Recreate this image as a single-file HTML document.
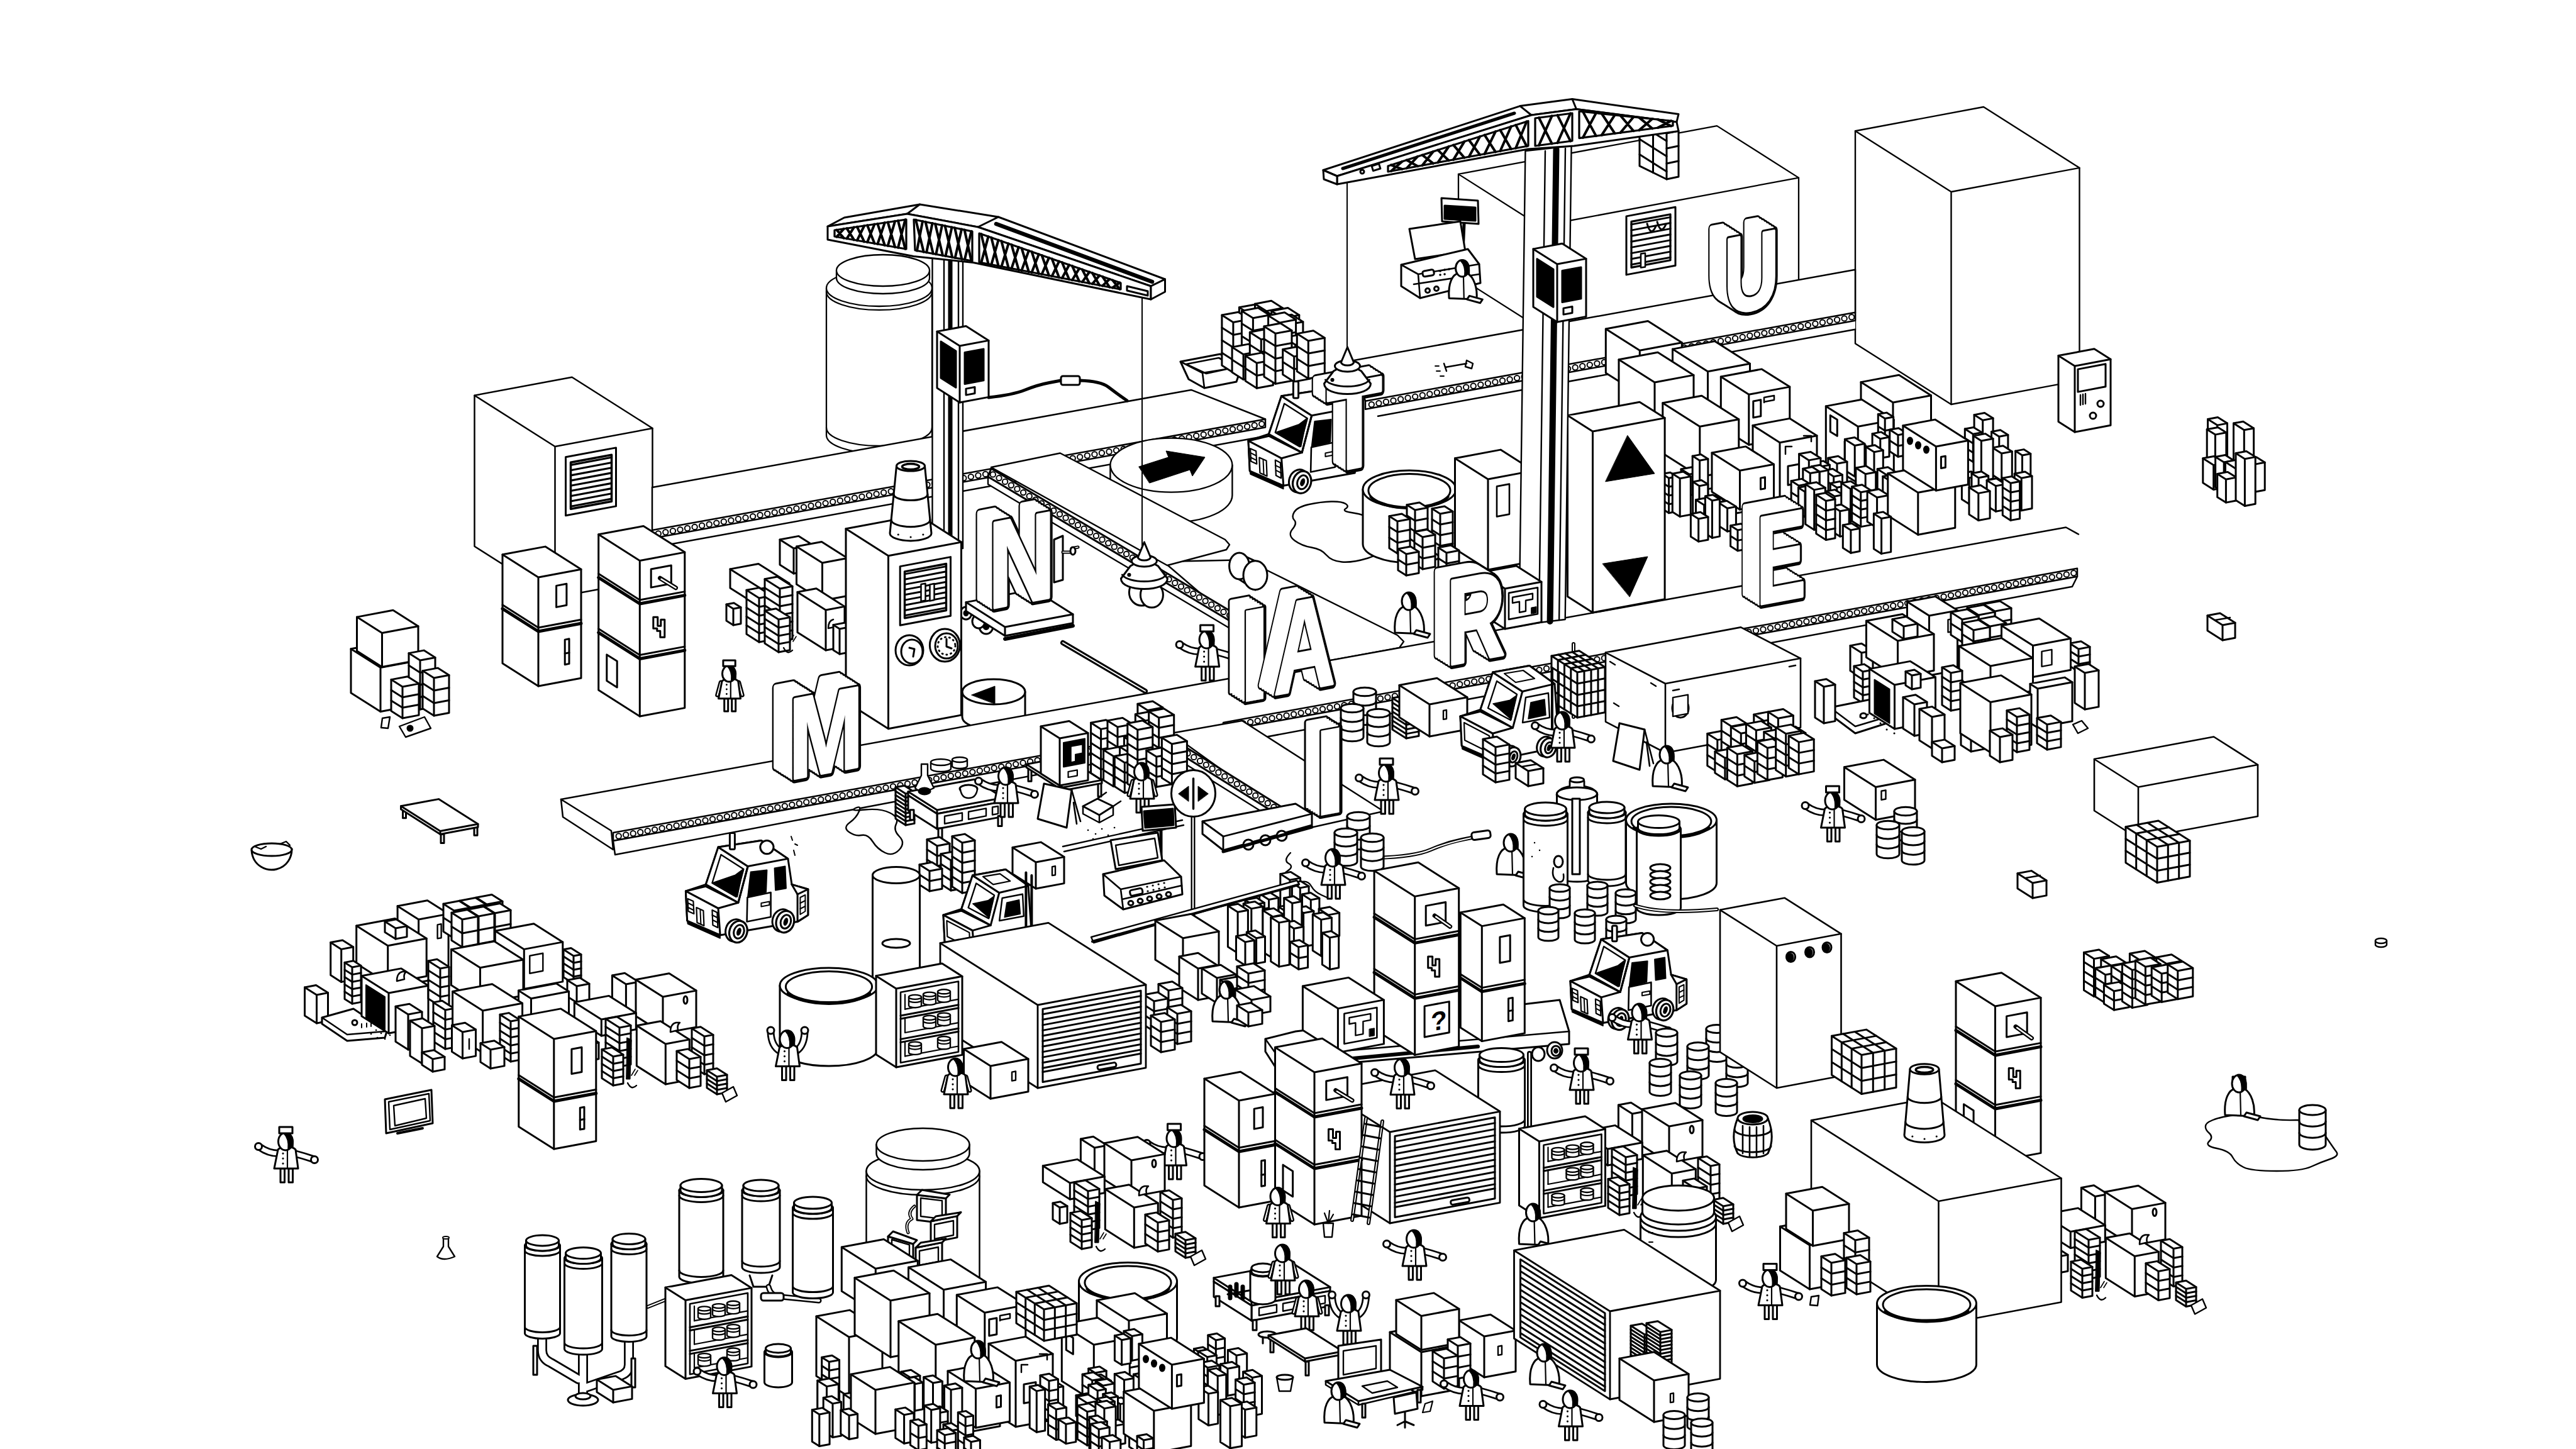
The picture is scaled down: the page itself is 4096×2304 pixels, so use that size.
<!DOCTYPE html>
<html><head><meta charset="utf-8"><title>Miniature</title>
<style>html,body{margin:0;padding:0;background:#fff;overflow:hidden}svg{display:block}text{font-family:"Liberation Sans",sans-serif}</style></head>
<body>
<svg width="4096" height="2304" viewBox="0 0 4096 2304" fill="#fff" stroke="#000" stroke-width="3" stroke-linejoin="round" stroke-linecap="round">
<rect x="-5" y="-5" width="4106" height="2314" fill="#fff" stroke="none"/>
<path d="M1314 458L1314 692A84 29 0 0 0 1482 692L1482 458Z" fill="#fff" stroke-width="2.3"/><ellipse cx="1398" cy="458" rx="84" ry="29" stroke-width="2.3"/><path d="M1314 680A84 29 0 0 0 1482 680" fill="none" stroke-width="2.3"/><path d="M1314 464A84 29 0 0 0 1482 464" fill="none" stroke-width="2.3"/><path d="M1330 430L1330 442A74 25 0 0 0 1478 442L1478 430Z" fill="#fff" stroke-width="2.3"/><ellipse cx="1404" cy="430" rx="74" ry="25" stroke-width="2.3"/>
<polygon points="754.5,628.7 909.5,599.7 1037.5,681 1037.5,921 882.5,950 754.5,868.7" stroke-width="2.5"/><path d="M754.5 628.7L882.5 710L1037.5 681M882.5 710L882.5 950" stroke-width="2.5"/><polygon points="899.5,726.8 979.5,711.9 979.5,804.9 899.5,819.8"/><polygon points="907.5,735.3 972.5,723.2 972.5,797.2 907.5,809.3" stroke-width="3.5"/><path d="M907.5 739.4L972.5 727.3M907.5 747.7L972.5 735.5M907.5 755.9L972.5 743.7M907.5 764.1L972.5 751.9M907.5 772.3L972.5 760.2M907.5 780.5L972.5 768.4M907.5 788.8L972.5 776.6M907.5 797L972.5 784.8M907.5 805.2L972.5 793.1" fill="none" stroke-width="3.2"/>
<polygon points="2950,208.2 3154,170 3306.5,266.9 3306.5,604.9 3102.5,643 2950,546.2" stroke-width="2.4"/><path d="M2950 208.2L3102.5 305L3306.5 266.9M3102.5 305L3102.5 643" stroke-width="2.4"/>
<polygon points="2319,276.9 2730,200.1 2860,282.6 2860,445.6 2449,522.5 2319,439.9" stroke-width="2.3"/><path d="M2319 276.9L2449 359.5L2860 282.6M2449 359.5L2449 522.5" stroke-width="2.3"/><polygon points="2586,343.9 2664,329.3 2664,422.3 2586,436.9"/><polygon points="2594,352.4 2656,340.8 2656,413.8 2594,425.4" stroke-width="3.2"/><path d="M2594 356.9L2656 345.4M2594 366.1L2656 354.5M2594 375.2L2656 363.6M2594 384.3L2656 372.7M2594 393.4L2656 381.9M2594 402.6L2656 391M2594 411.7L2656 400.1M2594 420.8L2656 409.2" fill="none"/><path d="M2619 355.7q6 22 14 4M2635 352.7q6 22 14 4" fill="none"/><polygon points="2609,403.6 2616,402.6 2616,424.6 2609,425.6" stroke-width="2.5"/>
<path d="M2328 356L2326 400" stroke-width="5"/><polygon points="2292,315 2350,319 2351,356 2293,352"/><polygon points="2297,327 2346,330 2346,351 2297,348" fill="#000"/><polygon points="2241,364 2322,352 2330,400 2250,412"/><polygon points="2228,421 2334,396 2352,420 2354,450 2258,474 2228,455"/><path d="M2228 421L2255 436L2352 420M2255 436L2258 474M2248 452L2352 436" fill="none" stroke-width="2.6"/><rect x="2262" y="430" width="18" height="9" rx="3" transform="rotate(-10 2270 434)"/><circle cx="2270" cy="462" r="3.5"/><circle cx="2284" cy="459" r="3.5"/><path d="M2290 431h.1M2297 429h.1M2304 428h.1M2290 437h.1M2297 436h.1" fill="none" stroke-width="3.5"/>
<path d="M2304.1 474.2C2302.2 449.5 2309.8 436.2 2319.3 434.3L2332.6 434.3C2344 440 2349.7 459 2347.8 476.1Z"/><path d="M2326.9 436.2L2327.8 474.2" stroke-width="2.2"/><ellipse cx="2325" cy="426.7" rx="10.4" ry="13.3"/><path d="M2322.2 414.4C2331.7 410.6 2337.3 418.1 2336.4 435.2L2328.8 438.1C2329.8 429.6 2327.8 420.1 2322.2 414.4Z" fill="#000" stroke-width="1.5"/><polygon points="2332.6,476.1 2353.5,481.8 2357.3,476.1 2336.4,470.4"/>
<polygon points="1037,775 1894,619.9 2012,666.5 2012,693.5 1037,870 1037,843" stroke="none"/><polyline points="1037,775 1894,619.9 2012,666.5" stroke-width="2.5"/><polyline points="1037,843 1037,775" stroke-width="2.5"/><polygon points="1037,843 2012,666.5 2012,679.5 1037,856" stroke-width="2.5"/><g stroke-width="2"><circle cx="1046.8" cy="848.4" r="4.2"/><circle cx="1058.3" cy="846.3" r="4.2"/><circle cx="1069.9" cy="844.2" r="4.2"/><circle cx="1081.5" cy="842.1" r="4.2"/><circle cx="1093" cy="840" r="4.2"/><circle cx="1104.6" cy="837.9" r="4.2"/><circle cx="1116.1" cy="835.8" r="4.2"/><circle cx="1127.7" cy="833.7" r="4.2"/><circle cx="1139.3" cy="831.6" r="4.2"/><circle cx="1150.8" cy="829.5" r="4.2"/><circle cx="1162.4" cy="827.4" r="4.2"/><circle cx="1173.9" cy="825.3" r="4.2"/><circle cx="1185.5" cy="823.2" r="4.2"/><circle cx="1197.1" cy="821.1" r="4.2"/><circle cx="1208.6" cy="819" r="4.2"/><circle cx="1220.2" cy="816.9" r="4.2"/><circle cx="1231.7" cy="814.8" r="4.2"/><circle cx="1243.3" cy="812.7" r="4.2"/><circle cx="1254.9" cy="810.6" r="4.2"/><circle cx="1266.4" cy="808.5" r="4.2"/><circle cx="1278" cy="806.4" r="4.2"/><circle cx="1289.5" cy="804.3" r="4.2"/><circle cx="1301.1" cy="802.2" r="4.2"/><circle cx="1312.6" cy="800.1" r="4.2"/><circle cx="1324.2" cy="798" r="4.2"/><circle cx="1335.8" cy="795.9" r="4.2"/><circle cx="1347.3" cy="793.8" r="4.2"/><circle cx="1358.9" cy="791.7" r="4.2"/><circle cx="1370.4" cy="789.6" r="4.2"/><circle cx="1382" cy="787.5" r="4.2"/><circle cx="1393.6" cy="785.4" r="4.2"/><circle cx="1405.1" cy="783.3" r="4.2"/><circle cx="1416.7" cy="781.2" r="4.2"/><circle cx="1428.2" cy="779.1" r="4.2"/><circle cx="1439.8" cy="777" r="4.2"/><circle cx="1451.4" cy="774.9" r="4.2"/><circle cx="1462.9" cy="772.8" r="4.2"/><circle cx="1474.5" cy="770.7" r="4.2"/><circle cx="1486" cy="768.6" r="4.2"/><circle cx="1497.6" cy="766.5" r="4.2"/><circle cx="1509.2" cy="764.4" r="4.2"/><circle cx="1520.7" cy="762.3" r="4.2"/><circle cx="1532.3" cy="760.2" r="4.2"/><circle cx="1543.8" cy="758.1" r="4.2"/><circle cx="1555.4" cy="756" r="4.2"/><circle cx="1567" cy="753.9" r="4.2"/><circle cx="1578.5" cy="751.8" r="4.2"/><circle cx="1590.1" cy="749.7" r="4.2"/><circle cx="1601.6" cy="747.6" r="4.2"/><circle cx="1613.2" cy="745.5" r="4.2"/><circle cx="1624.8" cy="743.4" r="4.2"/><circle cx="1636.3" cy="741.3" r="4.2"/><circle cx="1647.9" cy="739.2" r="4.2"/><circle cx="1659.4" cy="737.1" r="4.2"/><circle cx="1671" cy="735" r="4.2"/><circle cx="1682.6" cy="732.9" r="4.2"/><circle cx="1694.1" cy="730.8" r="4.2"/><circle cx="1705.7" cy="728.7" r="4.2"/><circle cx="1717.2" cy="726.6" r="4.2"/><circle cx="1728.8" cy="724.5" r="4.2"/><circle cx="1740.4" cy="722.4" r="4.2"/><circle cx="1751.9" cy="720.3" r="4.2"/><circle cx="1763.5" cy="718.2" r="4.2"/><circle cx="1775" cy="716.1" r="4.2"/><circle cx="1786.6" cy="714" r="4.2"/><circle cx="1798.1" cy="711.9" r="4.2"/><circle cx="1809.7" cy="709.8" r="4.2"/><circle cx="1821.3" cy="707.7" r="4.2"/><circle cx="1832.8" cy="705.6" r="4.2"/><circle cx="1844.4" cy="703.5" r="4.2"/><circle cx="1855.9" cy="701.4" r="4.2"/><circle cx="1867.5" cy="699.3" r="4.2"/><circle cx="1879.1" cy="697.2" r="4.2"/><circle cx="1890.6" cy="695.1" r="4.2"/><circle cx="1902.2" cy="693" r="4.2"/><circle cx="1913.7" cy="690.9" r="4.2"/><circle cx="1925.3" cy="688.8" r="4.2"/><circle cx="1936.9" cy="686.7" r="4.2"/><circle cx="1948.4" cy="684.6" r="4.2"/><circle cx="1960" cy="682.5" r="4.2"/><circle cx="1971.5" cy="680.4" r="4.2"/><circle cx="1983.1" cy="678.3" r="4.2"/><circle cx="1994.7" cy="676.2" r="4.2"/><circle cx="2006.2" cy="674.1" r="4.2"/></g><polyline points="1057,867 2012,693.5" stroke-width="2.5"/>
<polygon points="2150,573.5 2950,428.7 2950,496.7 2950,523.7 2171,664.7 2171,637.7" stroke="none"/><polyline points="2150,573.5 2950,428.7 2950,496.7" stroke-width="2.5"/><polyline points="2171,637.7 2150,573.5" stroke-width="2.5"/><polygon points="2171,637.7 2950,496.7 2950,509.7 2171,650.7" stroke-width="2.5"/><g stroke-width="2"><circle cx="2180.8" cy="643.2" r="4.2"/><circle cx="2192.4" cy="641.1" r="4.2"/><circle cx="2203.9" cy="639" r="4.2"/><circle cx="2215.5" cy="636.9" r="4.2"/><circle cx="2227.1" cy="634.8" r="4.2"/><circle cx="2238.6" cy="632.7" r="4.2"/><circle cx="2250.2" cy="630.6" r="4.2"/><circle cx="2261.8" cy="628.5" r="4.2"/><circle cx="2273.3" cy="626.4" r="4.2"/><circle cx="2284.9" cy="624.3" r="4.2"/><circle cx="2296.5" cy="622.1" r="4.2"/><circle cx="2308" cy="620" r="4.2"/><circle cx="2319.6" cy="617.9" r="4.2"/><circle cx="2331.2" cy="615.8" r="4.2"/><circle cx="2342.7" cy="613.7" r="4.2"/><circle cx="2354.3" cy="611.6" r="4.2"/><circle cx="2365.9" cy="609.5" r="4.2"/><circle cx="2377.4" cy="607.4" r="4.2"/><circle cx="2389" cy="605.3" r="4.2"/><circle cx="2400.6" cy="603.2" r="4.2"/><circle cx="2412.1" cy="601.1" r="4.2"/><circle cx="2423.7" cy="599" r="4.2"/><circle cx="2435.3" cy="596.9" r="4.2"/><circle cx="2446.8" cy="594.8" r="4.2"/><circle cx="2458.4" cy="592.7" r="4.2"/><circle cx="2470" cy="590.6" r="4.2"/><circle cx="2481.5" cy="588.5" r="4.2"/><circle cx="2493.1" cy="586.4" r="4.2"/><circle cx="2504.7" cy="584.3" r="4.2"/><circle cx="2516.2" cy="582.2" r="4.2"/><circle cx="2527.8" cy="580.1" r="4.2"/><circle cx="2539.4" cy="578" r="4.2"/><circle cx="2550.9" cy="575.9" r="4.2"/><circle cx="2562.5" cy="573.7" r="4.2"/><circle cx="2574.1" cy="571.6" r="4.2"/><circle cx="2585.6" cy="569.5" r="4.2"/><circle cx="2597.2" cy="567.4" r="4.2"/><circle cx="2608.8" cy="565.3" r="4.2"/><circle cx="2620.3" cy="563.2" r="4.2"/><circle cx="2631.9" cy="561.1" r="4.2"/><circle cx="2643.5" cy="559" r="4.2"/><circle cx="2655" cy="556.9" r="4.2"/><circle cx="2666.6" cy="554.8" r="4.2"/><circle cx="2678.2" cy="552.7" r="4.2"/><circle cx="2689.7" cy="550.6" r="4.2"/><circle cx="2701.3" cy="548.5" r="4.2"/><circle cx="2712.9" cy="546.4" r="4.2"/><circle cx="2724.4" cy="544.3" r="4.2"/><circle cx="2736" cy="542.2" r="4.2"/><circle cx="2747.6" cy="540.1" r="4.2"/><circle cx="2759.1" cy="538" r="4.2"/><circle cx="2770.7" cy="535.9" r="4.2"/><circle cx="2782.3" cy="533.8" r="4.2"/><circle cx="2793.8" cy="531.7" r="4.2"/><circle cx="2805.4" cy="529.6" r="4.2"/><circle cx="2817" cy="527.4" r="4.2"/><circle cx="2828.5" cy="525.3" r="4.2"/><circle cx="2840.1" cy="523.2" r="4.2"/><circle cx="2851.7" cy="521.1" r="4.2"/><circle cx="2863.2" cy="519" r="4.2"/><circle cx="2874.8" cy="516.9" r="4.2"/><circle cx="2886.4" cy="514.8" r="4.2"/><circle cx="2897.9" cy="512.7" r="4.2"/><circle cx="2909.5" cy="510.6" r="4.2"/><circle cx="2921.1" cy="508.5" r="4.2"/><circle cx="2932.6" cy="506.4" r="4.2"/><circle cx="2944.2" cy="504.3" r="4.2"/></g><polyline points="2191,661.7 2950,523.7" stroke-width="2.5"/>
<path d="M1572 632Q1610 628 1630 620Q1650 612 1668.5 608.5L1687 605" fill="none" stroke-width="5"/>
<path d="M1717 605Q1750 606 1762.5 615.5Q1775 625 1783.5 631L1792 637" fill="none" stroke-width="5"/>
<path d="M1572 632Q1610 628 1630 620Q1650 612 1668.5 608.5L1687 605" fill="none" stroke-width="1.5"/>
<rect x="1687" y="598" width="30" height="14" rx="3"/>
<polygon points="1877,575 1940,563 1974,583 1966,607 1915,617 1890,603"/><path d="M1877 575L1912 593L1974 583M1912 593L1915 617M1886 579L1938 569L1964 584L1918 594Z" fill="none" stroke-width="2.6"/>
<polygon points="1970.4,488.8 1996.4,484 2014.4,495.4 2014.4,555.4 1988.4,560.2 1970.4,548.8"/><path d="M1970.4 488.8L1988.4 500.2L2014.4 495.4M1988.4 500.2L1988.4 560.2"/><path d="M1970.4 508.8L1988.4 520.2L2014.4 515.4M1970.4 528.8L1988.4 540.2L2014.4 535.4" fill="none"/>
<polygon points="1995.5,483.2 2021.5,478.3 2039.5,489.7 2039.5,549.7 2013.5,554.6 1995.5,543.2"/><path d="M1995.5 483.2L2013.5 494.6L2039.5 489.7M2013.5 494.6L2013.5 554.6"/><path d="M1995.5 503.2L2013.5 514.6L2039.5 509.7M1995.5 523.2L2013.5 534.6L2039.5 529.7" fill="none"/>
<polygon points="1988.5,500.6 2014.5,495.7 2032.5,507.1 2032.5,567.1 2006.5,572 1988.5,560.6"/><path d="M1988.5 500.6L2006.5 512L2032.5 507.1M2006.5 512L2006.5 572"/><path d="M1988.5 520.6L2006.5 532L2032.5 527.1M1988.5 540.6L2006.5 552L2032.5 547.1" fill="none"/>
<polygon points="2021.8,494.4 2047.8,489.6 2065.8,501 2065.8,561 2039.8,565.9 2021.8,554.4"/><path d="M2021.8 494.4L2039.8 505.9L2065.8 501M2039.8 505.9L2039.8 565.9"/><path d="M2021.8 514.4L2039.8 525.9L2065.8 521M2021.8 534.4L2039.8 545.9L2065.8 541" fill="none"/>
<polygon points="1942.9,501 1968.9,496.2 1986.9,507.6 1986.9,587.6 1960.9,592.5 1942.9,581"/><path d="M1942.9 501L1960.9 512.5L1986.9 507.6M1960.9 512.5L1960.9 592.5"/><path d="M1942.9 521L1960.9 532.5L1986.9 527.6M1942.9 541L1960.9 552.5L1986.9 547.6M1942.9 561L1960.9 572.5L1986.9 567.6" fill="none"/>
<polygon points="1974.4,494.4 2000.4,489.5 2018.4,501 2018.4,581 1992.4,585.8 1974.4,574.4"/><path d="M1974.4 494.4L1992.4 505.8L2018.4 501M1992.4 505.8L1992.4 585.8"/><path d="M1974.4 514.4L1992.4 525.8L2018.4 521M1974.4 534.4L1992.4 545.8L2018.4 541M1974.4 554.4L1992.4 565.8L2018.4 561" fill="none"/>
<polygon points="1999.2,531.4 2025.2,526.6 2043.2,538 2043.2,578 2017.2,582.9 1999.2,571.4"/><path d="M1999.2 531.4L2017.2 542.9L2043.2 538M2017.2 542.9L2017.2 582.9"/><path d="M1999.2 551.4L2017.2 562.9L2043.2 558" fill="none"/>
<polygon points="2027.9,505.1 2053.9,500.3 2071.9,511.7 2071.9,571.7 2045.9,576.6 2027.9,565.1"/><path d="M2027.9 505.1L2045.9 516.6L2071.9 511.7M2045.9 516.6L2045.9 576.6"/><path d="M2027.9 525.1L2045.9 536.6L2071.9 531.7M2027.9 545.1L2045.9 556.6L2071.9 551.7" fill="none"/>
<polygon points="1959.1,552 1985.1,547.1 2003.1,558.5 2003.1,598.5 1977.1,603.4 1959.1,592"/><path d="M1959.1 552L1977.1 563.4L2003.1 558.5M1977.1 563.4L1977.1 603.4"/><path d="M1959.1 572L1977.1 583.4L2003.1 578.5" fill="none"/>
<polygon points="1987.3,528.3 2013.3,523.4 2031.3,534.9 2031.3,594.9 2005.3,599.7 1987.3,588.3"/><path d="M1987.3 528.3L2005.3 539.7L2031.3 534.9M2005.3 539.7L2005.3 599.7"/><path d="M1987.3 548.3L2005.3 559.7L2031.3 554.9M1987.3 568.3L2005.3 579.7L2031.3 574.9" fill="none"/>
<polygon points="2016.6,501.7 2042.6,496.8 2060.6,508.2 2060.6,588.2 2034.6,593.1 2016.6,581.7"/><path d="M2016.6 501.7L2034.6 513.1L2060.6 508.2M2034.6 513.1L2034.6 593.1"/><path d="M2016.6 521.7L2034.6 533.1L2060.6 528.2M2016.6 541.7L2034.6 553.1L2060.6 548.2M2016.6 561.7L2034.6 573.1L2060.6 568.2" fill="none"/>
<polygon points="2041.7,536.8 2067.7,531.9 2085.7,543.4 2085.7,583.4 2059.7,588.2 2041.7,576.8"/><path d="M2041.7 536.8L2059.7 548.2L2085.7 543.4M2059.7 548.2L2059.7 588.2"/><path d="M2041.7 556.8L2059.7 568.2L2085.7 563.4" fill="none"/>
<polygon points="1980.3,565.8 2006.3,560.9 2024.3,572.4 2024.3,612.4 1998.3,617.2 1980.3,605.8"/><path d="M1980.3 565.8L1998.3 577.2L2024.3 572.4M1998.3 577.2L1998.3 617.2"/><path d="M1980.3 585.8L1998.3 597.2L2024.3 592.4" fill="none"/>
<polygon points="2010,518.9 2036,514 2054,525.5 2054,605.5 2028,610.3 2010,598.9"/><path d="M2010 518.9L2028 530.3L2054 525.5M2028 530.3L2028 610.3"/><path d="M2010 538.9L2028 550.3L2054 545.5M2010 558.9L2028 570.3L2054 565.5M2010 578.9L2028 590.3L2054 585.5" fill="none"/>
<polygon points="2039.7,555.5 2065.7,550.7 2083.7,562.1 2083.7,602.1 2057.7,607 2039.7,595.5"/><path d="M2039.7 555.5L2057.7 567L2083.7 562.1M2057.7 567L2057.7 607"/><path d="M2039.7 575.5L2057.7 587L2083.7 582.1" fill="none"/>
<polygon points="2062.3,530.6 2088.3,525.7 2106.3,537.2 2106.3,597.2 2080.3,602 2062.3,590.6"/><path d="M2062.3 530.6L2080.3 542L2106.3 537.2M2080.3 542L2080.3 602"/><path d="M2062.3 550.6L2080.3 562L2106.3 557.2M2062.3 570.6L2080.3 582L2106.3 577.2" fill="none"/>
<path d="M1765.4 739.6L1765.4 787.6A97 43 0 0 0 1959.4 787.6L1959.4 739.6Z" fill="#fff" stroke-width="2.4"/><ellipse cx="1862.4" cy="739.6" rx="97" ry="43" stroke-width="2.4"/><polygon points="1811,742 1858,727 1854,717 1916,727 1896,757 1892,747 1828,768" fill="#000" stroke-width="1"/>
<polygon points="1850,893 1990,890 2015,907 2222,1010 2232,1020 2225,1030 1980,1075 1955,983" stroke-width="2.4"/>
<polygon points="1576,743 1685.7,720.5 1948,858 1955,866 1950,874 1856,899" stroke-width="2.4"/>
<polygon points="1571,758 1957,988 1957,1000 1571,770" stroke-width="2.4"/>
<polygon points="1576,745 1962,975 1957,988 1571,758"/><g stroke-width="2"><circle cx="1578.8" cy="754.4" r="4.2"/><circle cx="1588.5" cy="760.1" r="4.2"/><circle cx="1598.1" cy="765.9" r="4.2"/><circle cx="1607.8" cy="771.6" r="4.2"/><circle cx="1617.4" cy="777.4" r="4.2"/><circle cx="1627.1" cy="783.1" r="4.2"/><circle cx="1636.7" cy="788.9" r="4.2"/><circle cx="1646.4" cy="794.6" r="4.2"/><circle cx="1656" cy="800.4" r="4.2"/><circle cx="1665.7" cy="806.1" r="4.2"/><circle cx="1675.3" cy="811.9" r="4.2"/><circle cx="1685" cy="817.6" r="4.2"/><circle cx="1694.6" cy="823.4" r="4.2"/><circle cx="1704.3" cy="829.1" r="4.2"/><circle cx="1713.9" cy="834.9" r="4.2"/><circle cx="1723.6" cy="840.6" r="4.2"/><circle cx="1733.2" cy="846.4" r="4.2"/><circle cx="1742.9" cy="852.1" r="4.2"/><circle cx="1752.5" cy="857.9" r="4.2"/><circle cx="1762.2" cy="863.6" r="4.2"/><circle cx="1771.8" cy="869.4" r="4.2"/><circle cx="1781.5" cy="875.1" r="4.2"/><circle cx="1791.1" cy="880.9" r="4.2"/><circle cx="1800.8" cy="886.6" r="4.2"/><circle cx="1810.4" cy="892.4" r="4.2"/><circle cx="1820.1" cy="898.1" r="4.2"/><circle cx="1829.7" cy="903.9" r="4.2"/><circle cx="1839.4" cy="909.6" r="4.2"/><circle cx="1849" cy="915.4" r="4.2"/><circle cx="1858.7" cy="921.1" r="4.2"/><circle cx="1868.3" cy="926.9" r="4.2"/><circle cx="1878" cy="932.6" r="4.2"/><circle cx="1887.6" cy="938.4" r="4.2"/><circle cx="1897.3" cy="944.1" r="4.2"/><circle cx="1906.9" cy="949.9" r="4.2"/><circle cx="1916.6" cy="955.6" r="4.2"/><circle cx="1926.2" cy="961.4" r="4.2"/><circle cx="1935.9" cy="967.1" r="4.2"/><circle cx="1945.5" cy="972.9" r="4.2"/><circle cx="1955.2" cy="978.6" r="4.2"/></g>
<path d="M1690 1022L1821 1099" stroke-width="8"/><path d="M1690 1022L1821 1099" stroke="#fff" stroke-width="2"/>
<path d="M1530 1100L1530 1140A50 20 0 0 0 1630 1140L1630 1100Z" fill="#fff"/><ellipse cx="1580" cy="1100" rx="50" ry="20"/><polygon points="1545,1105 1582,1091 1582,1119" fill="#000" stroke-width="1"/>
<path d="M2296 578l4 12M2298 584l34 -6M2332 573l10 5l-2 8l-10 -3z" fill="none" stroke-width="2.4"/><path d="M2282 582h6M2284 590h6M2290 598h6" fill="none" stroke-width="1.8"/>
<polygon points="892,1271 3305,835.5 3307,849.5 3307,876.5 975,1351 895,1299" stroke="none"/><polyline points="892,1271 3285,838.5 3305,849.5" stroke-width="2.5"/><polygon points="892,1271 972,1321 975,1351 895,1299" stroke-width="2.5"/>
<polygon points="975,1324 1862,1163.9 1862,1176.9 975,1337" stroke-width="2.5"/><g stroke-width="2"><circle cx="983.7" cy="1329.5" r="4.2"/><circle cx="995.2" cy="1327.4" r="4.2"/><circle cx="1006.7" cy="1325.3" r="4.2"/><circle cx="1018.2" cy="1323.2" r="4.2"/><circle cx="1029.7" cy="1321.1" r="4.2"/><circle cx="1041.1" cy="1319.1" r="4.2"/><circle cx="1052.6" cy="1317" r="4.2"/><circle cx="1064.1" cy="1314.9" r="4.2"/><circle cx="1075.6" cy="1312.8" r="4.2"/><circle cx="1087.1" cy="1310.7" r="4.2"/><circle cx="1098.5" cy="1308.7" r="4.2"/><circle cx="1110" cy="1306.6" r="4.2"/><circle cx="1121.5" cy="1304.5" r="4.2"/><circle cx="1133" cy="1302.4" r="4.2"/><circle cx="1144.5" cy="1300.4" r="4.2"/><circle cx="1155.9" cy="1298.3" r="4.2"/><circle cx="1167.4" cy="1296.2" r="4.2"/><circle cx="1178.9" cy="1294.1" r="4.2"/><circle cx="1190.4" cy="1292" r="4.2"/><circle cx="1201.9" cy="1290" r="4.2"/><circle cx="1213.4" cy="1287.9" r="4.2"/><circle cx="1224.8" cy="1285.8" r="4.2"/><circle cx="1236.3" cy="1283.7" r="4.2"/><circle cx="1247.8" cy="1281.6" r="4.2"/><circle cx="1259.3" cy="1279.6" r="4.2"/><circle cx="1270.8" cy="1277.5" r="4.2"/><circle cx="1282.2" cy="1275.4" r="4.2"/><circle cx="1293.7" cy="1273.3" r="4.2"/><circle cx="1305.2" cy="1271.2" r="4.2"/><circle cx="1316.7" cy="1269.2" r="4.2"/><circle cx="1328.2" cy="1267.1" r="4.2"/><circle cx="1339.6" cy="1265" r="4.2"/><circle cx="1351.1" cy="1262.9" r="4.2"/><circle cx="1362.6" cy="1260.8" r="4.2"/><circle cx="1374.1" cy="1258.8" r="4.2"/><circle cx="1385.6" cy="1256.7" r="4.2"/><circle cx="1397" cy="1254.6" r="4.2"/><circle cx="1408.5" cy="1252.5" r="4.2"/><circle cx="1420" cy="1250.4" r="4.2"/><circle cx="1431.5" cy="1248.4" r="4.2"/><circle cx="1443" cy="1246.3" r="4.2"/><circle cx="1454.4" cy="1244.2" r="4.2"/><circle cx="1465.9" cy="1242.1" r="4.2"/><circle cx="1477.4" cy="1240.1" r="4.2"/><circle cx="1488.9" cy="1238" r="4.2"/><circle cx="1500.4" cy="1235.9" r="4.2"/><circle cx="1511.8" cy="1233.8" r="4.2"/><circle cx="1523.3" cy="1231.7" r="4.2"/><circle cx="1534.8" cy="1229.7" r="4.2"/><circle cx="1546.3" cy="1227.6" r="4.2"/><circle cx="1557.8" cy="1225.5" r="4.2"/><circle cx="1569.2" cy="1223.4" r="4.2"/><circle cx="1580.7" cy="1221.3" r="4.2"/><circle cx="1592.2" cy="1219.3" r="4.2"/><circle cx="1603.7" cy="1217.2" r="4.2"/><circle cx="1615.2" cy="1215.1" r="4.2"/><circle cx="1626.6" cy="1213" r="4.2"/><circle cx="1638.1" cy="1210.9" r="4.2"/><circle cx="1649.6" cy="1208.9" r="4.2"/><circle cx="1661.1" cy="1206.8" r="4.2"/><circle cx="1672.6" cy="1204.7" r="4.2"/><circle cx="1684.1" cy="1202.6" r="4.2"/><circle cx="1695.5" cy="1200.5" r="4.2"/><circle cx="1707" cy="1198.5" r="4.2"/><circle cx="1718.5" cy="1196.4" r="4.2"/><circle cx="1730" cy="1194.3" r="4.2"/><circle cx="1741.5" cy="1192.2" r="4.2"/><circle cx="1752.9" cy="1190.1" r="4.2"/><circle cx="1764.4" cy="1188.1" r="4.2"/><circle cx="1775.9" cy="1186" r="4.2"/><circle cx="1787.4" cy="1183.9" r="4.2"/><circle cx="1798.9" cy="1181.8" r="4.2"/><circle cx="1810.3" cy="1179.8" r="4.2"/><circle cx="1821.8" cy="1177.7" r="4.2"/><circle cx="1833.3" cy="1175.6" r="4.2"/><circle cx="1844.8" cy="1173.5" r="4.2"/><circle cx="1856.3" cy="1171.4" r="4.2"/></g><polygon points="975,1337 978,1359 1854,1192.9 1862,1176.9" stroke-width="2.5"/>
<polygon points="1945,1148.9 3303,903.8 3303,916.8 1945,1161.9" stroke-width="2.5"/><g stroke-width="2"><circle cx="1953.7" cy="1154.4" r="4.2"/><circle cx="1965.2" cy="1152.3" r="4.2"/><circle cx="1976.7" cy="1150.2" r="4.2"/><circle cx="1988.2" cy="1148.1" r="4.2"/><circle cx="1999.7" cy="1146.1" r="4.2"/><circle cx="2011.2" cy="1144" r="4.2"/><circle cx="2022.6" cy="1141.9" r="4.2"/><circle cx="2034.1" cy="1139.8" r="4.2"/><circle cx="2045.6" cy="1137.8" r="4.2"/><circle cx="2057.1" cy="1135.7" r="4.2"/><circle cx="2068.6" cy="1133.6" r="4.2"/><circle cx="2080.1" cy="1131.5" r="4.2"/><circle cx="2091.5" cy="1129.4" r="4.2"/><circle cx="2103" cy="1127.4" r="4.2"/><circle cx="2114.5" cy="1125.3" r="4.2"/><circle cx="2126" cy="1123.2" r="4.2"/><circle cx="2137.5" cy="1121.1" r="4.2"/><circle cx="2149" cy="1119.1" r="4.2"/><circle cx="2160.4" cy="1117" r="4.2"/><circle cx="2171.9" cy="1114.9" r="4.2"/><circle cx="2183.4" cy="1112.8" r="4.2"/><circle cx="2194.9" cy="1110.8" r="4.2"/><circle cx="2206.4" cy="1108.7" r="4.2"/><circle cx="2217.9" cy="1106.6" r="4.2"/><circle cx="2229.3" cy="1104.5" r="4.2"/><circle cx="2240.8" cy="1102.4" r="4.2"/><circle cx="2252.3" cy="1100.4" r="4.2"/><circle cx="2263.8" cy="1098.3" r="4.2"/><circle cx="2275.3" cy="1096.2" r="4.2"/><circle cx="2286.8" cy="1094.1" r="4.2"/><circle cx="2298.2" cy="1092.1" r="4.2"/><circle cx="2309.7" cy="1090" r="4.2"/><circle cx="2321.2" cy="1087.9" r="4.2"/><circle cx="2332.7" cy="1085.8" r="4.2"/><circle cx="2344.2" cy="1083.7" r="4.2"/><circle cx="2355.6" cy="1081.7" r="4.2"/><circle cx="2367.1" cy="1079.6" r="4.2"/><circle cx="2378.6" cy="1077.5" r="4.2"/><circle cx="2390.1" cy="1075.4" r="4.2"/><circle cx="2401.6" cy="1073.4" r="4.2"/><circle cx="2413.1" cy="1071.3" r="4.2"/><circle cx="2424.5" cy="1069.2" r="4.2"/><circle cx="2436" cy="1067.1" r="4.2"/><circle cx="2447.5" cy="1065.1" r="4.2"/><circle cx="2459" cy="1063" r="4.2"/><circle cx="2470.5" cy="1060.9" r="4.2"/><circle cx="2482" cy="1058.8" r="4.2"/><circle cx="2493.4" cy="1056.7" r="4.2"/><circle cx="2504.9" cy="1054.7" r="4.2"/><circle cx="2516.4" cy="1052.6" r="4.2"/><circle cx="2527.9" cy="1050.5" r="4.2"/><circle cx="2539.4" cy="1048.4" r="4.2"/><circle cx="2550.9" cy="1046.4" r="4.2"/><circle cx="2562.3" cy="1044.3" r="4.2"/><circle cx="2573.8" cy="1042.2" r="4.2"/><circle cx="2585.3" cy="1040.1" r="4.2"/><circle cx="2596.8" cy="1038" r="4.2"/><circle cx="2608.3" cy="1036" r="4.2"/><circle cx="2619.8" cy="1033.9" r="4.2"/><circle cx="2631.2" cy="1031.8" r="4.2"/><circle cx="2642.7" cy="1029.7" r="4.2"/><circle cx="2654.2" cy="1027.7" r="4.2"/><circle cx="2665.7" cy="1025.6" r="4.2"/><circle cx="2677.2" cy="1023.5" r="4.2"/><circle cx="2688.7" cy="1021.4" r="4.2"/><circle cx="2700.1" cy="1019.4" r="4.2"/><circle cx="2711.6" cy="1017.3" r="4.2"/><circle cx="2723.1" cy="1015.2" r="4.2"/><circle cx="2734.6" cy="1013.1" r="4.2"/><circle cx="2746.1" cy="1011" r="4.2"/><circle cx="2757.6" cy="1009" r="4.2"/><circle cx="2769" cy="1006.9" r="4.2"/><circle cx="2780.5" cy="1004.8" r="4.2"/><circle cx="2792" cy="1002.7" r="4.2"/><circle cx="2803.5" cy="1000.7" r="4.2"/><circle cx="2815" cy="998.6" r="4.2"/><circle cx="2826.5" cy="996.5" r="4.2"/><circle cx="2837.9" cy="994.4" r="4.2"/><circle cx="2849.4" cy="992.3" r="4.2"/><circle cx="2860.9" cy="990.3" r="4.2"/><circle cx="2872.4" cy="988.2" r="4.2"/><circle cx="2883.9" cy="986.1" r="4.2"/><circle cx="2895.4" cy="984" r="4.2"/><circle cx="2906.8" cy="982" r="4.2"/><circle cx="2918.3" cy="979.9" r="4.2"/><circle cx="2929.8" cy="977.8" r="4.2"/><circle cx="2941.3" cy="975.7" r="4.2"/><circle cx="2952.8" cy="973.7" r="4.2"/><circle cx="2964.2" cy="971.6" r="4.2"/><circle cx="2975.7" cy="969.5" r="4.2"/><circle cx="2987.2" cy="967.4" r="4.2"/><circle cx="2998.7" cy="965.3" r="4.2"/><circle cx="3010.2" cy="963.3" r="4.2"/><circle cx="3021.7" cy="961.2" r="4.2"/><circle cx="3033.1" cy="959.1" r="4.2"/><circle cx="3044.6" cy="957" r="4.2"/><circle cx="3056.1" cy="955" r="4.2"/><circle cx="3067.6" cy="952.9" r="4.2"/><circle cx="3079.1" cy="950.8" r="4.2"/><circle cx="3090.6" cy="948.7" r="4.2"/><circle cx="3102" cy="946.6" r="4.2"/><circle cx="3113.5" cy="944.6" r="4.2"/><circle cx="3125" cy="942.5" r="4.2"/><circle cx="3136.5" cy="940.4" r="4.2"/><circle cx="3148" cy="938.3" r="4.2"/><circle cx="3159.5" cy="936.3" r="4.2"/><circle cx="3170.9" cy="934.2" r="4.2"/><circle cx="3182.4" cy="932.1" r="4.2"/><circle cx="3193.9" cy="930" r="4.2"/><circle cx="3205.4" cy="928" r="4.2"/><circle cx="3216.9" cy="925.9" r="4.2"/><circle cx="3228.4" cy="923.8" r="4.2"/><circle cx="3239.8" cy="921.7" r="4.2"/><circle cx="3251.3" cy="919.6" r="4.2"/><circle cx="3262.8" cy="917.6" r="4.2"/><circle cx="3274.3" cy="915.5" r="4.2"/><circle cx="3285.8" cy="913.4" r="4.2"/><circle cx="3297.3" cy="911.3" r="4.2"/></g><polygon points="1945,1161.9 1948,1183.9 3295,932.8 3303,916.8" stroke-width="2.5"/>
<polygon points="1862,1166 1975,1146 2200,1290 2075,1318 2050,1301" stroke-width="2.4"/>
<polygon points="1861,1189 2047,1305 2047,1316 1861,1200" stroke-width="2.4"/>
<polygon points="1866,1176 2052,1292 2047,1305 1861,1189"/><g stroke-width="2"><circle cx="1868.9" cy="1185.6" r="4.2"/><circle cx="1878.7" cy="1191.7" r="4.2"/><circle cx="1888.5" cy="1197.8" r="4.2"/><circle cx="1898.3" cy="1203.9" r="4.2"/><circle cx="1908.1" cy="1210" r="4.2"/><circle cx="1917.8" cy="1216.1" r="4.2"/><circle cx="1927.6" cy="1222.2" r="4.2"/><circle cx="1937.4" cy="1228.3" r="4.2"/><circle cx="1947.2" cy="1234.4" r="4.2"/><circle cx="1957" cy="1240.5" r="4.2"/><circle cx="1966.8" cy="1246.6" r="4.2"/><circle cx="1976.6" cy="1252.7" r="4.2"/><circle cx="1986.4" cy="1258.8" r="4.2"/><circle cx="1996.2" cy="1264.9" r="4.2"/><circle cx="2005.9" cy="1271" r="4.2"/><circle cx="2015.7" cy="1277.1" r="4.2"/><circle cx="2025.5" cy="1283.2" r="4.2"/><circle cx="2035.3" cy="1289.3" r="4.2"/><circle cx="2045.1" cy="1295.4" r="4.2"/></g>
<path d="M1690 1346L1880 1304M1692 1354L1882 1312" fill="none" stroke-width="2.4"/>
<g font-family="'Liberation Sans',sans-serif" font-weight="bold" font-size="171.5" stroke-linejoin="round"><g fill="#000" stroke="#000" stroke-width="15"><text transform="matrix(0.707 -0.1322 0 1 2741.2 499.9)">U</text><text transform="matrix(0.707 -0.1322 0 1 2737.4 497.4)">U</text><text transform="matrix(0.707 -0.1322 0 1 2733.5 495)">U</text><text transform="matrix(0.707 -0.1322 0 1 2729.7 492.5)">U</text><text transform="matrix(0.707 -0.1322 0 1 2725.8 490.1)">U</text><text transform="matrix(0.707 -0.1322 0 1 2721.9 487.6)">U</text><text transform="matrix(0.707 -0.1322 0 1 2718.1 485.2)">U</text><text transform="matrix(0.707 -0.1322 0 1 2714.2 482.7)">U</text></g><g fill="#fff" stroke="#fff" stroke-width="9"><text transform="matrix(0.707 -0.1322 0 1 2741.2 499.9)">U</text><text transform="matrix(0.707 -0.1322 0 1 2737.4 497.4)">U</text><text transform="matrix(0.707 -0.1322 0 1 2733.5 495)">U</text><text transform="matrix(0.707 -0.1322 0 1 2729.7 492.5)">U</text><text transform="matrix(0.707 -0.1322 0 1 2725.8 490.1)">U</text><text transform="matrix(0.707 -0.1322 0 1 2721.9 487.6)">U</text><text transform="matrix(0.707 -0.1322 0 1 2718.1 485.2)">U</text><text transform="matrix(0.707 -0.1322 0 1 2714.2 482.7)">U</text></g><g fill="#000" stroke="#000" stroke-width="10"><text transform="matrix(0.707 -0.1322 0 1 2741.2 499.9)">U</text></g><g fill="#fff" stroke="#fff" stroke-width="4"><text transform="matrix(0.707 -0.1322 0 1 2741.2 499.9)">U</text></g></g>
<polygon points="3273,565.5 3330,554.8 3356,571.3 3356,676.3 3299,687 3273,670.5"/><path d="M3273 565.5L3299 582L3356 571.3M3299 582L3299 687"/><polygon points="3304,587.1 3348,578.8 3348,614.8 3304,623.1"/><path d="M3308 628v16M3312 627v16M3316 626v16" fill="none" stroke-width="2.4"/><ellipse cx="3340" cy="642" rx="5" ry="5"/><ellipse cx="3328" cy="661" rx="5" ry="5"/>
<path d="M2058 814Q2063 806 2081.5 802Q2100 798 2116.5 797.5Q2133 797 2139.5 801Q2146 805 2139.5 809Q2133 813 2151.5 815.5Q2170 818 2190 829Q2210 840 2205 860Q2200 880 2175 887.5Q2150 895 2133.5 893.5Q2117 892 2109 882.5Q2101 873 2085.5 870.5Q2070 868 2058.5 859.5Q2047 851 2055 841.5Q2063 832 2058 827Q2053 822 2058 814Z" stroke-width="2.4"/>
<polygon points="2553.3,523 2620.3,510.5 2674.3,544.8 2674.3,614.8 2607.3,627.3 2553.3,593"/><path d="M2553.3 523L2607.3 557.3L2674.3 544.8M2607.3 557.3L2607.3 627.3"/>
<polygon points="2659.5,555.1 2726.5,542.6 2782.5,578.2 2782.5,638.2 2715.5,650.7 2659.5,615.1"/><path d="M2659.5 555.1L2715.5 590.7L2782.5 578.2M2715.5 590.7L2715.5 650.7"/>
<polygon points="2959,607.6 3019.5,596.3 3070.5,628.7 3070.5,703.7 3010,715 2959,682.6"/><path d="M2959 607.6L3010 640L3070.5 628.7M3010 640L3010 715"/>
<polygon points="2574,571.8 2636,560.2 2693,596.4 2693,686.4 2631,698 2574,661.8"/><path d="M2574 571.8L2631 608L2693 596.4M2631 608L2631 698"/>
<polygon points="2903.3,645.9 2960.3,635.3 3011.3,667.6 3011.3,757.6 2954.3,768.3 2903.3,735.9"/><path d="M2903.3 645.9L2954.3 678.3L3011.3 667.6M2954.3 678.3L2954.3 768.3"/><polygon points="2921.3,667.3 2910.3,660.4 2910.3,686.4 2921.3,693.3"/>
<polygon points="2736.3,599 2801.3,586.9 2845.8,615.1 2845.8,695.1 2780.8,707.3 2736.3,679"/><path d="M2736.3 599L2780.8 627.3L2845.8 615.1M2780.8 627.3L2780.8 707.3"/><polygon points="2787.8,638 2799.8,635.7 2799.8,661.7 2787.8,664"/><path d="M2805 640v-8l16 -3v7l-16 3" fill="none" stroke-width="2.5"/>
<polygon points="2986.3,658.6 2999.8,656.1 3010.7,663 3010.7,701.5 2997.2,704.1 2986.3,697.2"/><path d="M2986.3 658.6L2997.2 665.5L3010.7 663M2997.2 665.5L2997.2 704.1"/><path d="M2986.3 677.9L2997.2 684.8L3010.7 682.3" fill="none"/>
<polygon points="2643.8,640.8 2705.8,629.2 2764.8,666.7 2764.8,746.7 2702.8,758.3 2643.8,720.8"/><path d="M2643.8 640.8L2702.8 678.3L2764.8 666.7M2702.8 678.3L2702.8 758.3"/>
<polygon points="2787,676.4 2846,665.4 2889,692.7 2889,797.7 2830,808.7 2787,781.4"/><path d="M2787 676.4L2830 703.7L2889 692.7M2830 703.7L2830 808.7"/><polygon points="2843,741.3 2862,737.7 2862,767.7 2843,771.3"/><path d="M2839 722v-12h10M2880 702v-9h-12" fill="none" stroke-width="2.5"/>
<polygon points="2705,779.6 2765,768.4 2805,793.8 2805,807.8 2745,819 2705,793.6"/><path d="M2705 779.6L2745 805L2805 793.8M2745 805L2745 819"/>
<polygon points="2722,720 2776,709.9 2820.5,738.2 2820.5,800.2 2766.5,810.3 2722,782"/><path d="M2722 720L2766.5 748.3L2820.5 738.2M2766.5 748.3L2766.5 810.3"/><polygon points="2799.5,760.1 2806.5,758.8 2806.5,776.8 2799.5,778.1"/>
<polygon points="3139.1,659.6 3155.6,656.5 3169.1,665.1 3169.1,714.5 3152.7,717.6 3139.1,709"/><path d="M3139.1 659.6L3152.7 668.2L3169.1 665.1M3152.7 668.2L3152.7 717.6"/>
<polygon points="3004.8,683.3 3018.9,680.7 3032.1,689.1 3032.1,723.6 3018,726.2 3004.8,717.8"/><path d="M3004.8 683.3L3018 691.7L3032.1 689.1M3018 691.7L3018 726.2"/><path d="M3004.8 700.6L3018 709L3032.1 706.4" fill="none"/>
<polygon points="2977.1,689.6 2991.3,686.9 3004,695 3004,726 2989.8,728.6 2977.1,720.6"/><path d="M2977.1 689.6L2989.8 697.7L3004 695M2989.8 697.7L2989.8 728.6"/>
<polygon points="3166.6,686.4 3180.7,683.8 3192.9,691.5 3192.9,729.4 3178.8,732.1 3166.6,724.3"/><path d="M3166.6 686.4L3178.8 694.2L3192.9 691.5M3178.8 694.2L3178.8 732.1"/>
<polygon points="3124.3,681.9 3138.1,679.4 3151.1,687.6 3151.1,732 3137.3,734.6 3124.3,726.4"/><path d="M3124.3 681.9L3137.3 690.2L3151.1 687.6M3137.3 690.2L3137.3 734.6"/><path d="M3124.3 696.8L3137.3 705L3151.1 702.4M3124.3 711.6L3137.3 719.8L3151.1 717.2" fill="none"/>
<polygon points="3510.5,666.5 3526.4,663.6 3541.5,673.1 3541.5,737.1 3525.6,740.1 3510.5,730.5"/><path d="M3510.5 666.5L3525.6 676.1L3541.5 673.1M3525.6 676.1L3525.6 740.1"/>
<polygon points="2933.2,702.2 2951.3,698.8 2966.3,708.3 2966.3,745 2948.2,748.3 2933.2,738.8"/><path d="M2933.2 702.2L2948.2 711.7L2966.3 708.3M2948.2 711.7L2948.2 748.3"/>
<polygon points="3509.2,682.7 3526.7,679.5 3539.9,687.8 3539.9,750.5 3522.4,753.7 3509.2,745.4"/><path d="M3509.2 682.7L3522.4 691.1L3539.9 687.8M3522.4 691.1L3522.4 753.7"/>
<polygon points="2933.4,698.4 2949,695.5 2964.9,705.5 2964.9,754.8 2949.2,757.7 2933.4,747.7"/><path d="M2933.4 698.4L2949.2 708.5L2964.9 705.5M2949.2 708.5L2949.2 757.7"/>
<polygon points="3551.5,673 3566.8,670.2 3583.6,680.9 3583.6,756.2 3568.3,759.1 3551.5,748.4"/><path d="M3551.5 673L3568.3 683.7L3583.6 680.9M3568.3 683.7L3568.3 759.1"/>
<polygon points="3168.4,711.9 3185,708.8 3199.3,717.9 3199.3,761.3 3182.7,764.4 3168.4,755.3"/><path d="M3168.4 711.9L3182.7 721L3199.3 717.9M3182.7 721L3182.7 764.4"/>
<polygon points="3138,693.1 3156.7,689.6 3169.1,697.5 3169.1,761.2 3150.4,764.7 3138,756.9"/><path d="M3138 693.1L3150.4 701L3169.1 697.5M3150.4 701L3150.4 764.7"/>
<polygon points="2966.8,710.5 2981.2,707.8 2994.3,716.1 2994.3,762.3 2980,765 2966.8,756.6"/><path d="M2966.8 710.5L2980 718.8L2994.3 716.1M2980 718.8L2980 765"/>
<polygon points="2906.8,728.3 2922.8,725.3 2937,734.3 2937,768.5 2921,771.5 2906.8,762.5"/><path d="M2906.8 728.3L2921 737.3L2937 734.3M2921 737.3L2921 771.5"/>
<polygon points="1985,701 2017.5,690.2 2037.6,629.7 2107.4,618.9 2150.8,648.4 2154.3,721.4 2154.3,752 2040.8,772.3 1987.3,748.9"/><polygon points="1985,701 2017.5,693.2 2070.2,719.6 2037.6,728.8"/><polygon points="1985,701 2037.6,728.8 2040.8,772.3 1987.3,748.9"/><polygon points="1988.1,713.2 1997.2,717.3 1998.3,737.7 1989.1,733.6" stroke-width="2.2"/><path d="M1989.1 720.4L1997.2 724.5M1989.1 727.5L1997.2 731.6" fill="none" stroke-width="2"/><polygon points="2027.8,731.6 2036,735.7 2037,760.2 2028.9,756.1" stroke-width="2.2"/><path d="M2027.8 739.8L2036 743.8M2028.9 747.9L2037 752" fill="none" stroke-width="2"/><polygon points="2002.3,727.5 2013.6,732.6 2014.6,757.1 2003.4,752" stroke-width="2.2"/><path d="M2008.5 731.6L2009.5 754" stroke-width="2"/><polygon points="1987.3,748.9 2040.8,772.3 2040.8,777.5 1988.1,754" fill="#000" stroke-width="1.5"/><polygon points="2037.6,629.7 2085.7,660.7 2070.2,719.6 2017.5,690.2"/><polygon points="2042.1,641.8 2078.8,665.3 2066.6,710.2 2027.8,687.7" stroke-width="2.4"/><polygon points="2029.9,687 2065.6,674.7 2077.9,665.3 2068.6,710.3" fill="#000" stroke-width="1.5"/><polygon points="2037.6,629.7 2107.4,618.9 2150.8,648.4 2085.7,660.7"/><path d="M2085.7 660.7L2070.2 719.6"/><polygon points="2090.4,670 2116.6,666.9 2115.2,702.5 2085.7,710.3" fill="#000" stroke-width="2"/><polygon points="2129,663.9 2146.2,660.7 2147.7,696.3 2130.6,699.5" fill="#000" stroke-width="2"/><polygon points="2085,711.2 2122.9,703 2122.9,742.8 2084.1,750.6" stroke-width="2.6"/><polygon points="2107.4,720.4 2120.7,717.8 2120.7,723.4 2107.4,726" stroke-width="2"/><ellipse cx="2065.1" cy="764.8" rx="15.3" ry="18.4" transform="rotate(18 2065.1 764.8)"/><ellipse cx="2070.2" cy="766.8" rx="14.3" ry="17.9" stroke-width="3.2" transform="rotate(18 2070.2 766.8)"/><ellipse cx="2071.2" cy="766.8" rx="8.2" ry="11.2" transform="rotate(18 2071.2 766.8)"/><ellipse cx="2071.2" cy="766.8" rx="3.1" ry="6.1" fill="#000" stroke-width="1" transform="rotate(18 2071.2 766.8)"/><rect x="2056.4" y="606.5" width="8.2" height="26.5" rx="2"/>
<g font-family="'Liberation Sans',sans-serif" font-weight="bold" font-size="197.7" stroke-linejoin="round"><g fill="#000" stroke="#000" stroke-width="15"><text transform="matrix(0.729 -0.1363 0 1 2109.4 751.8)">T</text><text transform="matrix(0.729 -0.1363 0 1 2105.4 749.3)">T</text><text transform="matrix(0.729 -0.1363 0 1 2101.4 746.7)">T</text><text transform="matrix(0.729 -0.1363 0 1 2097.4 744.2)">T</text><text transform="matrix(0.729 -0.1363 0 1 2093.4 741.6)">T</text><text transform="matrix(0.729 -0.1363 0 1 2089.4 739.1)">T</text></g><g fill="#fff" stroke="#fff" stroke-width="9"><text transform="matrix(0.729 -0.1363 0 1 2109.4 751.8)">T</text><text transform="matrix(0.729 -0.1363 0 1 2105.4 749.3)">T</text><text transform="matrix(0.729 -0.1363 0 1 2101.4 746.7)">T</text><text transform="matrix(0.729 -0.1363 0 1 2097.4 744.2)">T</text><text transform="matrix(0.729 -0.1363 0 1 2093.4 741.6)">T</text><text transform="matrix(0.729 -0.1363 0 1 2089.4 739.1)">T</text></g><g fill="#000" stroke="#000" stroke-width="10"><text transform="matrix(0.729 -0.1363 0 1 2109.4 751.8)">T</text></g><g fill="#fff" stroke="#fff" stroke-width="4"><text transform="matrix(0.729 -0.1363 0 1 2109.4 751.8)">T</text></g></g>
<path d="M2105.5 610C2105.5 632 2179.5 632 2179.5 610L2164.5 590C2152.5 582 2132.5 582 2120.5 590Z"/><path d="M2107.5 604C2117.5 618 2167.5 618 2177.5 604" fill="none"/><ellipse cx="2142.5" cy="582" rx="20" ry="9"/><path d="M2132.5 576L2142.5 552L2152.5 576A10 5 0 0 1 2132.5 576Z"/><circle cx="2118.5" cy="604" r="1.6" fill="#000"/>
<polygon points="3502.8,728.8 3520.2,725.5 3537.2,736.3 3537.2,775.3 3519.7,778.5 3502.8,767.8"/><path d="M3502.8 728.8L3519.7 739.6L3537.2 736.3M3519.7 739.6L3519.7 778.5"/>
<polygon points="3571.7,730.1 3588.1,727 3601.2,735.3 3601.2,779.2 3584.8,782.3 3571.7,774"/><path d="M3571.7 730.1L3584.8 738.4L3601.2 735.3M3584.8 738.4L3584.8 782.3"/>
<polygon points="3522.6,726.5 3538.3,723.5 3551.9,732.2 3551.9,780.4 3536.2,783.3 3522.6,774.7"/><path d="M3522.6 726.5L3536.2 735.1L3551.9 732.2M3536.2 735.1L3536.2 783.3"/>
<polygon points="2880.7,736.4 2899.3,732.9 2909.4,739.3 2909.4,781 2890.7,784.5 2880.7,778.1"/><path d="M2880.7 736.4L2890.7 742.8L2909.4 739.3M2890.7 742.8L2890.7 784.5"/><path d="M2880.7 750.3L2890.7 756.7L2909.4 753.2M2880.7 764.2L2890.7 770.6L2909.4 767.1" fill="none"/>
<polygon points="2673,746 2690.2,742.8 2703.4,751.1 2703.4,784.4 2686.3,787.6 2673,779.2"/><path d="M2673 746L2686.3 754.3L2703.4 751.1M2686.3 754.3L2686.3 787.6"/>
<polygon points="2860.6,721.8 2879.1,718.4 2894.9,728.4 2894.9,785.3 2876.3,788.8 2860.6,778.7"/><path d="M2860.6 721.8L2876.3 731.9L2894.9 728.4M2876.3 731.9L2876.3 788.8"/>
<polygon points="3204.7,717.1 3217.9,714.6 3228.8,721.5 3228.8,788.8 3215.5,791.3 3204.7,784.4"/><path d="M3204.7 717.1L3215.5 724L3228.8 721.5M3215.5 724L3215.5 791.3"/>
<polygon points="2985.2,745.8 3001.9,742.7 3016.9,752.2 3016.9,789.7 3000.3,792.9 2985.2,783.3"/><path d="M2985.2 745.8L3000.3 755.4L3016.9 752.2M3000.3 755.4L3000.3 792.9"/>
<polygon points="2691.2,725.1 2704.5,722.6 2715.9,729.8 2715.9,790.9 2702.6,793.4 2691.2,786.2"/><path d="M2691.2 725.1L2702.6 732.3L2715.9 729.8M2702.6 732.3L2702.6 793.4"/>
<polygon points="3538.4,734.6 3554.4,731.6 3571.4,742.4 3571.4,791.3 3555.4,794.3 3538.4,783.5"/><path d="M3538.4 734.6L3555.4 745.4L3571.4 742.4M3555.4 745.4L3555.4 794.3"/>
<polygon points="2648.8,756.5 2666.7,753.1 2678.7,760.7 2678.7,793.1 2660.8,796.4 2648.8,788.8"/><path d="M2648.8 756.5L2660.8 764.1L2678.7 760.7M2660.8 764.1L2660.8 796.4"/>
<polygon points="3525.7,753.5 3542.2,750.4 3555.8,759.1 3555.8,796 3539.4,799.1 3525.7,790.4"/><path d="M3525.7 753.5L3539.4 762.2L3555.8 759.1M3539.4 762.2L3539.4 799.1"/>
<polygon points="3119.4,752.5 3134.5,749.7 3146.2,757.1 3146.2,798.7 3131.2,801.5 3119.4,794"/><path d="M3119.4 752.5L3131.2 759.9L3146.2 757.1M3131.2 759.9L3131.2 801.5"/>
<polygon points="2900.4,747.9 2914.2,745.4 2929.5,755.1 2929.5,799.1 2915.7,801.6 2900.4,791.9"/><path d="M2900.4 747.9L2915.7 757.7L2929.5 755.1M2915.7 757.7L2915.7 801.6"/><path d="M2900.4 762.6L2915.7 772.3L2929.5 769.8M2900.4 777.3L2915.7 787L2929.5 784.4" fill="none"/>
<polygon points="3135,752.7 3150.7,749.7 3161.7,756.8 3161.7,799.9 3146.1,802.8 3135,795.8"/><path d="M3135 752.7L3146.1 759.7L3161.7 756.8M3146.1 759.7L3146.1 802.8"/>
<polygon points="3555,720.7 3571.9,717.6 3586.2,726.6 3586.2,801.3 3569.4,804.4 3555,795.3"/><path d="M3555 720.7L3569.4 729.8L3586.2 726.6M3569.4 729.8L3569.4 804.4"/>
<polygon points="2880.1,741.8 2893.9,739.2 2907.1,747.6 2907.1,802.2 2893.3,804.8 2880.1,796.4"/><path d="M2880.1 741.8L2893.3 750.2L2907.1 747.6M2893.3 750.2L2893.3 804.8"/>
<polygon points="2866.8,745.3 2881.5,742.6 2893,749.9 2893,803.9 2878.3,806.6 2866.8,799.3"/><path d="M2866.8 745.3L2878.3 752.6L2893 749.9M2878.3 752.6L2878.3 806.6"/>
<polygon points="2848.1,764.6 2865.1,761.4 2877.2,769.1 2877.2,806.1 2860.2,809.3 2848.1,801.6"/><path d="M2848.1 764.6L2860.2 772.2L2877.2 769.1M2860.2 772.2L2860.2 809.3"/><path d="M2848.1 783.1L2860.2 790.8L2877.2 787.6" fill="none"/>
<polygon points="3203.2,753.2 3220,750.1 3231,757 3231,808.6 3214.2,811.7 3203.2,804.8"/><path d="M3203.2 753.2L3214.2 760.2L3231 757M3214.2 760.2L3214.2 811.7"/>
<polygon points="2950.8,744 2967.3,740.9 2982.7,750.7 2982.7,808.7 2966.2,811.7 2950.8,802"/><path d="M2950.8 744L2966.2 753.8L2982.7 750.7M2966.2 753.8L2966.2 811.7"/>
<polygon points="3159.1,763.7 3174.4,760.8 3188.7,769.9 3188.7,810.4 3173.4,813.3 3159.1,804.2"/><path d="M3159.1 763.7L3173.4 772.8L3188.7 769.9M3173.4 772.8L3173.4 813.3"/>
<polygon points="2993.8,757.4 3012.4,754 3026.6,762.9 3026.6,811.5 3008,815 2993.8,806"/><path d="M2993.8 757.4L3008 766.4L3026.6 762.9M3008 766.4L3008 815"/>
<polygon points="2643.2,753.6 2655.8,751.3 2666.1,757.8 2666.1,813.3 2653.5,815.7 2643.2,809.1"/><path d="M2643.2 753.6L2653.5 760.2L2666.1 757.8M2653.5 760.2L2653.5 815.7"/><path d="M2643.2 767.5L2653.5 774L2666.1 771.7M2643.2 781.4L2653.5 787.9L2666.1 785.6M2643.2 795.3L2653.5 801.8L2666.1 799.4" fill="none"/>
<polygon points="2910.3,768.4 2925.5,765.6 2936.1,772.3 2936.1,813.7 2920.8,816.6 2910.3,809.9"/><path d="M2910.3 768.4L2920.8 775.2L2936.1 772.3M2920.8 775.2L2920.8 816.6"/><path d="M2910.3 782.3L2920.8 789L2936.1 786.1M2910.3 796.1L2920.8 802.8L2936.1 799.9" fill="none"/>
<polygon points="2659.3,753.2 2676.4,750 2688.3,757.6 2688.3,818.2 2671.2,821.4 2659.3,813.9"/><path d="M2659.3 753.2L2671.2 760.8L2688.3 757.6M2671.2 760.8L2671.2 821.4"/>
<polygon points="2859.5,775.4 2873.3,772.8 2883.9,779.5 2883.9,819.4 2870,822 2859.5,815.3"/><path d="M2859.5 775.4L2870 782.1L2883.9 779.5M2870 782.1L2870 822"/>
<polygon points="2691.7,766.1 2705.4,763.5 2715.8,770.1 2715.8,824.6 2702,827.2 2691.7,820.6"/><path d="M2691.7 766.1L2702 772.7L2715.8 770.1M2702 772.7L2702 827.2"/>
<polygon points="3184.3,760.1 3198.9,757.4 3211.6,765.5 3211.6,824.7 3197.1,827.4 3184.3,819.3"/><path d="M3184.3 760.1L3197.1 768.2L3211.6 765.5M3197.1 768.2L3197.1 827.4"/><path d="M3184.3 774.9L3197.1 783L3211.6 780.3M3184.3 789.7L3197.1 797.8L3211.6 795.1M3184.3 804.5L3197.1 812.6L3211.6 809.9" fill="none"/>
<polygon points="3131,775 3149.3,771.5 3164.1,780.9 3164.1,824.1 3145.8,827.5 3131,818.1"/><path d="M3131 775L3145.8 784.4L3164.1 780.9M3145.8 784.4L3145.8 827.5"/>
<polygon points="2969.4,781 2984.2,778.2 2999.4,787.9 2999.4,826.4 2984.7,829.2 2969.4,819.5"/><path d="M2969.4 781L2984.7 790.6L2999.4 787.9M2984.7 790.6L2984.7 829.2"/>
<polygon points="2711.4,791.3 2729.2,788 2743,796.8 2743,830.5 2725.2,833.9 2711.4,825.1"/><path d="M2711.4 791.3L2725.2 800.1L2743 796.8M2725.2 800.1L2725.2 833.9"/><path d="M2711.4 808.2L2725.2 817L2743 813.7" fill="none"/>
<polygon points="2904.2,781.1 2917.4,778.6 2930.3,786.8 2930.3,831.7 2917.1,834.2 2904.2,826"/><path d="M2904.2 781.1L2917.1 789.3L2930.3 786.8M2917.1 789.3L2917.1 834.2"/><path d="M2904.2 796.1L2917.1 804.3L2930.3 801.8M2904.2 811L2917.1 819.2L2930.3 816.8" fill="none"/>
<polygon points="2696.5,794.7 2709.3,792.3 2722.5,800.7 2722.5,834.4 2709.7,836.8 2696.5,828.4"/><path d="M2696.5 794.7L2709.7 803.1L2722.5 800.7M2709.7 803.1L2709.7 836.8"/>
<polygon points="2927.8,768.1 2942.8,765.3 2957.5,774.6 2957.5,834.3 2942.5,837 2927.8,827.7"/><path d="M2927.8 768.1L2942.5 777.4L2957.5 774.6M2942.5 777.4L2942.5 837"/>
<polygon points="2944.7,773.8 2960.8,770.8 2974.9,779.8 2974.9,834.6 2958.8,837.6 2944.7,828.6"/><path d="M2944.7 773.8L2958.8 782.8L2974.9 779.8M2958.8 782.8L2958.8 837.6"/><path d="M2944.7 787.5L2958.8 796.5L2974.9 793.5M2944.7 801.2L2958.8 810.2L2974.9 807.2M2944.7 814.9L2958.8 823.9L2974.9 820.9" fill="none"/>
<polygon points="3026.1,766.5 3039.2,764.1 3053.5,773.1 3053.5,835.5 3040.4,837.9 3026.1,828.8"/><path d="M3026.1 766.5L3040.4 775.6L3053.5 773.1M3040.4 775.6L3040.4 837.9"/>
<polygon points="2969.1,781.2 2987.5,777.7 3003,787.6 3003,835.9 2984.6,839.3 2969.1,829.5"/><path d="M2969.1 781.2L2984.6 791L3003 787.6M2984.6 791L2984.6 839.3"/>
<polygon points="2870.8,770 2888.3,766.8 2902.3,775.6 2902.3,839.1 2884.7,842.4 2870.8,833.6"/><path d="M2870.8 770L2884.7 778.9L2902.3 775.6M2884.7 778.9L2884.7 842.4"/>
<polygon points="2732.2,799 2746,796.4 2760.4,805.6 2760.4,842.4 2746.6,844.9 2732.2,835.8"/><path d="M2732.2 799L2746.6 808.2L2760.4 805.6M2746.6 808.2L2746.6 844.9"/>
<polygon points="3001.8,752.8 3060.8,741.8 3108.8,772.3 3108.8,839.3 3049.8,850.3 3001.8,819.8"/><path d="M3001.8 752.8L3049.8 783.3L3108.8 772.3M3049.8 783.3L3049.8 850.3"/>
<polygon points="3025.9,676.7 3076.9,667.1 3129.4,700.5 3129.4,770.5 3078.4,780 3025.9,746.7"/><path d="M3025.9 676.7L3078.4 710L3129.4 700.5M3078.4 710L3078.4 780"/><ellipse cx="3037" cy="701" rx="3.5" ry="5" fill="#000"/><ellipse cx="3050" cy="708" rx="3.5" ry="5" fill="#000"/><ellipse cx="3063" cy="715" rx="3.5" ry="5" fill="#000"/><polygon points="3086.4,726.5 3093.4,725.2 3093.4,743.2 3086.4,744.5"/>
<polygon points="2913.3,804.9 2927.7,802.2 2940.2,810.1 2940.2,850.4 2925.7,853.1 2913.3,845.2"/><path d="M2913.3 804.9L2925.7 812.8L2940.2 810.1M2925.7 812.8L2925.7 853.1"/>
<polygon points="2711.4,789 2723.4,786.8 2734.4,793.8 2734.4,852.9 2722.4,855.2 2711.4,848.1"/><path d="M2711.4 789L2722.4 796L2734.4 793.8M2722.4 796L2722.4 855.2"/>
<polygon points="2887.8,786.5 2902.3,783.8 2918,793.7 2918,855.7 2903.4,858.4 2887.8,848.5"/><path d="M2887.8 786.5L2903.4 796.5L2918 793.7M2903.4 796.5L2903.4 858.4"/><path d="M2887.8 802L2903.4 812L2918 809.2M2887.8 817.5L2903.4 827.5L2918 824.7M2887.8 833L2903.4 843L2918 840.2" fill="none"/>
<polygon points="1482.5,400 1531,410 1531,872 1482.5,860" stroke-width="2.4"/><path d="M1501 410L1501 866" stroke-width="2.4"/><path d="M1524 412L1524 870" stroke-width="2.4"/><path d="M1511 412L1511 868" stroke-width="7"/><polygon points="1316,360 1342.5,346 1462.5,325 1587.5,345 1852.5,444 1830,455 1555,361 1442.5,340"/><path d="M1442.5 340L1462.5 325"/><path d="M1555 361L1587.5 345"/><path d="M1584 356L1832 448" stroke-width="6.5"/><polygon points="1316,360 1442.5,340 1555,361 1830,455 1830,476 1547.5,417.5 1452.5,407.5 1316,381"/><polygon points="1830,455 1852.5,444 1852.5,464 1830,476"/><polygon points="1327,366 1441,349 1441,396 1327,376" stroke-width="3.2"/><path d="M1341.7 363.8L1330.3 376.6M1330.3 365.5L1341.7 378.6M1357.9 361.4L1346.5 379.4M1346.5 363.1L1357.9 381.4M1374.2 359L1362.8 382.3M1362.8 360.7L1374.2 384.3M1390.5 356.5L1379.1 385.1M1379.1 358.2L1390.5 387.1M1406.8 354.1L1395.4 388M1395.4 355.8L1406.8 390M1423.1 351.7L1411.7 390.9M1411.7 353.4L1423.1 392.9M1439.4 349.2L1428 393.7M1428 350.9L1439.4 395.7" fill="none" stroke-width="4"/><polygon points="1453,349 1546,368 1546,415 1455,398" stroke-width="3.2"/><path d="M1467 351.9L1458 398.6M1456.1 349.6L1468.7 400.6M1482.5 355L1473.2 401.4M1471.6 352.8L1483.8 403.4M1498 358.2L1488.4 404.2M1487.1 356L1499 406.2M1513.5 361.4L1503.5 407.1M1502.6 359.1L1514.2 409.1M1529 364.5L1518.7 409.9M1518.1 362.3L1529.3 411.9M1544.5 367.7L1533.9 412.7M1533.6 365.5L1544.5 414.7" fill="none" stroke-width="4"/><polygon points="1557,371 1782,450 1782,460 1557,417" stroke-width="3.2"/><path d="M1571.5 376.1L1560.2 417.6M1560.2 372.1L1571.5 419.8M1587.5 381.7L1576.3 420.7M1576.3 377.8L1587.5 422.8M1603.6 387.4L1592.4 423.8M1592.4 383.4L1603.6 425.9M1619.7 393L1608.4 426.8M1608.4 389.1L1619.7 429M1635.8 398.6L1624.5 429.9M1624.5 394.7L1635.8 432.1M1651.8 404.3L1640.6 433M1640.6 400.3L1651.8 435.1M1667.9 409.9L1656.6 436M1656.6 406L1667.9 438.2M1684 415.6L1672.7 439.1M1672.7 411.6L1684 441.3M1700 421.2L1688.8 442.2M1688.8 417.3L1700 444.3M1716.1 426.9L1704.9 445.3M1704.9 422.9L1716.1 447.4M1732.2 432.5L1720.9 448.3M1720.9 428.6L1732.2 450.5M1748.2 438.1L1737 451.4M1737 434.2L1748.2 453.6M1764.3 443.8L1753.1 454.5M1753.1 439.8L1764.3 456.6M1780.4 449.4L1769.1 457.5M1769.1 445.5L1780.4 459.7" fill="none" stroke-width="4"/><polygon points="1792,455 1825,463 1825,470 1792,462"/>
<path d="M1816 474L1816 870" stroke-width="2"/>
<polygon points="2688.4,817.2 2703.8,814.3 2716,822.1 2716,858.2 2700.7,861.1 2688.4,853.3"/><path d="M2688.4 817.2L2700.7 825L2716 822.1M2700.7 825L2700.7 861.1"/>
<polygon points="1490,527.1 1536,518.5 1572,541.4 1572,631.4 1526,640 1490,617.1"/><path d="M1490 527.1L1526 550L1572 541.4M1526 550L1526 640"/><polygon points="1520,558.2 1496,543 1496,601 1520,616.2" fill="#000"/><polygon points="1534,560.5 1564,554.9 1564,604.9 1534,610.5" fill="#000"/><polygon points="1536,618.1 1550,615.5 1550,625.5 1536,628.1"/>
<polygon points="2262,803.7 2282,800 2295,808.3 2295,842.3 2275,846 2262,837.7"/><path d="M2262 803.7L2275 812L2295 808.3M2275 812L2275 846"/><path d="M2262 820.7L2275 829L2295 825.3" fill="none"/>
<polygon points="2751.6,835.8 2768.3,832.7 2779.6,839.9 2779.6,872.7 2763,875.8 2751.6,868.6"/><path d="M2751.6 835.8L2763 843L2779.6 839.9M2763 843L2763 875.8"/><path d="M2751.6 852.2L2763 859.4L2779.6 856.3" fill="none"/>
<polygon points="2930.3,834.9 2944.5,832.2 2957.1,840.2 2957.1,876.6 2942.9,879.2 2930.3,871.2"/><path d="M2930.3 834.9L2942.9 842.9L2957.1 840.2M2942.9 842.9L2942.9 879.2"/>
<path d="M2167 778L2167 865A74 30 0 0 0 2315 865L2315 778Z" fill="#fff"/><ellipse cx="2241" cy="778" rx="74" ry="30"/><ellipse cx="2241" cy="780" rx="65.1" ry="26.4"/><path d="M2178.9 790A65.1 26.4 0 0 0 2303.1 790" fill="none"/>
<polygon points="2979.4,816.7 2994.5,813.9 3006.7,821.7 3006.7,877.6 2991.6,880.4 2979.4,872.7"/><path d="M2979.4 816.7L2991.6 824.5L3006.7 821.7M2991.6 824.5L2991.6 880.4"/>
<polygon points="2237,802.7 2257,799 2270,807.3 2270,858.3 2250,862 2237,853.7"/><path d="M2237 802.7L2250 811L2270 807.3M2250 811L2250 862"/><path d="M2237 819.7L2250 828L2270 824.3M2237 836.7L2250 845L2270 841.3" fill="none"/>
<path d="M1970 880L1996 892L1996 938L1970 921Z"/><ellipse cx="1970.6" cy="900" rx="16" ry="21"/><ellipse cx="1996" cy="914.7" rx="19" ry="23"/>
<polygon points="2209,820.7 2229,817 2242,825.3 2242,876.3 2222,880 2209,871.7"/><path d="M2209 820.7L2222 829L2242 825.3M2222 829L2222 880"/><path d="M2209 837.7L2222 846L2242 842.3M2209 854.7L2222 863L2242 859.3" fill="none"/>
<polygon points="2277,808.7 2297,805 2310,813.3 2310,881.3 2290,885 2277,876.7"/><path d="M2277 808.7L2290 817L2310 813.3M2290 817L2290 885"/><path d="M2277 825.7L2290 834L2310 830.3M2277 842.7L2290 851L2310 847.3M2277 859.7L2290 868L2310 864.3" fill="none"/>
<polygon points="2313.5,728.7 2386,715.1 2438.5,748.4 2438.5,892.4 2366,906 2313.5,872.7"/><path d="M2313.5 728.7L2366 762L2438.5 748.4M2366 762L2366 906"/>
<polygon points="2380,773.4 2400,769.6 2400,817.6 2380,821.4" stroke-width="2.6"/>
<polygon points="2249,845.7 2269,842 2282,850.3 2282,901.3 2262,905 2249,896.7"/><path d="M2249 845.7L2262 854L2282 850.3M2262 854L2262 905"/><path d="M2249 862.7L2262 871L2282 867.3M2249 879.7L2262 888L2282 884.3" fill="none"/>
<polygon points="2223,872.7 2243,869 2256,877.3 2256,911.3 2236,915 2223,906.7"/><path d="M2223 872.7L2236 881L2256 877.3M2236 881L2236 915"/><path d="M2223 889.7L2236 898L2256 894.3" fill="none"/>
<polygon points="2287,870.7 2307,867 2320,875.3 2320,926.3 2300,930 2287,921.7"/><path d="M2287 870.7L2300 879L2320 875.3M2300 879L2300 930"/><path d="M2287 887.7L2300 896L2320 892.3M2287 904.7L2300 913L2320 909.3" fill="none"/>
<polygon points="1240,858 1270,852.4 1292,866.4 1292,906.4 1262,912 1240,898"/><path d="M1240 858L1262 872L1292 866.4M1262 872L1262 912"/>
<polygon points="1266.5,869 1306.5,861.5 1347.5,887.5 1347.5,947.5 1307.5,955 1266.5,929"/><path d="M1266.5 869L1307.5 895L1347.5 887.5M1307.5 895L1307.5 955"/>
<polygon points="1161,904.9 1206,896.5 1255,927.6 1255,957.6 1210,966 1161,934.9"/><path d="M1161 904.9L1210 936L1255 927.6M1210 936L1210 966"/>
<ellipse cx="1536" cy="975" rx="9" ry="10"/><ellipse cx="1536" cy="975" rx="3" ry="3.5" fill="#000"/><ellipse cx="1568" cy="996" rx="11" ry="12"/><ellipse cx="1568" cy="996" rx="4" ry="4.5" fill="#000"/><ellipse cx="1556" cy="988" rx="10" ry="11"/>
<polygon points="1536,957.6 1644,937.4 1706,976.8 1706,990.8 1598,1011 1536,971.6"/><path d="M1536 957.6L1598 997L1706 976.8M1598 997L1598 1011"/>
<path d="M1598 1016L1706 995" stroke-width="6"/>
<polygon points="1676,858 1690,852 1690,922 1676,926"/><path d="M1690 878h14v-6l10 -2" fill="none" stroke-width="5"/><path d="M1690 878h14v-6l10 -2" stroke="#fff" stroke-width="1.5" fill="none"/><ellipse cx="1706" cy="876" rx="4" ry="6"/>
<g font-family="'Liberation Sans',sans-serif" font-weight="bold" font-size="196.2" stroke-linejoin="round"><g fill="#000" stroke="#000" stroke-width="15"><text transform="matrix(0.753 -0.1408 0 1 1571.2 968.3)">N</text><text transform="matrix(0.753 -0.1408 0 1 1567.2 965.8)">N</text><text transform="matrix(0.753 -0.1408 0 1 1563.2 963.2)">N</text><text transform="matrix(0.753 -0.1408 0 1 1559.2 960.7)">N</text><text transform="matrix(0.753 -0.1408 0 1 1555.2 958.2)">N</text><text transform="matrix(0.753 -0.1408 0 1 1551.2 955.6)">N</text><text transform="matrix(0.753 -0.1408 0 1 1547.2 953.1)">N</text></g><g fill="#fff" stroke="#fff" stroke-width="9"><text transform="matrix(0.753 -0.1408 0 1 1571.2 968.3)">N</text><text transform="matrix(0.753 -0.1408 0 1 1567.2 965.8)">N</text><text transform="matrix(0.753 -0.1408 0 1 1563.2 963.2)">N</text><text transform="matrix(0.753 -0.1408 0 1 1559.2 960.7)">N</text><text transform="matrix(0.753 -0.1408 0 1 1555.2 958.2)">N</text><text transform="matrix(0.753 -0.1408 0 1 1551.2 955.6)">N</text><text transform="matrix(0.753 -0.1408 0 1 1547.2 953.1)">N</text></g><g fill="#000" stroke="#000" stroke-width="10"><text transform="matrix(0.753 -0.1408 0 1 1571.2 968.3)">N</text></g><g fill="#fff" stroke="#fff" stroke-width="4"><text transform="matrix(0.753 -0.1408 0 1 1571.2 968.3)">N</text></g></g>
<polygon points="2492.5,660.6 2607.1,639.2 2647.1,664.6 2647.1,952.6 2532.5,974 2492.5,948.6"/><path d="M2492.5 660.6L2532.5 686L2647.1 664.6M2532.5 686L2532.5 974"/><polygon points="2588,692.6 2631,753 2553,765.8" fill="#000" stroke-width="1"/><polygon points="2548.4,896.3 2620,885 2591.4,948.8" fill="#000" stroke-width="1"/>
<g font-family="'Liberation Sans',sans-serif" font-weight="bold" font-size="199.1" stroke-linejoin="round"><g fill="#000" stroke="#000" stroke-width="15"><text transform="matrix(0.590 -0.1103 0 1 2792.7 961.9)">E</text><text transform="matrix(0.590 -0.1103 0 1 2788.9 959.5)">E</text><text transform="matrix(0.590 -0.1103 0 1 2785 957.1)">E</text><text transform="matrix(0.590 -0.1103 0 1 2781.2 954.6)">E</text><text transform="matrix(0.590 -0.1103 0 1 2777.3 952.2)">E</text><text transform="matrix(0.590 -0.1103 0 1 2773.5 949.7)">E</text><text transform="matrix(0.590 -0.1103 0 1 2769.6 947.3)">E</text><text transform="matrix(0.590 -0.1103 0 1 2765.7 944.8)">E</text></g><g fill="#fff" stroke="#fff" stroke-width="9"><text transform="matrix(0.590 -0.1103 0 1 2792.7 961.9)">E</text><text transform="matrix(0.590 -0.1103 0 1 2788.9 959.5)">E</text><text transform="matrix(0.590 -0.1103 0 1 2785 957.1)">E</text><text transform="matrix(0.590 -0.1103 0 1 2781.2 954.6)">E</text><text transform="matrix(0.590 -0.1103 0 1 2777.3 952.2)">E</text><text transform="matrix(0.590 -0.1103 0 1 2773.5 949.7)">E</text><text transform="matrix(0.590 -0.1103 0 1 2769.6 947.3)">E</text><text transform="matrix(0.590 -0.1103 0 1 2765.7 944.8)">E</text></g><g fill="#000" stroke="#000" stroke-width="10"><text transform="matrix(0.590 -0.1103 0 1 2792.7 961.9)">E</text></g><g fill="#fff" stroke="#fff" stroke-width="4"><text transform="matrix(0.590 -0.1103 0 1 2792.7 961.9)">E</text></g></g>
<polygon points="2607,190.9 2650,212 2669,208 2669,281 2650,285 2607,263.9"/><path d="M2650 212L2650 285"/><path d="M2650 236L2669 232"/><path d="M2650 260L2669 256"/><path d="M2650 224.2L2607 196.9M2650 248.5L2607 221.2M2650 272.8L2607 245.5" fill="none"/><path d="M2628.5 201.5L2628.5 274.5"/>
<polygon points="2425.4,240 2498.6,232 2488.7,985 2447,990 2415.7,972" stroke-width="2.4"/><path d="M2457 240L2447 990" stroke-width="2.4"/><path d="M2489 236L2479.1 986" stroke-width="2.4"/><path d="M2474.5 238L2464.6 988" stroke-width="10"/><polygon points="2104,270.5 2417,168.6 2500,157.5 2669,181.4 2666,194 2506.5,173.5 2435,183 2126,280"/><path d="M2417 168.6L2435 183"/><path d="M2500 157.5L2506.5 173.5"/><path d="M2135 268L2408 180" stroke-width="5"/><polygon points="2126,280 2435,183 2506.5,173.5 2666,194 2669,208.5 2503,232 2430,237 2126,293"/><polygon points="2104,270.5 2126,280 2126,293 2105,285"/><polygon points="2207,264 2430,192.5 2430,232 2207,273" stroke-width="3.2"/><path d="M2229.3 256.9L2212 272.1M2212 262.4L2229.3 268.9M2254.1 248.9L2236.7 267.5M2236.7 254.5L2254.1 264.3M2278.9 241L2261.5 263M2261.5 246.5L2278.9 259.8M2303.6 233L2286.3 258.4M2286.3 238.6L2303.6 255.2M2328.4 225.1L2311.1 253.9M2311.1 230.6L2328.4 250.7M2353.2 217.1L2335.8 249.3M2335.8 222.7L2353.2 246.1M2378 209.2L2360.6 244.8M2360.6 214.7L2378 241.6M2402.7 201.2L2385.4 240.2M2385.4 206.8L2402.7 237M2427.5 193.3L2410.2 235.6M2410.2 198.9L2427.5 232.5" fill="none" stroke-width="4"/><polygon points="2441,188 2500,180 2500,224 2441,232" stroke-width="3.2"/><path d="M2467.6 184.4L2446.9 231.2M2446.9 187.2L2467.6 228.4M2497.1 180.4L2476.4 227.2M2476.4 183.2L2497.1 224.4" fill="none" stroke-width="4"/><polygon points="2511,177 2660,192.5 2660,200 2511,219.6" stroke-width="3.2"/><path d="M2537.8 179.8L2517 218.8M2517 177.6L2537.8 216.1M2567.6 182.9L2546.8 214.9M2546.8 180.7L2567.6 212.2M2597.4 186L2576.6 211M2576.6 183.8L2597.4 208.2M2627.2 189.1L2606.4 207.1M2606.4 186.9L2627.2 204.3M2657 192.2L2636.2 203.1M2636.2 190L2657 200.4" fill="none" stroke-width="4"/><rect x="2182" y="262" width="12" height="8" transform="rotate(-17 2188 266)"/><circle cx="2166" cy="273" r="3"/>
<path d="M2142 290L2142 552" stroke-width="2"/>
<polygon points="2438,395.9 2484,387.3 2522,411.4 2522,503.4 2476,512 2438,487.9"/><path d="M2438 395.9L2476 420L2522 411.4M2476 420L2476 512"/><polygon points="2470,428.2 2444,411.7 2444,471.7 2470,488.2" fill="#000"/><polygon points="2484,430.5 2514,424.9 2514,474.9 2484,480.5" fill="#000"/><polygon points="2486,490.1 2500,487.5 2500,497.5 2486,500.1"/>
<polygon points="1155,961 1167,958.8 1178,965.8 1178,991.8 1166,994 1155,987"/><path d="M1155 961L1166 968L1178 965.8M1166 968L1166 994"/>
<polygon points="2353,910.6 2411,899.8 2451,925.2 2451,989.2 2393,1000 2353,974.6"/><path d="M2353 910.6L2393 936L2451 925.2M2393 936L2393 1000"/><polygon points="2399,942.9 2445,934.3 2445,976.3 2399,984.9" stroke-width="2.6"/><polygon points="2405,949.8 2437,943.8 2437,952.8 2426,954.8 2426,971.8 2416,973.7 2416,956.7 2405,958.8" stroke-width="2.4"/><polygon points="2435,966.1 2443,964.6 2443,974.6 2435,976.1" fill="#000" stroke-width="1"/>
<path d="M2218 1006C2216 980 2224 966 2234 964L2248 964C2260 970 2266 990 2264 1008Z"/><path d="M2242 966L2243 1006" stroke-width="2.2"/><ellipse cx="2240" cy="956" rx="11" ry="14"/><path d="M2237 943C2247 939 2253 947 2252 965L2244 968C2245 959 2243 949 2237 943Z" fill="#000" stroke-width="1.5"/><polygon points="2248,1008 2270,1014 2274,1008 2252,1002"/>
<polygon points="3510,978.8 3530,975 3554,990.3 3554,1014.3 3534,1018 3510,1002.8"/><path d="M3510 978.8L3534 994L3554 990.3M3534 994L3534 1018"/><path d="M3522 986L3546 982" stroke-width="2.4"/>
<polygon points="1187,938.3 1207,934.6 1227,947.3 1227,1017.3 1207,1021 1187,1008.3"/><path d="M1187 938.3L1207 951L1227 947.3M1207 951L1207 1021"/><path d="M1187 952.3L1207 965L1227 961.3M1187 966.3L1207 979L1227 975.3M1187 980.3L1207 993L1227 989.3M1187 994.3L1207 1007L1227 1003.3" fill="none"/>
<polygon points="1216,920.8 1236,917 1260,932.3 1260,1016.3 1240,1020 1216,1004.8"/><path d="M1216 920.8L1240 936L1260 932.3M1240 936L1240 1020"/><path d="M1216 934.8L1240 950L1260 946.3M1216 948.8L1240 964L1260 960.3M1216 962.8L1240 978L1260 974.3M1216 976.8L1240 992L1260 988.3M1216 990.8L1240 1006L1260 1002.3" fill="none"/>
<polygon points="1268,941.4 1298,935.8 1343,964.4 1343,1028.4 1313,1034 1268,1005.4"/><path d="M1268 941.4L1313 970L1343 964.4M1313 970L1313 1034"/><path d="M1325 985q-8 2 -8 14l10 -2" fill="none" stroke-width="2.5"/>
<polygon points="1216,971 1234,967.7 1256,981.6 1256,1033.6 1238,1037 1216,1023"/><path d="M1216 971L1238 985L1256 981.6M1238 985L1238 1037"/><path d="M1216 984L1238 998L1256 994.6M1216 997L1238 1011L1256 1007.6M1216 1010L1238 1024L1256 1020.6" fill="none"/>
<path d="M1246 1030q6 12 14 4" fill="none" stroke-width="2.4"/><path d="M1262 1010l-6 10m10 -8l-5 8" fill="none" stroke-width="1.6"/>
<polygon points="1325,993.6 1347,989.5 1357,995.9 1357,1035.9 1335,1040 1325,1033.7"/><path d="M1325 993.6L1335 1000L1357 995.9M1335 1000L1335 1040"/>
<g font-family="'Liberation Sans',sans-serif" font-weight="bold" font-size="193.3" stroke-linejoin="round"><g fill="#000" stroke="#000" stroke-width="15"><text transform="matrix(0.667 -0.1247 0 1 2300 1058.1)">R</text><text transform="matrix(0.667 -0.1247 0 1 2296 1055.6)">R</text><text transform="matrix(0.667 -0.1247 0 1 2292 1053)">R</text><text transform="matrix(0.667 -0.1247 0 1 2288 1050.5)">R</text><text transform="matrix(0.667 -0.1247 0 1 2284 1047.9)">R</text><text transform="matrix(0.667 -0.1247 0 1 2280 1045.4)">R</text><text transform="matrix(0.667 -0.1247 0 1 2276 1042.9)">R</text></g><g fill="#fff" stroke="#fff" stroke-width="9"><text transform="matrix(0.667 -0.1247 0 1 2300 1058.1)">R</text><text transform="matrix(0.667 -0.1247 0 1 2296 1055.6)">R</text><text transform="matrix(0.667 -0.1247 0 1 2292 1053)">R</text><text transform="matrix(0.667 -0.1247 0 1 2288 1050.5)">R</text><text transform="matrix(0.667 -0.1247 0 1 2284 1047.9)">R</text><text transform="matrix(0.667 -0.1247 0 1 2280 1045.4)">R</text><text transform="matrix(0.667 -0.1247 0 1 2276 1042.9)">R</text></g><g fill="#000" stroke="#000" stroke-width="10"><text transform="matrix(0.667 -0.1247 0 1 2300 1058.1)">R</text></g><g fill="#fff" stroke="#fff" stroke-width="4"><text transform="matrix(0.667 -0.1247 0 1 2300 1058.1)">R</text></g></g>
<polygon points="3032.5,956.8 3077.5,948.4 3112.5,970.6 3112.5,1065.6 3067.5,1074 3032.5,1051.8"/><path d="M3032.5 956.8L3067.5 979L3112.5 970.6M3067.5 979L3067.5 1074"/><polygon points="3097.5,985.4 3102.5,984.5 3102.5,1004.5 3097.5,1005.4" stroke-width="2.4"/>
<polygon points="3291,1023.1 3309,1019.7 3323,1028.6 3323,1064.6 3305,1068 3291,1059.1"/><path d="M3291 1023.1L3305 1032L3323 1028.6M3305 1032L3305 1068"/><path d="M3291 1035.1L3305 1044L3323 1040.6M3291 1047.1L3305 1056L3323 1052.6" fill="none"/>
<polygon points="3154,960.6 3180,955.7 3198,967.1 3198,1003.1 3172,1008 3154,996.6"/><path d="M3154 960.6L3172 972L3198 967.1M3172 972L3172 1008"/><path d="M3154 978.6L3172 990L3198 985.1" fill="none"/>
<polygon points="3128,966.6 3154,961.7 3172,973.1 3172,1009.1 3146,1014 3128,1002.6"/><path d="M3128 966.6L3146 978L3172 973.1M3146 978L3146 1014"/><path d="M3128 984.6L3146 996L3172 991.1" fill="none"/>
<polygon points="3102,973.6 3128,968.7 3146,980.1 3146,1016.1 3120,1021 3102,1009.6"/><path d="M3102 973.6L3120 985L3146 980.1M3120 985L3120 1021"/><path d="M3102 991.6L3120 1003L3146 998.1" fill="none"/>
<polygon points="3146,984.6 3172,979.7 3190,991.1 3190,1027.1 3164,1032 3146,1020.6"/><path d="M3146 984.6L3164 996L3190 991.1M3164 996L3164 1032"/><path d="M3146 1002.6L3164 1014L3190 1009.1" fill="none"/>
<polygon points="3120,990.6 3146,985.7 3164,997.1 3164,1033.1 3138,1038 3120,1026.6"/><path d="M3120 990.6L3138 1002L3164 997.1M3138 1002L3138 1038"/><path d="M3120 1008.6L3138 1020L3164 1015.1" fill="none"/>
<polygon points="2942,1026.6 2960,1023.2 2978,1034.6 2978,1074.6 2960,1078 2942,1066.6"/><path d="M2942 1026.6L2960 1038L2978 1034.6M2960 1038L2960 1078"/>
<polygon points="2967.5,987.2 3025,976.5 3075,1008.2 3075,1066.2 3017.5,1077 2967.5,1045.2"/><path d="M2967.5 987.2L3017.5 1019L3075 1008.2M3017.5 1019L3017.5 1077"/>
<polygon points="3009,984.6 3031,980.5 3049,991.9 3049,1011.9 3027,1016 3009,1004.6"/><path d="M3009 984.6L3027 996L3049 991.9M3027 996L3027 1016"/>
<polygon points="3182.5,994.8 3242.5,983.5 3292.5,1015.3 3292.5,1065.3 3232.5,1076.5 3182.5,1044.8"/><path d="M3182.5 994.8L3232.5 1026.5L3292.5 1015.3M3232.5 1026.5L3232.5 1076.5"/><polygon points="3246.5,1035.9 3262.5,1032.9 3262.5,1056.9 3246.5,1059.9" stroke-width="2.4"/>
<rect x="1910.6" y="1060" width="6.5" height="22"/><rect x="1923.6" y="1060" width="6.5" height="22"/><path d="M1907.6 1036Q1891.6 1036 1877.6 1026M1932.6 1036Q1947.6 1040 1962.6 1045" fill="none" stroke-width="12"/><path d="M1907.6 1036Q1891.6 1036 1877.6 1026M1932.6 1036Q1947.6 1040 1962.6 1045" fill="none" stroke="#fff" stroke-width="6.5"/><ellipse cx="1875.6" cy="1025" rx="5.5" ry="5.5"/><ellipse cx="1964.6" cy="1046" rx="5.5" ry="5.5"/><path d="M1906.6 1030L1900.6 1060L1938.6 1060L1934.6 1030C1929.6 1024 1911.6 1024 1906.6 1030Z"/><path d="M1921.6 1028L1921.6 1060" stroke-width="2.2"/><path d="M1914.6 1036v.1M1914.6 1044v.1M1914.6 1052v.1" stroke-width="3.2" stroke-linecap="round"/><ellipse cx="1918.6" cy="1017" rx="11.5" ry="14"/><path d="M1915.6 1004C1925.6 1000 1931.6 1008 1930.6 1026L1922.6 1029C1923.6 1020 1921.6 1010 1915.6 1004Z" fill="#000" stroke-width="1.5"/><rect x="1908.6" y="994" width="21" height="10"/>
<polygon points="799,881.8 867,869.1 924,905.3 924,1078.3 856,1091 799,1054.8"/><path d="M799 881.8L856 918L924 905.3M856 918L856 1091"/><polygon points="884.6,931.4 900.9,928.3 900.9,962.3 884.6,965.4"/><path d="M799 961.8L856 998L924 985.3" fill="none"/><path d="M799 967.8L856 1004L924 991.3" fill="none" stroke-width="5"/><polygon points="898.2,1017.1 905,1015.8 905,1055.4 898.2,1056.7"/><path d="M898.2 1039.1L905 1037.8"/>
<ellipse cx="1815.4" cy="942" rx="20" ry="21"/><ellipse cx="1831.4" cy="946" rx="18" ry="20"/><path d="M1782.4 920C1782.4 942 1856.4 942 1856.4 920L1841.4 900C1829.4 892 1809.4 892 1797.4 900Z"/><path d="M1784.4 914C1794.4 928 1844.4 928 1854.4 914" fill="none"/><ellipse cx="1819.4" cy="892" rx="20" ry="9"/><path d="M1809.4 886L1819.4 862L1829.4 886A10 5 0 0 1 1809.4 886Z"/><circle cx="1795.4" cy="914" r="1.6" fill="#000"/>
<path d="M1375 1287.5Q1350 1290 1360 1285Q1370 1280 1366 1290Q1362 1300 1351 1308Q1340 1316 1350 1323Q1360 1330 1370 1328Q1380 1326 1387.5 1338Q1395 1350 1407.5 1356Q1420 1362 1430 1351Q1440 1340 1430 1330Q1420 1320 1425 1310Q1430 1300 1415 1292.5Q1400 1285 1375 1287.5Z" stroke-width="2.4"/>
<polygon points="3115,1027.2 3182.5,1014.6 3232.5,1046.4 3232.5,1098.4 3165,1111 3115,1079.2"/><path d="M3115 1027.2L3165 1059L3232.5 1046.4M3165 1059L3165 1111"/>
<g font-family="'Liberation Sans',sans-serif" font-weight="bold" font-size="210.8" stroke-linejoin="round"><g fill="#000" stroke="#000" stroke-width="10"><text transform="matrix(0.916 -0.1713 0 1 1968.3 1118.4)">I</text><text transform="matrix(0.916 -0.1713 0 1 1964.3 1115.8)">I</text><text transform="matrix(0.916 -0.1713 0 1 1960.3 1113.3)">I</text><text transform="matrix(0.916 -0.1713 0 1 1956.3 1110.8)">I</text><text transform="matrix(0.916 -0.1713 0 1 1952.3 1108.2)">I</text><text transform="matrix(0.916 -0.1713 0 1 1948.3 1105.7)">I</text><text transform="matrix(0.916 -0.1713 0 1 1944.3 1103.1)">I</text></g><g fill="#fff" stroke="#fff" stroke-width="4"><text transform="matrix(0.916 -0.1713 0 1 1968.3 1118.4)">I</text><text transform="matrix(0.916 -0.1713 0 1 1964.3 1115.8)">I</text><text transform="matrix(0.916 -0.1713 0 1 1960.3 1113.3)">I</text><text transform="matrix(0.916 -0.1713 0 1 1956.3 1110.8)">I</text><text transform="matrix(0.916 -0.1713 0 1 1952.3 1108.2)">I</text><text transform="matrix(0.916 -0.1713 0 1 1948.3 1105.7)">I</text><text transform="matrix(0.916 -0.1713 0 1 1944.3 1103.1)">I</text></g><g fill="#000" stroke="#000" stroke-width="5"><text transform="matrix(0.916 -0.1713 0 1 1968.3 1118.4)">I</text></g><g fill="#fff" stroke="#fff" stroke-width="0.1"><text transform="matrix(0.916 -0.1713 0 1 1968.3 1118.4)">I</text></g></g>
<g font-family="'Liberation Sans',sans-serif" font-weight="bold" font-size="204.9" stroke-linejoin="round"><g fill="#000" stroke="#000" stroke-width="15"><text transform="matrix(0.661 -0.1236 0 1 2025.2 1105.1)">A</text><text transform="matrix(0.661 -0.1236 0 1 2021.2 1102.6)">A</text><text transform="matrix(0.661 -0.1236 0 1 2017.2 1100)">A</text><text transform="matrix(0.661 -0.1236 0 1 2013.2 1097.5)">A</text><text transform="matrix(0.661 -0.1236 0 1 2009.2 1094.9)">A</text><text transform="matrix(0.661 -0.1236 0 1 2005.2 1092.4)">A</text><text transform="matrix(0.661 -0.1236 0 1 2001.2 1089.9)">A</text></g><g fill="#fff" stroke="#fff" stroke-width="9"><text transform="matrix(0.661 -0.1236 0 1 2025.2 1105.1)">A</text><text transform="matrix(0.661 -0.1236 0 1 2021.2 1102.6)">A</text><text transform="matrix(0.661 -0.1236 0 1 2017.2 1100)">A</text><text transform="matrix(0.661 -0.1236 0 1 2013.2 1097.5)">A</text><text transform="matrix(0.661 -0.1236 0 1 2009.2 1094.9)">A</text><text transform="matrix(0.661 -0.1236 0 1 2005.2 1092.4)">A</text><text transform="matrix(0.661 -0.1236 0 1 2001.2 1089.9)">A</text></g><g fill="#000" stroke="#000" stroke-width="10"><text transform="matrix(0.661 -0.1236 0 1 2025.2 1105.1)">A</text></g><g fill="#fff" stroke="#fff" stroke-width="4"><text transform="matrix(0.661 -0.1236 0 1 2025.2 1105.1)">A</text></g></g>
<polygon points="2948,1059.1 2964,1056.1 2978,1065 2978,1115 2962,1118 2948,1109.1"/><path d="M2948 1059.1L2962 1068L2978 1065M2962 1068L2962 1118"/><path d="M2948 1071.6L2962 1080.5L2978 1077.5M2948 1084.1L2962 1093L2978 1090M2948 1096.6L2962 1105.5L2978 1102.5" fill="none"/>
<polygon points="3299,1059.8 3321,1055.7 3337,1065.9 3337,1123.9 3315,1128 3299,1117.8"/><path d="M3299 1059.8L3315 1070L3337 1065.9M3315 1070L3315 1128"/>
<rect x="1151.7" y="1110.8" width="6" height="20.2"/><rect x="1163.7" y="1110.8" width="6" height="20.2"/><path d="M1146.2 1085L1140.7 1105.2M1174.7 1085L1180.2 1105.2" fill="none" stroke-width="7"/><path d="M1146.2 1085L1140.7 1105.2M1174.7 1085L1180.2 1105.2" stroke="#fff" stroke-width="2.2"/><path d="M1148 1083.2L1142.5 1110.8L1177.5 1110.8L1173.8 1083.2C1169.2 1077.6 1152.6 1077.6 1148 1083.2Z"/><path d="M1161.8 1081.3L1161.8 1110.8" stroke-width="2.2"/><path d="M1155.4 1088.7v.1M1155.4 1096v.1M1155.4 1103.4v.1" stroke-width="2.9" stroke-linecap="round"/><ellipse cx="1159.1" cy="1071.2" rx="10.6" ry="12.9"/><path d="M1156.3 1059.2C1165.5 1055.6 1171 1062.9 1170.1 1079.5L1162.8 1082.2C1163.7 1074 1161.8 1064.8 1156.3 1059.2Z" fill="#000" stroke-width="1.5"/><rect x="1149.9" y="1050" width="19.3" height="9.2"/>
<polygon points="3088,1061.1 3106,1057.7 3120,1066.6 3120,1126.6 3102,1130 3088,1121.1"/><path d="M3088 1061.1L3102 1070L3120 1066.6M3102 1070L3102 1130"/><path d="M3088 1076.1L3102 1085L3120 1081.6M3088 1091.1L3102 1100L3120 1096.6M3088 1106.1L3102 1115L3120 1111.6" fill="none"/>
<polygon points="558,1031.7 618,1020.4 665,1050.3 665,1120.3 605,1131.5 558,1101.7"/><path d="M558 1031.7L605 1061.5L665 1050.3M605 1061.5L605 1131.5"/>
<polygon points="567.5,981.1 625,970.3 665,995.7 665,1049.7 607.5,1060.5 567.5,1035.1"/><path d="M567.5 981.1L607.5 1006.5L665 995.7M607.5 1006.5L607.5 1060.5"/>
<polygon points="650,1038.6 674,1034.1 692,1045.5 692,1123.5 668,1128 650,1116.6"/><path d="M650 1038.6L668 1050L692 1045.5M668 1050L668 1128"/><path d="M650 1058.1L668 1069.5L692 1065M650 1077.6L668 1089L692 1084.5M650 1097.1L668 1108.5L692 1104" fill="none"/>
<polygon points="672,1066.6 696,1062.1 714,1073.5 714,1133.5 690,1138 672,1126.6"/><path d="M672 1066.6L690 1078L714 1073.5M690 1078L690 1138"/><path d="M672 1086.6L690 1098L714 1093.5M672 1106.6L690 1118L714 1113.5" fill="none"/>
<polygon points="951.7,849.8 1023.2,836.5 1088.8,878.1 1088.8,1125.6 1017.3,1139 951.7,1097.3"/><path d="M951.7 849.8L1017.3 891.5L1088.8 878.1M1017.3 891.5L1017.3 1139"/><polygon points="1035.2,905 1067.3,899 1067.3,928 1035.2,934.1"/><path d="M1049.5 919.2L1074.5 934.8" stroke-width="7"/><path d="M1051.5 920.8L1074.5 934.8" stroke="#fff" stroke-width="2.5"/><path d="M951.7 912.3L1017.3 954L1088.8 940.6" fill="none"/><path d="M951.7 918.3L1017.3 960L1088.8 946.6" fill="none" stroke-width="5"/><path d="M1038.8 981.2h7v14h5v-10h6v28h-7v-10h-5v-4h-6z"/><path d="M951.7 999.8L1017.3 1041.5L1088.8 1028.1" fill="none"/><path d="M951.7 1005.8L1017.3 1047.5L1088.8 1034.1" fill="none" stroke-width="5"/><polygon points="981.2,1051.3 964.8,1040.9 964.8,1082.6 981.2,1093"/>
<path d="M2502 1024L2502 1140" stroke-width="6"/><path d="M2502 1024V1140" stroke="#fff" stroke-width="2"/>
<polygon points="2467,1043 2511,1034.7 2552,1060.8 2552,1132.8 2508,1141 2467,1115"/><path d="M2467 1043L2508 1069L2552 1060.8M2508 1069L2508 1141"/><path d="M2467 1061L2508 1087L2552 1078.8M2519 1138.9L2519 1066.9L2478 1040.9M2497.8 1134.5L2497.8 1062.5L2541.8 1054.3M2467 1079L2508 1105L2552 1096.8M2530 1136.9L2530 1064.9L2489 1038.9M2487.5 1128L2487.5 1056L2531.5 1047.8M2467 1097L2508 1123L2552 1114.8M2541 1134.8L2541 1062.8L2500 1036.8M2477.2 1121.5L2477.2 1049.5L2521.2 1041.2" fill="none"/>
<polygon points="622,1080.6 648,1075.7 666,1087.1 666,1137.1 640,1142 622,1130.6"/><path d="M622 1080.6L640 1092L666 1087.1M640 1092L640 1142"/><path d="M622 1097.2L640 1108.7L666 1103.8M622 1113.9L640 1125.3L666 1120.5" fill="none"/>
<polygon points="2910,1125 2975,1112 3000,1130 3000,1150 2950,1166 2910,1136"/><path d="M2910 1125L2950 1155L3000 1140" fill="none" stroke-width="2.6"/><path d="M2958 1140h.1M2970 1136h.1M2980 1142h.1M2990 1150h.1M3000 1160h.1M3012 1166h.1M3005 1154h.1" fill="none"/><ellipse cx="2963" cy="1138" rx="5" ry="4"/>
<polygon points="2886,1083.1 2904,1079.7 2918,1088.6 2918,1146.6 2900,1150 2886,1141.1"/><path d="M2886 1083.1L2900 1092L2918 1088.6M2900 1092L2900 1150"/>
<polygon points="3228,1087.4 3283,1077.1 3295,1084.7 3295,1146.7 3240,1157 3228,1149.4"/><path d="M3228 1087.4L3240 1095L3295 1084.7M3240 1095L3240 1157"/>
<polygon points="608,1142 620,1140 617,1158 606,1157" stroke-width="2.4"/><polygon points="635,1155 675,1140 685,1158 645,1172" stroke-width="2.4"/><ellipse cx="652" cy="1158" rx="4" ry="4" fill="#000"/>
<polygon points="1345,840.8 1461,819.1 1528.5,862 1528.5,1137 1412.5,1158.7 1345,1115.8"/><path d="M1345 840.8L1412.5 883.7L1528.5 862M1412.5 883.7L1412.5 1158.7"/><polygon points="1431.2,900.6 1511.5,885.6 1511.5,979.2 1431.2,994.2"/><polygon points="1438.5,908.8 1504.5,896.5 1504.5,970.5 1438.5,982.8" stroke-width="3.4"/><path d="M1438.5 912.9L1504.5 900.6M1438.5 921.2L1504.5 908.8M1438.5 929.4L1504.5 917.1M1438.5 937.6L1504.5 925.3M1438.5 945.8L1504.5 933.5M1438.5 954.1L1504.5 941.7M1438.5 962.3L1504.5 949.9M1438.5 970.5L1504.5 958.2M1438.5 978.7L1504.5 966.4" fill="none"/><polygon points="1464.5,929 1471.5,927.7 1471.5,954.7 1464.5,956" stroke-width="2.5"/><polygon points="1478.5,929.4 1485.5,928 1485.5,954 1478.5,955.4" stroke-width="2.5"/><ellipse cx="1446" cy="1034" rx="22" ry="24"/><ellipse cx="1450" cy="1036" rx="17" ry="19"/><path d="M1446 1030l8 2l-2 12" fill="none"/><ellipse cx="1502.4" cy="1026" rx="24" ry="26"/><ellipse cx="1505" cy="1027" rx="18" ry="20"/><path d="M1505 1016v12l8 3" fill="none"/><circle cx="1505" cy="1027" r="14" fill="none" stroke-dasharray="1 6" stroke-width="3"/>
<polygon points="2972.5,1063.6 3037.5,1051.4 3077.5,1076.8 3077.5,1146.8 3012.5,1159 2972.5,1133.6"/><path d="M2972.5 1063.6L3012.5 1089L3077.5 1076.8M3012.5 1089L3012.5 1159"/><polygon points="3004.5,1095.9 2980.5,1080.7 2980.5,1134.7 3004.5,1149.9" fill="#000" stroke-width="2"/>
<path d="M1425.5 741L1415 848A33 11.9 0 0 0 1481 848L1470.5 741Z"/><ellipse cx="1448" cy="741" rx="22.5" ry="8.1"/><ellipse cx="1448" cy="742" rx="13.5" ry="4.5" stroke-width="3.5"/><path d="M1421.1 785.9A26.9 9.7 0 0 0 1474.9 785.9" fill="none"/><path d="M1417.1 826.6A30.9 11.1 0 0 0 1478.9 826.6" fill="none"/><path d="M1428.2 850h.1M1448 854h.1M1467.8 850h.1" fill="none"/>
<polygon points="3030,1067.7 3044,1065 3054,1071.4 3054,1093.4 3040,1096 3030,1089.7"/><path d="M3030 1067.7L3040 1074L3054 1071.4M3040 1074L3040 1096"/>
<polygon points="2214,1110 2234,1106.3 2256,1120.3 2256,1170.3 2236,1174 2214,1160"/><path d="M2214 1110L2236 1124L2256 1120.3M2236 1124L2236 1174"/><path d="M2214 1117.2L2236 1131.1L2256 1127.4M2214 1124.3L2236 1138.3L2256 1134.5M2214 1131.5L2236 1145.4L2256 1141.7M2214 1138.6L2236 1152.6L2256 1148.8M2214 1145.7L2236 1159.7L2256 1156M2214 1152.9L2236 1166.9L2256 1163.1" fill="none"/>
<polygon points="2225,1089.5 2285,1078.3 2333,1108.8 2333,1159.8 2273,1171 2225,1140.5"/><path d="M2225 1089.5L2273 1120L2333 1108.8M2273 1120L2273 1171"/><polygon points="2295,1129.9 2300,1129 2300,1143 2295,1143.9" stroke-width="2.4"/>
<polygon points="3026,1108.6 3046,1104.8 3064,1116.3 3064,1166.3 3044,1170 3026,1158.6"/><path d="M3026 1108.6L3044 1120L3064 1116.3M3044 1120L3044 1170"/>
<path d="M2152 1100L2152 1146A18 6.8 0 0 0 2188 1146L2188 1100Z" fill="#fff"/><ellipse cx="2170" cy="1100" rx="18" ry="6.8"/><path d="M2152 1115.2A18 6.8 0 0 0 2188 1115.2" fill="none"/><path d="M2152 1130.4A18 6.8 0 0 0 2188 1130.4" fill="none"/>
<path d="M2132 1126L2132 1172A18 6.8 0 0 0 2168 1172L2168 1126Z" fill="#fff"/><ellipse cx="2150" cy="1126" rx="18" ry="6.8"/><path d="M2132 1141.2A18 6.8 0 0 0 2168 1141.2" fill="none"/><path d="M2132 1156.4A18 6.8 0 0 0 2168 1156.4" fill="none"/>
<path d="M2174 1134L2174 1180A18 6.8 0 0 0 2210 1180L2210 1134Z" fill="#fff"/><ellipse cx="2192" cy="1134" rx="18" ry="6.8"/><path d="M2174 1149.2A18 6.8 0 0 0 2210 1149.2" fill="none"/><path d="M2174 1164.4A18 6.8 0 0 0 2210 1164.4" fill="none"/>
<polygon points="3239,1141.8 3261,1137.7 3277,1147.9 3277,1187.9 3255,1192 3239,1181.8"/><path d="M3239 1141.8L3255 1152L3277 1147.9M3255 1152L3255 1192"/><path d="M3239 1155.2L3255 1165.3L3277 1161.2M3239 1168.5L3255 1178.7L3277 1174.6" fill="none"/>
<polygon points="3052,1127.3 3072,1123.6 3092,1136.3 3092,1186.3 3072,1190 3052,1177.3"/><path d="M3052 1127.3L3072 1140L3092 1136.3M3072 1140L3072 1190"/>
<polygon points="3118,1134.8 3140,1130.7 3156,1140.9 3156,1190.9 3134,1195 3118,1184.8"/><path d="M3118 1134.8L3134 1145L3156 1140.9M3134 1145L3134 1195"/><polygon points="3142,1153.5 3145,1152.9 3145,1166.9 3142,1167.5" stroke-width="2.2"/>
<polygon points="3117,1086 3182,1073.9 3230,1104.3 3230,1184.3 3165,1196.5 3117,1166"/><path d="M3117 1086L3165 1116.5L3230 1104.3M3165 1116.5L3165 1196.5"/>
<polygon points="3191,1129.8 3211,1126.1 3227,1136.3 3227,1192.3 3207,1196 3191,1185.8"/><path d="M3191 1129.8L3207 1140L3227 1136.3M3207 1140L3207 1196"/><path d="M3191 1143.8L3207 1154L3227 1150.3M3191 1157.8L3207 1168L3227 1164.3M3191 1171.8L3207 1182L3227 1178.3" fill="none"/>
<path d="M2052 1356Q2040 1368 2049 1373Q2058 1378 2047 1385Q2036 1392 2048 1398Q2060 1404 2070 1402Q2080 1400 2085 1409Q2090 1418 2101 1423L2112 1428" fill="none" stroke-width="2.4"/>
<polygon points="2553,1037.6 2768,997.4 2863,1046.8 2863,1156.8 2648,1197 2553,1147.6" stroke-width="2.6"/><path d="M2553 1037.6L2648 1087L2863 1046.8M2648 1087L2648 1197" stroke-width="2.6"/><ellipse cx="2672" cy="1126" rx="8" ry="10" fill="#000"/><ellipse cx="2672" cy="1126" rx="13" ry="15" fill="none"/><polygon points="2660,1109.1 2684,1104.6 2684,1134.6 2660,1139.1" stroke-width="2.4"/><path d="M2560 1052l8 5M2566 1118l8 5M2625 1086l8 5M2660 1098l10 -2M2845 1060l10 -2" fill="none" stroke-width="2.4"/>
<polygon points="3296,1152 3310,1146 3320,1158 3304,1166" stroke-width="2.4"/>
<polygon points="2322,1139 2353.9,1128.4 2373.6,1069.1 2432,1058.5 2472,1087.4 2477,1159 2472,1189 2376.7,1208.9 2324.3,1186"/><polygon points="2322,1139 2353.9,1131.4 2405.5,1157.2 2373.6,1166.3"/><polygon points="2322,1139 2373.6,1166.3 2376.7,1208.9 2324.3,1186"/><polygon points="2328,1149 2368,1170 2369,1197 2329,1177" stroke-width="2.2"/><polygon points="2373.6,1069.1 2420.7,1099.5 2405.5,1157.2 2353.9,1128.4"/><polygon points="2380,1083 2412,1104 2402,1145 2366,1126" stroke-width="2.4"/><polygon points="2374,1119 2401,1113.2 2411,1106 2403,1144" fill="#000" stroke-width="1.5"/><polygon points="2373.6,1069.1 2432,1058.5 2472,1087.4 2420.7,1099.5"/><polygon points="2392,1071 2422,1066 2440,1079 2410,1085" stroke-width="2.2"/><polygon points="2426,1109 2462,1102 2464,1141 2421,1149" stroke-width="2.4"/><polygon points="2434,1117 2456,1112 2458,1137 2430,1143" fill="#000" stroke-width="1.5"/><path d="M2468 1064L2468 1169" stroke-width="4"/><path d="M2478 1069L2478 1173" stroke-width="4"/><ellipse cx="2400.5" cy="1201.5" rx="13" ry="16" transform="rotate(18 2400.5 1201.5)"/><ellipse cx="2405.5" cy="1203.5" rx="12" ry="15.5" stroke-width="3.2" transform="rotate(18 2405.5 1203.5)"/><ellipse cx="2406.5" cy="1203.5" rx="6" ry="9" transform="rotate(18 2406.5 1203.5)"/><ellipse cx="2406.5" cy="1203.5" rx="2.5" ry="5" fill="#000" stroke-width="1" transform="rotate(18 2406.5 1203.5)"/><ellipse cx="2457" cy="1187" rx="13" ry="16" transform="rotate(18 2457 1187)"/><ellipse cx="2462" cy="1189" rx="12" ry="15.5" stroke-width="3.2" transform="rotate(18 2462 1189)"/><ellipse cx="2463" cy="1189" rx="6" ry="9" transform="rotate(18 2463 1189)"/><ellipse cx="2463" cy="1189" rx="2.5" ry="5" fill="#000" stroke-width="1" transform="rotate(18 2463 1189)"/><polygon points="2324.3,1186 2376.7,1208.9 2376.7,1214 2325,1191" fill="#000" stroke-width="1.5"/>
<rect x="2476" y="1189" width="6.5" height="22"/><rect x="2489" y="1189" width="6.5" height="22"/><path d="M2473 1165Q2457 1165 2443 1155M2498 1165Q2513 1169 2528 1174" fill="none" stroke-width="12"/><path d="M2473 1165Q2457 1165 2443 1155M2498 1165Q2513 1169 2528 1174" fill="none" stroke="#fff" stroke-width="6.5"/><ellipse cx="2441" cy="1154" rx="5.5" ry="5.5"/><ellipse cx="2530" cy="1175" rx="5.5" ry="5.5"/><path d="M2472 1159L2466 1189L2504 1189L2500 1159C2495 1153 2477 1153 2472 1159Z"/><path d="M2487 1157L2487 1189" stroke-width="2.2"/><path d="M2480 1165v.1M2480 1173v.1M2480 1181v.1" stroke-width="3.2" stroke-linecap="round"/><ellipse cx="2484" cy="1146" rx="11.5" ry="14"/><path d="M2481 1133C2491 1129 2497 1137 2496 1155L2488 1158C2489 1149 2487 1139 2481 1133Z" fill="#000" stroke-width="1.5"/>
<polygon points="3164,1161.8 3184,1158.1 3200,1168.3 3200,1208.3 3180,1212 3164,1201.8"/><path d="M3164 1161.8L3180 1172L3200 1168.3M3180 1172L3180 1212"/>
<polygon points="3072,1179.8 3092,1176.1 3108,1186.3 3108,1208.3 3088,1212 3072,1201.8"/><path d="M3072 1179.8L3088 1190L3108 1186.3M3088 1190L3088 1212"/>
<polygon points="2575,1150 2615,1160 2607,1224 2565,1210"/><path d="M2615 1160L2629 1214M2618 1180L2623 1218" fill="none" stroke-width="2.6"/>
<g font-family="'Liberation Sans',sans-serif" font-weight="bold" font-size="183.1" stroke-linejoin="round"><g fill="#000" stroke="#000" stroke-width="15"><text transform="matrix(0.779 -0.1457 0 1 1254.1 1239.8)">M</text><text transform="matrix(0.779 -0.1457 0 1 1250.3 1237.4)">M</text><text transform="matrix(0.779 -0.1457 0 1 1246.6 1235)">M</text><text transform="matrix(0.779 -0.1457 0 1 1242.8 1232.6)">M</text><text transform="matrix(0.779 -0.1457 0 1 1239.1 1230.2)">M</text><text transform="matrix(0.779 -0.1457 0 1 1235.3 1227.9)">M</text><text transform="matrix(0.779 -0.1457 0 1 1231.6 1225.5)">M</text><text transform="matrix(0.779 -0.1457 0 1 1227.8 1223.1)">M</text><text transform="matrix(0.779 -0.1457 0 1 1224.1 1220.7)">M</text></g><g fill="#fff" stroke="#fff" stroke-width="9"><text transform="matrix(0.779 -0.1457 0 1 1254.1 1239.8)">M</text><text transform="matrix(0.779 -0.1457 0 1 1250.3 1237.4)">M</text><text transform="matrix(0.779 -0.1457 0 1 1246.6 1235)">M</text><text transform="matrix(0.779 -0.1457 0 1 1242.8 1232.6)">M</text><text transform="matrix(0.779 -0.1457 0 1 1239.1 1230.2)">M</text><text transform="matrix(0.779 -0.1457 0 1 1235.3 1227.9)">M</text><text transform="matrix(0.779 -0.1457 0 1 1231.6 1225.5)">M</text><text transform="matrix(0.779 -0.1457 0 1 1227.8 1223.1)">M</text><text transform="matrix(0.779 -0.1457 0 1 1224.1 1220.7)">M</text></g><g fill="#000" stroke="#000" stroke-width="10"><text transform="matrix(0.779 -0.1457 0 1 1254.1 1239.8)">M</text></g><g fill="#fff" stroke="#fff" stroke-width="4"><text transform="matrix(0.779 -0.1457 0 1 1254.1 1239.8)">M</text></g></g>
<polygon points="2358,1175.3 2380,1171.2 2400,1183.9 2400,1239.9 2378,1244 2358,1231.3"/><path d="M2358 1175.3L2378 1188L2400 1183.9M2378 1188L2378 1244"/><path d="M2358 1189.3L2378 1202L2400 1197.9M2358 1203.3L2378 1216L2400 1211.9M2358 1217.3L2378 1230L2400 1225.9" fill="none"/>
<polygon points="2410,1213.3 2434,1208.8 2454,1221.5 2454,1245.5 2430,1250 2410,1237.3"/><path d="M2410 1213.3L2430 1226L2454 1221.5M2430 1226L2430 1250"/><path d="M2420 1219L2444 1215" stroke-width="2.4"/>
<path d="M2628 1250C2626 1224 2634 1210 2644 1208L2658 1208C2670 1214 2676 1234 2674 1252Z"/><path d="M2652 1210L2653 1250" stroke-width="2.2"/><ellipse cx="2650" cy="1200" rx="11" ry="14"/><path d="M2647 1187C2657 1183 2663 1191 2662 1209L2654 1212C2655 1203 2653 1193 2647 1187Z" fill="#000" stroke-width="1.5"/><polygon points="2658,1252 2680,1258 2684,1252 2662,1246"/>
<polygon points="2714.8,1166.5 2738.8,1162 2754.8,1172.1 2754.8,1223.1 2730.8,1227.6 2714.8,1217.5"/><path d="M2714.8 1166.5L2730.8 1176.6L2754.8 1172.1M2730.8 1176.6L2730.8 1227.6"/><path d="M2714.8 1183.5L2730.8 1193.6L2754.8 1189.1M2714.8 1200.5L2730.8 1210.6L2754.8 1206.1" fill="none"/>
<polygon points="2737.2,1144.8 2761.2,1140.3 2777.2,1150.4 2777.2,1218.4 2753.2,1222.9 2737.2,1212.8"/><path d="M2737.2 1144.8L2753.2 1154.9L2777.2 1150.4M2753.2 1154.9L2753.2 1222.9"/><path d="M2737.2 1161.8L2753.2 1171.9L2777.2 1167.4M2737.2 1178.8L2753.2 1188.9L2777.2 1184.4M2737.2 1195.8L2753.2 1205.9L2777.2 1201.4" fill="none"/>
<polygon points="2761.3,1174.9 2785.3,1170.4 2801.3,1180.6 2801.3,1214.6 2777.3,1219.1 2761.3,1208.9"/><path d="M2761.3 1174.9L2777.3 1185.1L2801.3 1180.6M2777.3 1185.1L2777.3 1219.1"/><path d="M2761.3 1191.9L2777.3 1202.1L2801.3 1197.6" fill="none"/>
<polygon points="2788.8,1136.1 2812.8,1131.6 2828.8,1141.7 2828.8,1209.7 2804.8,1214.2 2788.8,1204.1"/><path d="M2788.8 1136.1L2804.8 1146.2L2828.8 1141.7M2804.8 1146.2L2804.8 1214.2"/><path d="M2788.8 1153.1L2804.8 1163.2L2828.8 1158.7M2788.8 1170.1L2804.8 1180.2L2828.8 1175.7M2788.8 1187.1L2804.8 1197.2L2828.8 1192.7" fill="none"/>
<polygon points="2811.4,1132 2835.4,1127.5 2851.4,1137.7 2851.4,1205.7 2827.4,1210.2 2811.4,1200"/><path d="M2811.4 1132L2827.4 1142.2L2851.4 1137.7M2827.4 1142.2L2827.4 1210.2"/><path d="M2811.4 1149L2827.4 1159.2L2851.4 1154.7M2811.4 1166L2827.4 1176.2L2851.4 1171.7M2811.4 1183L2827.4 1193.2L2851.4 1188.7" fill="none"/>
<polygon points="2726.9,1195 2750.9,1190.5 2766.9,1200.7 2766.9,1234.7 2742.9,1239.2 2726.9,1229"/><path d="M2726.9 1195L2742.9 1205.2L2766.9 1200.7M2742.9 1205.2L2742.9 1239.2"/><path d="M2726.9 1212L2742.9 1222.2L2766.9 1217.7" fill="none"/>
<polygon points="2752.3,1156 2776.3,1151.5 2792.3,1161.7 2792.3,1229.7 2768.3,1234.2 2752.3,1224"/><path d="M2752.3 1156L2768.3 1166.2L2792.3 1161.7M2768.3 1166.2L2768.3 1234.2"/><path d="M2752.3 1173L2768.3 1183.2L2792.3 1178.7M2752.3 1190L2768.3 1200.2L2792.3 1195.7M2752.3 1207L2768.3 1217.2L2792.3 1212.7" fill="none"/>
<polygon points="2776.4,1151.1 2800.4,1146.6 2816.4,1156.8 2816.4,1224.8 2792.4,1229.3 2776.4,1219.1"/><path d="M2776.4 1151.1L2792.4 1161.3L2816.4 1156.8M2792.4 1161.3L2792.4 1229.3"/><path d="M2776.4 1168.1L2792.4 1178.3L2816.4 1173.8M2776.4 1185.1L2792.4 1195.3L2816.4 1190.8M2776.4 1202.1L2792.4 1212.3L2816.4 1207.8" fill="none"/>
<polygon points="2804.8,1163.8 2828.8,1159.3 2844.8,1169.5 2844.8,1220.5 2820.8,1224.9 2804.8,1214.8"/><path d="M2804.8 1163.8L2820.8 1173.9L2844.8 1169.5M2820.8 1173.9L2820.8 1224.9"/><path d="M2804.8 1180.8L2820.8 1190.9L2844.8 1186.5M2804.8 1197.8L2820.8 1207.9L2844.8 1203.5" fill="none"/>
<polygon points="2830.9,1159.7 2854.9,1155.2 2870.9,1165.4 2870.9,1216.4 2846.9,1220.9 2830.9,1210.7"/><path d="M2830.9 1159.7L2846.9 1169.9L2870.9 1165.4M2846.9 1169.9L2846.9 1220.9"/><path d="M2830.9 1176.7L2846.9 1186.9L2870.9 1182.4M2830.9 1193.7L2846.9 1203.9L2870.9 1199.4" fill="none"/>
<polygon points="2746.4,1189.1 2770.4,1184.7 2786.4,1194.8 2786.4,1245.8 2762.4,1250.3 2746.4,1240.1"/><path d="M2746.4 1189.1L2762.4 1199.3L2786.4 1194.8M2762.4 1199.3L2762.4 1250.3"/><path d="M2746.4 1206.1L2762.4 1216.3L2786.4 1211.8M2746.4 1223.1L2762.4 1233.3L2786.4 1228.8" fill="none"/>
<polygon points="2773.8,1200.5 2797.8,1196 2813.8,1206.2 2813.8,1240.2 2789.8,1244.7 2773.8,1234.5"/><path d="M2773.8 1200.5L2789.8 1210.7L2813.8 1206.2M2789.8 1210.7L2789.8 1244.7"/><path d="M2773.8 1217.5L2789.8 1227.7L2813.8 1223.2" fill="none"/>
<polygon points="2794.4,1179.2 2818.4,1174.7 2834.4,1184.9 2834.4,1235.9 2810.4,1240.3 2794.4,1230.2"/><path d="M2794.4 1179.2L2810.4 1189.3L2834.4 1184.9M2810.4 1189.3L2810.4 1240.3"/><path d="M2794.4 1196.2L2810.4 1206.3L2834.4 1201.9M2794.4 1213.2L2810.4 1223.3L2834.4 1218.9" fill="none"/>
<polygon points="2823.7,1156.6 2847.7,1152.1 2863.7,1162.3 2863.7,1230.3 2839.7,1234.8 2823.7,1224.6"/><path d="M2823.7 1156.6L2839.7 1166.8L2863.7 1162.3M2839.7 1166.8L2839.7 1234.8"/><path d="M2823.7 1173.6L2839.7 1183.8L2863.7 1179.3M2823.7 1190.6L2839.7 1200.8L2863.7 1196.3M2823.7 1207.6L2839.7 1217.8L2863.7 1213.3" fill="none"/>
<polygon points="2844.2,1169.9 2868.2,1165.4 2884.2,1175.6 2884.2,1226.6 2860.2,1231.1 2844.2,1220.9"/><path d="M2844.2 1169.9L2860.2 1180.1L2884.2 1175.6M2860.2 1180.1L2860.2 1231.1"/><path d="M2844.2 1186.9L2860.2 1197.1L2884.2 1192.6M2844.2 1203.9L2860.2 1214.1L2884.2 1209.6" fill="none"/>
<rect x="1635" y="1220.2" width="5" height="22"/><rect x="1746" y="1244.4" width="5" height="22"/><rect x="1691" y="1257" width="5" height="22"/><polygon points="1632,1215.2 1694,1203.6 1752,1240.4 1752,1245.4 1690,1257 1632,1220.2"/><path d="M1632 1215.2L1690 1252L1752 1240.4M1690 1252L1690 1257"/>
<polygon points="1655,1155 1700,1146.5 1730,1165.6 1730,1240.6 1685,1249 1655,1230"/><path d="M1655 1155L1685 1174L1730 1165.6M1685 1174L1685 1249"/><polygon points="1691,1180.9 1725,1174.5 1725,1213 1691,1219.4" fill="#000" stroke-width="2"/><rect x="0" y="0" width="0" height="0" fill="#fff" stroke="none" transform="skewY(-10)"/><polygon points="1703,1187.1 1721,1183.8 1721,1197.3 1709.8,1199.4 1709.8,1210.6 1703,1211.9" stroke-width="1.5"/><polygon points="1698.5,1227 1712.9,1224.3 1712.9,1233.3 1698.5,1236" stroke-width="2.2"/>
<polygon points="1734.6,1149.3 1758.6,1144.8 1774.6,1154.9 1774.6,1234.9 1750.6,1239.4 1734.6,1229.3"/><path d="M1734.6 1149.3L1750.6 1159.4L1774.6 1154.9M1750.6 1159.4L1750.6 1239.4"/><path d="M1734.6 1165.3L1750.6 1175.4L1774.6 1170.9M1734.6 1181.3L1750.6 1191.4L1774.6 1186.9M1734.6 1197.3L1750.6 1207.4L1774.6 1202.9M1734.6 1213.3L1750.6 1223.4L1774.6 1218.9" fill="none"/>
<polygon points="1761,1145.9 1785,1141.4 1801,1151.6 1801,1231.6 1777,1236 1761,1225.9"/><path d="M1761 1145.9L1777 1156L1801 1151.6M1777 1156L1777 1236"/><path d="M1761 1161.9L1777 1172L1801 1167.6M1761 1177.9L1777 1188L1801 1183.6M1761 1193.9L1777 1204L1801 1199.6M1761 1209.9L1777 1220L1801 1215.6" fill="none"/>
<polygon points="1787.4,1171.9 1811.4,1167.4 1827.4,1177.6 1827.4,1225.6 1803.4,1230.1 1787.4,1219.9"/><path d="M1787.4 1171.9L1803.4 1182.1L1827.4 1177.6M1803.4 1182.1L1803.4 1230.1"/><path d="M1787.4 1187.9L1803.4 1198.1L1827.4 1193.6M1787.4 1203.9L1803.4 1214.1L1827.4 1209.6" fill="none"/>
<polygon points="1808.9,1119.3 1832.9,1114.9 1848.9,1125 1848.9,1221 1824.9,1225.5 1808.9,1215.3"/><path d="M1808.9 1119.3L1824.9 1129.5L1848.9 1125M1824.9 1129.5L1824.9 1225.5"/><path d="M1808.9 1135.3L1824.9 1145.5L1848.9 1141M1808.9 1151.3L1824.9 1161.5L1848.9 1157M1808.9 1167.3L1824.9 1177.5L1848.9 1173M1808.9 1183.3L1824.9 1193.5L1848.9 1189M1808.9 1199.3L1824.9 1209.5L1848.9 1205" fill="none"/>
<polygon points="1754.6,1192.4 1778.6,1187.9 1794.6,1198.1 1794.6,1246.1 1770.6,1250.6 1754.6,1240.4"/><path d="M1754.6 1192.4L1770.6 1202.6L1794.6 1198.1M1770.6 1202.6L1770.6 1250.6"/><path d="M1754.6 1208.4L1770.6 1218.6L1794.6 1214.1M1754.6 1224.4L1770.6 1234.6L1794.6 1230.1" fill="none"/>
<polygon points="1780.5,1187.4 1804.5,1182.9 1820.5,1193.1 1820.5,1241.1 1796.5,1245.6 1780.5,1235.4"/><path d="M1780.5 1187.4L1796.5 1197.6L1820.5 1193.1M1796.5 1197.6L1796.5 1245.6"/><path d="M1780.5 1203.4L1796.5 1213.6L1820.5 1209.1M1780.5 1219.4L1796.5 1229.6L1820.5 1225.1" fill="none"/>
<polygon points="1805.3,1135.8 1829.3,1131.3 1845.3,1141.4 1845.3,1237.4 1821.3,1241.9 1805.3,1231.8"/><path d="M1805.3 1135.8L1821.3 1145.9L1845.3 1141.4M1821.3 1145.9L1821.3 1241.9"/><path d="M1805.3 1151.8L1821.3 1161.9L1845.3 1157.4M1805.3 1167.8L1821.3 1177.9L1845.3 1173.4M1805.3 1183.8L1821.3 1193.9L1845.3 1189.4M1805.3 1199.8L1821.3 1209.9L1845.3 1205.4M1805.3 1215.8L1821.3 1225.9L1845.3 1221.4" fill="none"/>
<polygon points="1826.7,1131.2 1850.7,1126.7 1866.7,1136.8 1866.7,1232.8 1842.7,1237.3 1826.7,1227.2"/><path d="M1826.7 1131.2L1842.7 1141.3L1866.7 1136.8M1842.7 1141.3L1842.7 1237.3"/><path d="M1826.7 1147.2L1842.7 1157.3L1866.7 1152.8M1826.7 1163.2L1842.7 1173.3L1866.7 1168.8M1826.7 1179.2L1842.7 1189.3L1866.7 1184.8M1826.7 1195.2L1842.7 1205.3L1866.7 1200.8M1826.7 1211.2L1842.7 1221.3L1866.7 1216.8" fill="none"/>
<polygon points="1772.3,1202.6 1796.3,1198.1 1812.3,1208.3 1812.3,1256.3 1788.3,1260.8 1772.3,1250.6"/><path d="M1772.3 1202.6L1788.3 1212.8L1812.3 1208.3M1788.3 1212.8L1788.3 1260.8"/><path d="M1772.3 1218.6L1788.3 1228.8L1812.3 1224.3M1772.3 1234.6L1788.3 1244.8L1812.3 1240.3" fill="none"/>
<polygon points="1792.8,1150.3 1816.8,1145.8 1832.8,1156 1832.8,1252 1808.8,1256.4 1792.8,1246.3"/><path d="M1792.8 1150.3L1808.8 1160.4L1832.8 1156M1808.8 1160.4L1808.8 1256.4"/><path d="M1792.8 1166.3L1808.8 1176.4L1832.8 1172M1792.8 1182.3L1808.8 1192.4L1832.8 1188M1792.8 1198.3L1808.8 1208.4L1832.8 1204M1792.8 1214.3L1808.8 1224.4L1832.8 1220M1792.8 1230.3L1808.8 1240.4L1832.8 1236" fill="none"/>
<polygon points="1822.8,1193.2 1846.8,1188.7 1862.8,1198.9 1862.8,1246.9 1838.8,1251.3 1822.8,1241.2"/><path d="M1822.8 1193.2L1838.8 1203.3L1862.8 1198.9M1838.8 1203.3L1838.8 1251.3"/><path d="M1822.8 1209.2L1838.8 1219.3L1862.8 1214.9M1822.8 1225.2L1838.8 1235.3L1862.8 1230.9" fill="none"/>
<polygon points="1847.4,1172.9 1871.4,1168.4 1887.4,1178.5 1887.4,1242.5 1863.4,1247 1847.4,1236.9"/><path d="M1847.4 1172.9L1863.4 1183L1887.4 1178.5M1863.4 1183L1863.4 1247"/><path d="M1847.4 1188.9L1863.4 1199L1887.4 1194.5M1847.4 1204.9L1863.4 1215L1887.4 1210.5M1847.4 1220.9L1863.4 1231L1887.4 1226.5" fill="none"/>
<rect x="1807" y="1270" width="6.5" height="22"/><rect x="1820" y="1270" width="6.5" height="22"/><path d="M1801 1242L1795 1264M1832 1242L1838 1264" fill="none" stroke-width="7"/><path d="M1801 1242L1795 1264M1832 1242L1838 1264" stroke="#fff" stroke-width="2.2"/><path d="M1803 1240L1797 1270L1835 1270L1831 1240C1826 1234 1808 1234 1803 1240Z"/><path d="M1818 1238L1818 1270" stroke-width="2.2"/><path d="M1811 1246v.1M1811 1254v.1M1811 1262v.1" stroke-width="3.2" stroke-linecap="round"/><ellipse cx="1815" cy="1227" rx="11.5" ry="14"/><path d="M1812 1214C1822 1210 1828 1218 1827 1236L1819 1239C1820 1230 1818 1220 1812 1214Z" fill="#000" stroke-width="1.5"/>
<rect x="2196" y="1272" width="6.5" height="22"/><rect x="2209" y="1272" width="6.5" height="22"/><path d="M2193 1248Q2177 1248 2163 1238M2218 1248Q2233 1252 2248 1257" fill="none" stroke-width="12"/><path d="M2193 1248Q2177 1248 2163 1238M2218 1248Q2233 1252 2248 1257" fill="none" stroke="#fff" stroke-width="6.5"/><ellipse cx="2161" cy="1237" rx="5.5" ry="5.5"/><ellipse cx="2250" cy="1258" rx="5.5" ry="5.5"/><path d="M2192 1242L2186 1272L2224 1272L2220 1242C2215 1236 2197 1236 2192 1242Z"/><path d="M2207 1240L2207 1272" stroke-width="2.2"/><path d="M2200 1248v.1M2200 1256v.1M2200 1264v.1" stroke-width="3.2" stroke-linecap="round"/><ellipse cx="2204" cy="1229" rx="11.5" ry="14"/><path d="M2201 1216C2211 1212 2217 1220 2216 1238L2208 1241C2209 1232 2207 1222 2201 1216Z" fill="#000" stroke-width="1.5"/><rect x="2194" y="1206" width="21" height="10"/>
<g font-family="'Liberation Sans',sans-serif" font-weight="bold" font-size="196.2" stroke-linejoin="round"><g fill="#000" stroke="#000" stroke-width="10"><text transform="matrix(1.019 -0.1906 0 1 2087.3 1299.5)">I</text><text transform="matrix(1.019 -0.1906 0 1 2083.6 1297.1)">I</text><text transform="matrix(1.019 -0.1906 0 1 2080 1294.8)">I</text><text transform="matrix(1.019 -0.1906 0 1 2076.3 1292.5)">I</text><text transform="matrix(1.019 -0.1906 0 1 2072.6 1290.2)">I</text><text transform="matrix(1.019 -0.1906 0 1 2069 1287.8)">I</text><text transform="matrix(1.019 -0.1906 0 1 2065.3 1285.5)">I</text></g><g fill="#fff" stroke="#fff" stroke-width="4"><text transform="matrix(1.019 -0.1906 0 1 2087.3 1299.5)">I</text><text transform="matrix(1.019 -0.1906 0 1 2083.6 1297.1)">I</text><text transform="matrix(1.019 -0.1906 0 1 2080 1294.8)">I</text><text transform="matrix(1.019 -0.1906 0 1 2076.3 1292.5)">I</text><text transform="matrix(1.019 -0.1906 0 1 2072.6 1290.2)">I</text><text transform="matrix(1.019 -0.1906 0 1 2069 1287.8)">I</text><text transform="matrix(1.019 -0.1906 0 1 2065.3 1285.5)">I</text></g><g fill="#000" stroke="#000" stroke-width="5"><text transform="matrix(1.019 -0.1906 0 1 2087.3 1299.5)">I</text></g><g fill="#fff" stroke="#fff" stroke-width="0.1"><text transform="matrix(1.019 -0.1906 0 1 2087.3 1299.5)">I</text></g></g>
<polygon points="1722,1282 1745,1270 1770,1282 1748,1296"/><path d="M1722 1282v12l26 14v-12M1748 1308l22 -12v-14M1745 1270l14 -10M1770 1282l12 -8" fill="none" stroke-width="2.5"/><path d="M1730 1320h.1M1742 1326h.1M1752 1318h.1M1762 1328h.1M1738 1334h.1M1772 1316h.1" fill="none" stroke-width="2.6"/>
<polygon points="2932.5,1219.8 2995,1208.1 3045,1239.8 3045,1291.8 2982.5,1303.5 2932.5,1271.8"/><path d="M2932.5 1219.8L2982.5 1251.5L3045 1239.8M2982.5 1251.5L2982.5 1303.5"/><polygon points="2991.5,1257.8 2998.5,1256.5 2998.5,1270.5 2991.5,1271.8" stroke-width="2.4"/>
<polygon points="1660,1246 1704,1256 1696,1316 1650,1302"/><path d="M1704 1256L1718 1306M1707 1276L1712 1310" fill="none" stroke-width="2.6"/>
<path d="M1846 1318L1846 1362" stroke-width="5"/><polygon points="1815,1283 1868,1279 1870,1316 1817,1321"/><polygon points="1819,1290 1865,1286 1866,1312 1821,1316" fill="#000"/>
<path d="M3012 1290L3012 1330A18 6.8 0 0 0 3048 1330L3048 1290Z" fill="#fff"/><ellipse cx="3030" cy="1290" rx="18" ry="6.8"/><path d="M3012 1303.2A18 6.8 0 0 0 3048 1303.2" fill="none"/><path d="M3012 1316.4A18 6.8 0 0 0 3048 1316.4" fill="none"/>
<polygon points="3330,1207 3520,1171.5 3590,1216 3590,1298 3400,1333.5 3330,1289" stroke-width="2.6"/><path d="M3330 1207L3400 1251.5L3590 1216M3400 1251.5L3400 1333.5" stroke-width="2.6"/>
<rect x="2905.5" y="1316" width="6.5" height="22"/><rect x="2918.5" y="1316" width="6.5" height="22"/><path d="M2902.5 1292Q2886.5 1292 2872.5 1282M2927.5 1292Q2942.5 1296 2957.5 1301" fill="none" stroke-width="12"/><path d="M2902.5 1292Q2886.5 1292 2872.5 1282M2927.5 1292Q2942.5 1296 2957.5 1301" fill="none" stroke="#fff" stroke-width="6.5"/><ellipse cx="2870.5" cy="1281" rx="5.5" ry="5.5"/><ellipse cx="2959.5" cy="1302" rx="5.5" ry="5.5"/><path d="M2901.5 1286L2895.5 1316L2933.5 1316L2929.5 1286C2924.5 1280 2906.5 1280 2901.5 1286Z"/><path d="M2916.5 1284L2916.5 1316" stroke-width="2.2"/><path d="M2909.5 1292v.1M2909.5 1300v.1M2909.5 1308v.1" stroke-width="3.2" stroke-linecap="round"/><ellipse cx="2913.5" cy="1273" rx="11.5" ry="14"/><path d="M2910.5 1260C2920.5 1256 2926.5 1264 2925.5 1282L2917.5 1285C2918.5 1276 2916.5 1266 2910.5 1260Z" fill="#000" stroke-width="1.5"/><rect x="2903.5" y="1250" width="21" height="10"/>
<polygon points="1424,1251.8 1438,1249.2 1454,1259.4 1454,1309.4 1440,1312 1424,1301.8"/><path d="M1424 1251.8L1440 1262L1454 1259.4M1440 1262L1440 1312"/><path d="M1424 1258.1L1440 1268.2L1454 1265.6M1424 1264.3L1440 1274.5L1454 1271.9M1424 1270.6L1440 1280.8L1454 1278.1M1424 1276.8L1440 1287L1454 1284.4M1424 1283.1L1440 1293.2L1454 1290.6M1424 1289.3L1440 1299.5L1454 1296.9M1424 1295.6L1440 1305.8L1454 1303.1" fill="none"/>
<rect x="640.5" y="1286.8" width="5" height="14"/><rect x="754" y="1314.3" width="5" height="14"/><rect x="701" y="1326.5" width="5" height="14"/><polygon points="637.5,1281.8 697.5,1270.6 760,1310.3 760,1315.3 700,1326.5 637.5,1286.8"/><path d="M637.5 1281.8L700 1321.5L760 1310.3M700 1321.5L700 1326.5"/>
<polygon points="1444,1258.8 1549,1239.2 1595,1268.4 1595,1274.4 1490,1294 1444,1264.8"/><path d="M1444 1258.8L1490 1288L1595 1268.4M1490 1288L1490 1294"/><polygon points="1490,1294 1595,1274.4 1595,1298.4 1490,1318"/><polygon points="1490,1294 1444,1264.8 1444,1288.8 1490,1318"/><polygon points="1502,1297.8 1530,1292.5 1530,1304.5 1502,1309.8" stroke-width="2.4"/><polygon points="1540,1290.7 1568,1285.4 1568,1297.4 1540,1302.7" stroke-width="2.4"/><polygon points="1578,1283.5 1587,1281.9 1587,1293.9 1578,1295.5" stroke-width="2.4"/><rect x="1447" y="1287.8" width="6" height="16"/><rect x="1492" y="1317" width="6" height="16"/><rect x="1587" y="1297.4" width="6" height="16"/>
<path d="M1465 1215v18l-10 20q10 10 30 0l-10 -20v-18z" stroke-width="2.4"/><ellipse cx="1470" cy="1258" rx="9" ry="5" fill="#000"/><path d="M1480 1212L1480 1222A16 5 0 0 0 1512 1222L1512 1212Z" fill="#fff" stroke-width="2.4"/><ellipse cx="1496" cy="1212" rx="16" ry="5" stroke-width="2.4"/><path d="M1514 1208L1514 1218A12 4 0 0 0 1538 1218L1538 1208Z" fill="#fff" stroke-width="2.4"/><ellipse cx="1526" cy="1208" rx="12" ry="4" stroke-width="2.4"/><ellipse cx="1540" cy="1254" rx="14" ry="6"/><path d="M1527 1255q2 14 13 14q12 0 14 -14" stroke-width="2.4"/>
<rect x="1591" y="1277" width="6.5" height="22"/><rect x="1604" y="1277" width="6.5" height="22"/><path d="M1588 1253Q1572 1253 1558 1243M1613 1253Q1628 1257 1643 1262" fill="none" stroke-width="12"/><path d="M1588 1253Q1572 1253 1558 1243M1613 1253Q1628 1257 1643 1262" fill="none" stroke="#fff" stroke-width="6.5"/><ellipse cx="1556" cy="1242" rx="5.5" ry="5.5"/><ellipse cx="1645" cy="1263" rx="5.5" ry="5.5"/><path d="M1587 1247L1581 1277L1619 1277L1615 1247C1610 1241 1592 1241 1587 1247Z"/><path d="M1602 1245L1602 1277" stroke-width="2.2"/><path d="M1595 1253v.1M1595 1261v.1M1595 1269v.1" stroke-width="3.2" stroke-linecap="round"/><ellipse cx="1599" cy="1234" rx="11.5" ry="14"/><path d="M1596 1221C1606 1217 1612 1225 1611 1243L1603 1246C1604 1237 1602 1227 1596 1221Z" fill="#000" stroke-width="1.5"/>
<polygon points="1912,1306 2060,1278 2086,1294 2086,1312 1945,1352 1912,1326"/><path d="M1912 1306L1945 1330L2086 1294M1945 1330V1352" fill="none" stroke-width="2.8"/><ellipse cx="1985" cy="1343" rx="8" ry="8"/><ellipse cx="2012" cy="1336" rx="8" ry="8"/><ellipse cx="2038" cy="1329" rx="8" ry="8"/><path d="M1945 1354L2086 1315" stroke-width="5"/>
<path d="M2984 1312L2984 1358A18 6.8 0 0 0 3020 1358L3020 1312Z" fill="#fff"/><ellipse cx="3002" cy="1312" rx="18" ry="6.8"/><path d="M2984 1327.2A18 6.8 0 0 0 3020 1327.2" fill="none"/><path d="M2984 1342.4A18 6.8 0 0 0 3020 1342.4" fill="none"/>
<path d="M3024 1322L3024 1368A18 6.8 0 0 0 3060 1368L3060 1322Z" fill="#fff"/><ellipse cx="3042" cy="1322" rx="18" ry="6.8"/><path d="M3024 1337.2A18 6.8 0 0 0 3060 1337.2" fill="none"/><path d="M3024 1352.4A18 6.8 0 0 0 3060 1352.4" fill="none"/>
<path d="M2142 1298L2142 1344A18 6.8 0 0 0 2178 1344L2178 1298Z" fill="#fff"/><ellipse cx="2160" cy="1298" rx="18" ry="6.8"/><path d="M2142 1313.2A18 6.8 0 0 0 2178 1313.2" fill="none"/><path d="M2142 1328.4A18 6.8 0 0 0 2178 1328.4" fill="none"/>
<path d="M2122 1324L2122 1370A18 6.8 0 0 0 2158 1370L2158 1324Z" fill="#fff"/><ellipse cx="2140" cy="1324" rx="18" ry="6.8"/><path d="M2122 1339.2A18 6.8 0 0 0 2158 1339.2" fill="none"/><path d="M2122 1354.4A18 6.8 0 0 0 2158 1354.4" fill="none"/>
<path d="M2190 1364Q2250 1362 2275 1351Q2300 1340 2325 1335L2350 1330" fill="none" stroke-width="6"/>
<path d="M2190 1364Q2250 1362 2275 1351T2350 1330" stroke="#fff" stroke-width="2" fill="none"/><rect x="2340" y="1322" width="30" height="12" rx="4" transform="rotate(-8 2355 1328)"/>
<path d="M2164 1332L2164 1378A18 6.8 0 0 0 2200 1378L2200 1332Z" fill="#fff"/><ellipse cx="2182" cy="1332" rx="18" ry="6.8"/><path d="M2164 1347.2A18 6.8 0 0 0 2200 1347.2" fill="none"/><path d="M2164 1362.4A18 6.8 0 0 0 2200 1362.4" fill="none"/>
<path d="M400 1352C402 1378 425 1386 440 1382C456 1378 464 1364 464 1350Z"/><ellipse cx="432" cy="1351" rx="32" ry="10"/><path d="M405 1346l10 4l8 -4M445 1342l10 -4l6 6" fill="none" stroke-width="2.4"/>
<path d="M2380 1390C2378 1364 2386 1350 2396 1348L2410 1348C2422 1354 2428 1374 2426 1392Z"/><path d="M2404 1350L2405 1390" stroke-width="2.2"/><ellipse cx="2402" cy="1340" rx="11" ry="14"/><path d="M2399 1327C2409 1323 2415 1331 2414 1349L2406 1352C2407 1343 2405 1333 2399 1327Z" fill="#000" stroke-width="1.5"/><polygon points="2410,1392 2432,1398 2436,1392 2414,1386"/>
<path d="M2475.5 1262L2475.5 1392A32 10 0 0 0 2539.5 1392L2539.5 1262Z" fill="#fff"/><ellipse cx="2507.5" cy="1262" rx="32" ry="10"/><ellipse cx="2507.5" cy="1240" rx="11" ry="4"/><path d="M2496 1242v8q-20 4 -21 14M2519 1242v8q20 4 21 14" fill="none" stroke-width="2.8"/><rect x="2500" y="1270" width="12" height="120"/>
<polygon points="3380,1314.8 3432,1305 3482,1336.8 3482,1393.8 3430,1403.5 3380,1371.8"/><path d="M3380 1314.8L3430 1346.5L3482 1336.8M3430 1346.5L3430 1403.5"/><path d="M3380 1333.8L3430 1365.5L3482 1355.8M3447.3 1400.3L3447.3 1343.3L3397.3 1311.5M3413.3 1392.9L3413.3 1335.9L3465.3 1326.2M3380 1352.8L3430 1384.5L3482 1374.8M3464.7 1397L3464.7 1340L3414.7 1308.3M3396.7 1382.3L3396.7 1325.3L3448.7 1315.6" fill="none"/>
<polygon points="1474,1334.8 1494,1331.1 1510,1341.3 1510,1405.3 1490,1409 1474,1398.8"/><path d="M1474 1334.8L1490 1345L1510 1341.3M1490 1345L1490 1409"/><path d="M1474 1350.8L1490 1361L1510 1357.3M1474 1366.8L1490 1377L1510 1373.3M1474 1382.8L1490 1393L1510 1389.3" fill="none"/>
<polygon points="1610,1347.5 1655,1339.1 1692,1362.6 1692,1404.6 1647,1413 1610,1389.5"/><path d="M1610 1347.5L1647 1371L1692 1362.6M1647 1371L1647 1413"/><polygon points="1673,1378.1 1678,1377.2 1678,1391.2 1673,1392.1" stroke-width="2.4"/>
<polygon points="1496,1357.8 1516,1354.1 1532,1364.3 1532,1412.3 1512,1416 1496,1405.8"/><path d="M1496 1357.8L1512 1368L1532 1364.3M1512 1368L1512 1416"/><path d="M1496 1373.8L1512 1384L1532 1380.3M1496 1389.8L1512 1400L1532 1396.3" fill="none"/>
<polygon points="1462,1374.8 1482,1371.1 1498,1381.3 1498,1413.3 1478,1417 1462,1406.8"/><path d="M1462 1374.8L1478 1385L1498 1381.3M1478 1385L1478 1417"/><path d="M1462 1390.8L1478 1401L1498 1397.3" fill="none"/>
<polygon points="1514,1329.8 1534,1326.1 1550,1336.3 1550,1416.3 1530,1420 1514,1409.8"/><path d="M1514 1329.8L1530 1340L1550 1336.3M1530 1340L1530 1420"/><path d="M1514 1345.8L1530 1356L1550 1352.3M1514 1361.8L1530 1372L1550 1368.3M1514 1377.8L1530 1388L1550 1384.3M1514 1393.8L1530 1404L1550 1400.3" fill="none"/>
<path d="M2585.5 1304L2585.5 1404A72 26 0 0 0 2729.5 1404L2729.5 1304Z" fill="#fff"/><ellipse cx="2657.5" cy="1304" rx="72" ry="26"/><ellipse cx="2657.5" cy="1306" rx="63.4" ry="22.9"/><path d="M2597.1 1316A63.4 22.9 0 0 0 2717.9 1316" fill="none"/>
<rect x="2111" y="1407" width="6.5" height="22"/><rect x="2124" y="1407" width="6.5" height="22"/><path d="M2108 1383Q2092 1383 2078 1373M2133 1383Q2148 1387 2163 1392" fill="none" stroke-width="12"/><path d="M2108 1383Q2092 1383 2078 1373M2133 1383Q2148 1387 2163 1392" fill="none" stroke="#fff" stroke-width="6.5"/><ellipse cx="2076" cy="1372" rx="5.5" ry="5.5"/><ellipse cx="2165" cy="1393" rx="5.5" ry="5.5"/><path d="M2107 1377L2101 1407L2139 1407L2135 1377C2130 1371 2112 1371 2107 1377Z"/><path d="M2122 1375L2122 1407" stroke-width="2.2"/><path d="M2115 1383v.1M2115 1391v.1M2115 1399v.1" stroke-width="3.2" stroke-linecap="round"/><ellipse cx="2119" cy="1364" rx="11.5" ry="14"/><path d="M2116 1351C2126 1347 2132 1355 2131 1373L2123 1376C2124 1367 2122 1357 2116 1351Z" fill="#000" stroke-width="1.5"/>
<polygon points="3208,1388.8 3230,1384.6 3254,1399.9 3254,1423.9 3232,1428 3208,1412.8"/><path d="M3208 1388.8L3232 1404L3254 1399.9M3232 1404L3232 1428"/><path d="M3221 1396L3244 1392" stroke-width="2.4"/>
<polygon points="1766,1336 1841,1324 1848,1368 1774,1382"/><polygon points="1774,1344 1836,1333 1841,1364 1779,1376" stroke-width="2.4"/><polygon points="1754,1390 1851,1368 1878,1394 1880,1422 1786,1446 1756,1424"/><path d="M1754 1390L1782 1414L1878 1394M1782 1414L1786 1446M1784 1430L1879 1408" fill="none" stroke-width="2.6"/><rect x="1796" y="1416" width="20" height="9" rx="3" transform="rotate(-12 1796 1416)"/><path d="M1824 1410h.1M1825 1417h.1M1833 1408h.1M1834 1415h.1M1842 1406h.1M1843 1413h.1M1851 1404h.1M1852 1411h.1" fill="none" stroke-width="3.2"/><ellipse cx="1798" cy="1436" rx="4" ry="3.5"/><ellipse cx="1813" cy="1432.5" rx="4" ry="3.5"/><ellipse cx="1828" cy="1429" rx="4" ry="3.5"/><ellipse cx="1843" cy="1425.5" rx="4" ry="3.5"/><ellipse cx="1858" cy="1422" rx="4" ry="3.5"/>
<path d="M2422.5 1294.5L2422.5 1440A35 10.5 0 0 0 2492.5 1440L2492.5 1294.5Z" fill="#fff"/><ellipse cx="2457.5" cy="1294.5" rx="35" ry="10.5"/><path d="M2424.5 1286.5L2424.5 1294.5A33 10.5 0 0 0 2490.5 1294.5L2490.5 1286.5Z" fill="#fff"/><ellipse cx="2457.5" cy="1286.5" rx="33" ry="10.5"/><path d="M2422.5 1302.5A35 10.5 0 0 0 2492.5 1302.5" fill="none"/><path d="M2422.5 1430A35 10.5 0 0 0 2492.5 1430" fill="none"/>
<path d="M2525 1292L2525 1400A30 9 0 0 0 2585 1400L2585 1292Z" fill="#fff"/><ellipse cx="2555" cy="1292" rx="30" ry="9"/><path d="M2527 1284L2527 1292A28 9 0 0 0 2583 1292L2583 1284Z" fill="#fff"/><ellipse cx="2555" cy="1284" rx="28" ry="9"/><path d="M2525 1300A30 9 0 0 0 2585 1300" fill="none"/><path d="M2525 1390A30 9 0 0 0 2585 1390" fill="none"/>
<path d="M2440 1340h.1M2448 1352h.1M2436 1362h.1" fill="none" stroke-width="2.4"/><ellipse cx="2478" cy="1370" rx="7" ry="9"/><path d="M2470 1380q-4 16 8 22q10 2 8 -12" fill="none" stroke-width="2.6"/>
<path d="M2602.5 1318L2602.5 1444A35 11 0 0 0 2672.5 1444L2672.5 1318Z" fill="#fff"/><ellipse cx="2637.5" cy="1318" rx="35" ry="11"/><path d="M2604.5 1306.5L2604.5 1316.5A33 10 0 0 0 2670.5 1316.5L2670.5 1306.5Z" fill="#fff"/><ellipse cx="2637.5" cy="1306.5" rx="33" ry="10"/><ellipse cx="2640" cy="1380" rx="16" ry="6"/><ellipse cx="2640" cy="1391" rx="16" ry="6"/><ellipse cx="2640" cy="1402" rx="16" ry="6"/><ellipse cx="2640" cy="1413" rx="16" ry="6"/><ellipse cx="2640" cy="1424" rx="16" ry="6"/>
<path d="M2524 1408L2524 1450A16 6.1 0 0 0 2556 1450L2556 1408Z" fill="#fff"/><ellipse cx="2540" cy="1408" rx="16" ry="6.1"/><path d="M2524 1421.9A16 6.1 0 0 0 2556 1421.9" fill="none"/><path d="M2524 1435.7A16 6.1 0 0 0 2556 1435.7" fill="none"/>
<polygon points="2035.8,1389.6 2052.4,1386.4 2067.6,1396.1 2067.6,1455.5 2051,1458.6 2035.8,1448.9"/><path d="M2035.8 1389.6L2051 1399.2L2067.6 1396.1M2051 1399.2L2051 1458.6"/>
<polygon points="2054.4,1403.7 2068.2,1401.1 2081.1,1409.3 2081.1,1458.1 2067.3,1460.7 2054.4,1452.5"/><path d="M2054.4 1403.7L2067.3 1411.9L2081.1 1409.3M2067.3 1411.9L2067.3 1460.7"/>
<path d="M2464 1412L2464 1454A16 6.1 0 0 0 2496 1454L2496 1412Z" fill="#fff"/><ellipse cx="2480" cy="1412" rx="16" ry="6.1"/><path d="M2464 1425.9A16 6.1 0 0 0 2496 1425.9" fill="none"/><path d="M2464 1439.7A16 6.1 0 0 0 2496 1439.7" fill="none"/>
<polygon points="2002.7,1421 2017.9,1418.2 2032.8,1427.6 2032.8,1465.6 2017.6,1468.4 2002.7,1459"/><path d="M2002.7 1421L2017.6 1430.5L2032.8 1427.6M2017.6 1430.5L2017.6 1468.4"/>
<path d="M1897 1296L1897 1470" stroke-width="7"/><path d="M1897 1296V1470" stroke="#fff" stroke-width="2.2"/><ellipse cx="1897.5" cy="1261.5" rx="35" ry="37"/><path d="M1897.5 1238L1897.5 1286" stroke-width="3.5"/><polygon points="1874,1262 1890,1250 1890,1274" fill="#000" stroke-width="1"/><polygon points="1921,1262 1905,1250 1905,1274" fill="#000" stroke-width="1"/>
<path d="M2569 1420L2569 1462A16 6.1 0 0 0 2601 1462L2601 1420Z" fill="#fff"/><ellipse cx="2585" cy="1420" rx="16" ry="6.1"/><path d="M2569 1433.9A16 6.1 0 0 0 2601 1433.9" fill="none"/><path d="M2569 1447.7A16 6.1 0 0 0 2601 1447.7" fill="none"/>
<path d="M2600 1440q40 14 130 6" fill="none" stroke-width="6"/><path d="M2600 1440q40 14 130 6" stroke="#fff" stroke-width="2" fill="none"/>
<polygon points="2070.5,1422 2084,1419.5 2097.9,1428.3 2097.9,1471.8 2084.3,1474.3 2070.5,1465.5"/><path d="M2070.5 1422L2084.3 1430.9L2097.9 1428.3M2084.3 1430.9L2084.3 1474.3"/>
<polygon points="1979.9,1431.1 1998.2,1427.6 2010.5,1435.5 2010.5,1479.5 1992.2,1483 1979.9,1475.2"/><path d="M1979.9 1431.1L1992.2 1438.9L2010.5 1435.5M1992.2 1438.9L1992.2 1483"/>
<polygon points="2002.3,1446.5 2016.9,1443.7 2028.8,1451.3 2028.8,1487.8 2014.2,1490.6 2002.3,1483"/><path d="M2002.3 1446.5L2014.2 1454L2028.8 1451.3M2014.2 1454L2014.2 1490.6"/>
<polygon points="2097.1,1445.2 2114.5,1442 2129.7,1451.6 2129.7,1488.1 2112.2,1491.3 2097.1,1481.7"/><path d="M2097.1 1445.2L2112.2 1454.9L2129.7 1451.6M2112.2 1454.9L2112.2 1491.3"/>
<polygon points="1735,1490 2062,1400 2066,1406 1739,1499" stroke-width="2.4"/><path d="M1737 1497L2064 1407" stroke-width="4"/>
<polygon points="1090.4,1417 1122.3,1406.4 1142,1347.1 1210.4,1336.5 1252.9,1365.4 1259,1406.4 1284.8,1414 1284.8,1455 1268.1,1465.6 1145.1,1486.9 1092.7,1464"/><polygon points="1090.4,1417 1122.3,1409.4 1173.9,1435.2 1142,1444.3"/><polygon points="1090.4,1417 1142,1444.3 1145.1,1486.9 1092.7,1464"/><polygon points="1093.4,1429 1102.4,1433 1103.4,1453 1094.4,1449" stroke-width="2.2"/><path d="M1094.4 1436L1102.4 1440M1094.4 1443L1102.4 1447" fill="none" stroke-width="2"/><polygon points="1132.4,1447 1140.4,1451 1141.4,1475 1133.4,1471" stroke-width="2.2"/><path d="M1132.4 1455L1140.4 1459M1133.4 1463L1141.4 1467" fill="none" stroke-width="2"/><polygon points="1107.4,1443 1118.4,1448 1119.4,1472 1108.4,1467" stroke-width="2.2"/><path d="M1113.4 1447L1114.4 1469" stroke-width="2"/><polygon points="1092.7,1464 1145.1,1486.9 1145.1,1492 1093.4,1469" fill="#000" stroke-width="1.5"/><polygon points="1142,1347.1 1189.1,1377.5 1173.9,1435.2 1122.3,1406.4"/><polygon points="1146.4,1359 1182.4,1382 1170.4,1426 1132.4,1404" stroke-width="2.4"/><polygon points="1134.4,1403.3 1169.4,1391.2 1181.5,1382 1172.4,1426.1" fill="#000" stroke-width="1.5"/><polygon points="1142,1347.1 1210.4,1336.5 1252.9,1365.4 1189.1,1377.5"/><path d="M1189.1 1377.5L1173.9 1435.2"/><polygon points="1193.7,1386.6 1219.4,1383.6 1218,1418.5 1189.1,1426.1" fill="#000" stroke-width="2"/><polygon points="1231.6,1380.6 1248.4,1377.5 1249.9,1412.4 1233.1,1415.5" fill="#000" stroke-width="2"/><polygon points="1188.4,1427 1225.6,1419 1225.6,1458 1187.6,1465.6" stroke-width="2.6"/><polygon points="1210.4,1436 1223.4,1433.5 1223.4,1439 1210.4,1441.5" stroke-width="2"/><polyline points="1259,1406.4 1284.8,1414 1284.8,1455 1268.1,1465.6"/><path d="M1268.1 1422L1268.1 1465.6"/><path d="M1259 1406.4L1268.1 1422"/><path d="M1268.1 1422L1284.8 1414"/><polygon points="1272.4,1427 1280.4,1423 1280.4,1449 1272.4,1454" stroke-width="2"/><path d="M1272.4 1436L1280.4 1432M1272.4 1445L1280.4 1441" fill="none" stroke-width="2"/><ellipse cx="1168.9" cy="1479.5" rx="15" ry="18" transform="rotate(18 1168.9 1479.5)"/><ellipse cx="1173.9" cy="1481.5" rx="14" ry="17.5" stroke-width="3.2" transform="rotate(18 1173.9 1481.5)"/><ellipse cx="1174.9" cy="1481.5" rx="8" ry="11" transform="rotate(18 1174.9 1481.5)"/><ellipse cx="1174.9" cy="1481.5" rx="3" ry="6" fill="#000" stroke-width="1" transform="rotate(18 1174.9 1481.5)"/><ellipse cx="1243.4" cy="1463.6" rx="15" ry="18" transform="rotate(18 1243.4 1463.6)"/><ellipse cx="1248.4" cy="1465.6" rx="14" ry="17.5" stroke-width="3.2" transform="rotate(18 1248.4 1465.6)"/><ellipse cx="1249.4" cy="1465.6" rx="8" ry="11" transform="rotate(18 1249.4 1465.6)"/><ellipse cx="1249.4" cy="1465.6" rx="3" ry="6" fill="#000" stroke-width="1" transform="rotate(18 1249.4 1465.6)"/><rect x="1160.4" y="1324.4" width="8" height="26" rx="2"/><ellipse cx="1219.4" cy="1347.1" rx="10.6" ry="10.6"/>
<path d="M1258 1330l2 6M1264 1342l4 2M1262 1352l2 8" fill="none" stroke-width="2"/>
<polygon points="2033.1,1441.9 2050.3,1438.6 2064,1447.3 2064,1493.3 2046.8,1496.5 2033.1,1487.8"/><path d="M2033.1 1441.9L2046.8 1450.6L2064 1447.3M2046.8 1450.6L2046.8 1496.5"/>
<polygon points="1977.2,1436.9 1995.4,1433.5 2007.9,1441.5 2007.9,1493.9 1989.8,1497.3 1977.2,1489.3"/><path d="M1977.2 1436.9L1989.8 1444.9L2007.9 1441.5M1989.8 1444.9L1989.8 1497.3"/>
<path d="M2446 1448L2446 1490A16 6.1 0 0 0 2478 1490L2478 1448Z" fill="#fff"/><ellipse cx="2462" cy="1448" rx="16" ry="6.1"/><path d="M2446 1461.9A16 6.1 0 0 0 2478 1461.9" fill="none"/><path d="M2446 1475.7A16 6.1 0 0 0 2478 1475.7" fill="none"/>
<path d="M2504 1452L2504 1494A16 6.1 0 0 0 2536 1494L2536 1452Z" fill="#fff"/><ellipse cx="2520" cy="1452" rx="16" ry="6.1"/><path d="M2504 1465.9A16 6.1 0 0 0 2536 1465.9" fill="none"/><path d="M2504 1479.7A16 6.1 0 0 0 2536 1479.7" fill="none"/>
<polygon points="2060.5,1444.1 2076.8,1441.1 2088.9,1448.8 2088.9,1502.3 2072.6,1505.3 2060.5,1497.6"/><path d="M2060.5 1444.1L2072.6 1451.8L2088.9 1448.8M2072.6 1451.8L2072.6 1505.3"/>
<path d="M3777 1496L3777 1502A9 4 0 0 0 3795 1502L3795 1496Z" fill="#fff" stroke-width="2.4"/><ellipse cx="3786" cy="1496" rx="9" ry="4" stroke-width="2.4"/>
<polygon points="2041.7,1427.9 2056.9,1425.1 2069.9,1433.3 2069.9,1505.1 2054.8,1507.9 2041.7,1499.7"/><path d="M2041.7 1427.9L2054.8 1436.2L2069.9 1433.3M2054.8 1436.2L2054.8 1507.9"/>
<path d="M2554 1462L2554 1504A16 6.1 0 0 0 2586 1504L2586 1462Z" fill="#fff"/><ellipse cx="2570" cy="1462" rx="16" ry="6.1"/><path d="M2554 1475.9A16 6.1 0 0 0 2586 1475.9" fill="none"/><path d="M2554 1489.7A16 6.1 0 0 0 2586 1489.7" fill="none"/>
<polygon points="1952.4,1440.3 1968.6,1437.3 1984.4,1447.3 1984.4,1512.6 1968.1,1515.6 1952.4,1505.6"/><path d="M1952.4 1440.3L1968.1 1450.3L1984.4 1447.3M1968.1 1450.3L1968.1 1515.6"/>
<polygon points="2087.3,1453.9 2104,1450.7 2117.4,1459.3 2117.4,1516.8 2100.7,1519.9 2087.3,1511.4"/><path d="M2087.3 1453.9L2100.7 1462.4L2117.4 1459.3M2100.7 1462.4L2100.7 1519.9"/>
<polygon points="1500,1455 1528.7,1445.5 1546.4,1392.1 1599,1382.5 1635,1408.6 1639.5,1473 1635,1500 1549.2,1517.9 1502.1,1497.3"/><polygon points="1500,1455 1528.7,1448.2 1575.2,1471.4 1546.4,1479.6"/><polygon points="1500,1455 1546.4,1479.6 1549.2,1517.9 1502.1,1497.3"/><polygon points="1505.4,1464 1541.4,1482.9 1542.3,1507.2 1506.3,1489.2" stroke-width="2.2"/><polygon points="1546.4,1392.1 1588.8,1419.5 1575.2,1471.4 1528.7,1445.5"/><polygon points="1552.2,1404.6 1581,1423.5 1572,1460.4 1539.6,1443.3" stroke-width="2.4"/><polygon points="1546.8,1437 1571.1,1431.8 1580.1,1425.3 1572.9,1459.5" fill="#000" stroke-width="1.5"/><polygon points="1546.4,1392.1 1599,1382.5 1635,1408.6 1588.8,1419.5"/><polygon points="1563,1393.8 1590,1389.3 1606.2,1401 1579.2,1406.4" stroke-width="2.2"/><polygon points="1593.6,1428 1626,1421.7 1627.8,1456.8 1589.1,1464" stroke-width="2.4"/><polygon points="1600.8,1435.2 1620.6,1430.7 1622.4,1453.2 1597.2,1458.6" fill="#000" stroke-width="1.5"/><path d="M1631.4 1387.5L1631.4 1482" stroke-width="4"/><path d="M1640.4 1392L1640.4 1485.6" stroke-width="4"/><ellipse cx="1570.2" cy="1511" rx="11.7" ry="14.4" transform="rotate(18 1570.2 1511)"/><ellipse cx="1575.2" cy="1513" rx="10.8" ry="14" stroke-width="3.2" transform="rotate(18 1575.2 1513)"/><ellipse cx="1576.2" cy="1513" rx="5.4" ry="8.1" transform="rotate(18 1576.2 1513)"/><ellipse cx="1576.2" cy="1513" rx="2.2" ry="4.5" fill="#000" stroke-width="1" transform="rotate(18 1576.2 1513)"/><ellipse cx="1621" cy="1498" rx="11.7" ry="14.4" transform="rotate(18 1621 1498)"/><ellipse cx="1626" cy="1500" rx="10.8" ry="14" stroke-width="3.2" transform="rotate(18 1626 1500)"/><ellipse cx="1627" cy="1500" rx="5.4" ry="8.1" transform="rotate(18 1627 1500)"/><ellipse cx="1627" cy="1500" rx="2.2" ry="4.5" fill="#000" stroke-width="1" transform="rotate(18 1627 1500)"/><polygon points="1502.1,1497.3 1549.2,1517.9 1549.2,1522.5 1502.7,1501.8" fill="#000" stroke-width="1.5"/>
<polygon points="2007.9,1447.6 2025.4,1444.3 2041.1,1454.3 2041.1,1520.4 2023.6,1523.6 2007.9,1513.7"/><path d="M2007.9 1447.6L2023.6 1457.6L2041.1 1454.3M2023.6 1457.6L2023.6 1523.6"/>
<polygon points="2042.6,1467.1 2057.9,1464.2 2072.7,1473.6 2072.7,1522.1 2057.4,1525 2042.6,1515.6"/><path d="M2042.6 1467.1L2057.4 1476.4L2072.7 1473.6M2057.4 1476.4L2057.4 1525"/>
<polygon points="1982.3,1482.1 1996.3,1479.5 2011.5,1489.2 2011.5,1529.5 1997.6,1532.1 1982.3,1522.4"/><path d="M1982.3 1482.1L1997.6 1491.8L2011.5 1489.2M1997.6 1491.8L1997.6 1532.1"/>
<polygon points="1965.5,1488.7 1979.9,1486 1994.5,1495.2 1994.5,1532.4 1980,1535.1 1965.5,1525.8"/><path d="M1965.5 1488.7L1980 1497.9L1994.5 1495.2M1980 1497.9L1980 1535.1"/>
<polygon points="2020.7,1458.8 2037.1,1455.7 2050.2,1464 2050.2,1534 2033.7,1537.1 2020.7,1528.8"/><path d="M2020.7 1458.8L2033.7 1467.1L2050.2 1464M2033.7 1467.1L2033.7 1537.1"/>
<polygon points="2051.4,1497.4 2066.2,1494.7 2079.6,1503.1 2079.6,1538.4 2064.8,1541.2 2051.4,1532.7"/><path d="M2051.4 1497.4L2064.8 1505.9L2079.6 1503.1M2064.8 1505.9L2064.8 1541.2"/><path d="M2051.4 1515L2064.8 1523.5L2079.6 1520.8" fill="none"/>
<polygon points="2102.4,1483.2 2116.6,1480.6 2128.7,1488.2 2128.7,1538.8 2114.5,1541.4 2102.4,1533.8"/><path d="M2102.4 1483.2L2114.5 1490.9L2128.7 1488.2M2114.5 1490.9L2114.5 1541.4"/>
<polygon points="1837,1463.9 1894,1453.2 1938,1481.1 1938,1543.1 1881,1553.8 1837,1525.9"/><path d="M1837 1463.9L1881 1491.8L1938 1481.1M1881 1491.8L1881 1553.8"/>
<polygon points="896,1509.8 908,1507.6 924,1517.8 924,1561.8 912,1564 896,1553.8"/><path d="M896 1509.8L912 1520L924 1517.8M912 1520L912 1564"/><path d="M896 1520.8L912 1531L924 1528.8M896 1531.8L912 1542L924 1539.8M896 1542.8L912 1553L924 1550.8" fill="none"/>
<path d="M1387.5 1391.5L1387.5 1586.5A37.5 13 0 0 0 1462.5 1586.5L1462.5 1391.5Z" fill="#fff"/><ellipse cx="1425" cy="1391.5" rx="37.5" ry="13"/><ellipse cx="1425" cy="1500" rx="22" ry="7"/>
<polygon points="1875,1521 1905,1515.3 1935,1534.4 1935,1584.4 1905,1590 1875,1571"/><path d="M1875 1521L1905 1540L1935 1534.4M1905 1540L1905 1590"/>
<polygon points="902,1558.5 922,1554.7 937,1564.3 937,1590.3 917,1594 902,1584.5"/><path d="M902 1558.5L917 1568L937 1564.3M917 1568L917 1594"/>
<polygon points="1911,1539.8 1941,1534.2 1965,1549.4 1965,1589.4 1935,1595 1911,1579.8"/><path d="M1911 1539.8L1935 1555L1965 1549.4M1935 1555L1935 1595"/>
<path d="M3507.5 1788.5Q3510 1782 3535 1776Q3560 1770 3590 1776Q3620 1782 3650 1781Q3680 1780 3695 1802.5Q3710 1825 3715 1831.5Q3720 1838 3705 1843Q3690 1848 3675 1855Q3660 1862 3620 1862Q3580 1862 3567.5 1856Q3555 1850 3550 1840Q3545 1830 3525 1826Q3505 1822 3512.5 1815Q3520 1808 3512.5 1801.5Q3505 1795 3507.5 1788.5Z" stroke-width="2.4"/>
<polygon points="632.1,1440.7 679.6,1431.8 713.1,1453.1 713.1,1553.1 665.6,1562 632.1,1540.7"/><path d="M632.1 1440.7L665.6 1462L713.1 1453.1M665.6 1462L665.6 1562"/><polygon points="695.6,1470.4 701.6,1469.3 701.6,1491.3 695.6,1492.4" stroke-width="2.4"/>
<polygon points="757,1427.2 782,1422.5 799,1433.3 799,1477.3 774,1482 757,1471.2"/><path d="M757 1427.2L774 1438L799 1433.3M774 1438L774 1482"/><path d="M757 1449.2L774 1460L799 1455.3" fill="none"/>
<polygon points="731,1432.2 756,1427.5 773,1438.3 773,1482.3 748,1487 731,1476.2"/><path d="M731 1432.2L748 1443L773 1438.3M748 1443L748 1487"/><path d="M731 1454.2L748 1465L773 1460.3" fill="none"/>
<polygon points="705,1437.2 730,1432.5 747,1443.3 747,1487.3 722,1492 705,1481.2"/><path d="M705 1437.2L722 1448L747 1443.3M722 1448L722 1492"/><path d="M705 1459.2L722 1470L747 1465.3" fill="none"/>
<polygon points="770,1441.2 795,1436.5 812,1447.3 812,1491.3 787,1496 770,1485.2"/><path d="M770 1441.2L787 1452L812 1447.3M787 1452L787 1496"/><path d="M770 1463.2L787 1474L812 1469.3" fill="none"/>
<polygon points="744,1446.2 769,1441.5 786,1452.3 786,1496.3 761,1501 744,1490.2"/><path d="M744 1446.2L761 1457L786 1452.3M761 1457L761 1501"/><path d="M744 1468.2L761 1479L786 1474.3" fill="none"/>
<polygon points="718,1451.2 743,1446.5 760,1457.3 760,1501.3 735,1506 718,1495.2"/><path d="M718 1451.2L735 1462L760 1457.3M735 1462L735 1506"/><path d="M718 1473.2L735 1484L760 1479.3" fill="none"/>
<polygon points="566.7,1472 628.2,1460.5 678.2,1492.3 678.2,1552.3 616.7,1563.8 566.7,1532"/><path d="M566.7 1472L616.7 1503.8L678.2 1492.3M616.7 1503.8L616.7 1563.8"/>
<polygon points="612,1465.2 630,1461.8 647,1472.6 647,1489.6 629,1493 612,1482.2"/><path d="M612 1465.2L629 1476L647 1472.6M629 1476L629 1493"/>
<polygon points="787.3,1480.2 848.8,1468.7 894.8,1497.9 894.8,1560.9 833.3,1572.4 787.3,1543.2"/><path d="M787.3 1480.2L833.3 1509.4L894.8 1497.9M833.3 1509.4L833.3 1572.4"/><polygon points="842.3,1519.7 863.3,1515.8 863.3,1543.8 842.3,1547.7" stroke-width="2.4"/>
<polygon points="717.5,1509.6 786,1496.8 832,1526 832,1583 763.5,1595.8 717.5,1566.6"/><path d="M717.5 1509.6L763.5 1538.8L832 1526M763.5 1538.8L763.5 1595.8"/>
<polygon points="824.5,1575 884.5,1563.8 904.5,1576.5 904.5,1616.5 844.5,1627.7 824.5,1615"/><path d="M824.5 1575L844.5 1587.7L904.5 1576.5M844.5 1587.7L844.5 1627.7"/>
<polygon points="525.7,1498.6 544.7,1495.1 561.7,1505.8 561.7,1557.8 542.7,1561.4 525.7,1550.6"/><path d="M525.7 1498.6L542.7 1509.4L561.7 1505.8M542.7 1509.4L542.7 1561.4"/>
<polygon points="548,1530.4 562,1527.8 574,1535.4 574,1593.4 560,1596 548,1588.4"/><path d="M548 1530.4L560 1538L574 1535.4M560 1538L560 1596"/><path d="M548 1542L560 1549.6L574 1547M548 1553.6L560 1561.2L574 1558.6M548 1565.2L560 1572.8L574 1570.2M548 1576.8L560 1584.4L574 1581.8" fill="none"/>
<polygon points="1940,1558 1966,1553.2 1988,1567.1 1988,1601.1 1962,1606 1940,1592"/><path d="M1940 1558L1962 1572L1988 1567.1M1962 1572L1962 1606"/>
<polygon points="1967,1536.6 1993,1531.7 2011,1543.1 2011,1603.1 1985,1608 1967,1596.6"/><path d="M1967 1536.6L1985 1548L2011 1543.1M1985 1548L1985 1608"/><path d="M1967 1551.6L1985 1563L2011 1558.1M1967 1566.6L1985 1578L2011 1573.1M1967 1581.6L1985 1593L2011 1588.1" fill="none"/>
<polygon points="1964,1573.5 1994,1567.9 2020,1584.4 2020,1608.4 1990,1614 1964,1597.5"/><path d="M1964 1573.5L1990 1590L2020 1584.4M1990 1590L1990 1614"/>
<path d="M1928 1624C1926 1598 1934 1584 1944 1582L1958 1582C1970 1588 1976 1608 1974 1626Z"/><path d="M1952 1584L1953 1624" stroke-width="2.2"/><ellipse cx="1950" cy="1574" rx="11" ry="14"/><path d="M1947 1561C1957 1557 1963 1565 1962 1583L1954 1586C1955 1577 1953 1567 1947 1561Z" fill="#000" stroke-width="1.5"/><polygon points="1958,1626 1980,1632 1984,1626 1962,1620"/>
<polygon points="484.5,1569.9 502.5,1566.6 521.5,1578.6 521.5,1623.6 503.5,1627 484.5,1614.9"/><path d="M484.5 1569.9L503.5 1582L521.5 1578.6M503.5 1582L503.5 1627"/>
<polygon points="1967,1598.6 1989,1594.5 2007,1605.9 2007,1627.9 1985,1632 1967,1620.6"/><path d="M1967 1598.6L1985 1610L2007 1605.9M1985 1610L1985 1632"/>
<polygon points="1842,1564.8 1864,1560.7 1880,1570.9 1880,1634.9 1858,1639 1842,1628.8"/><path d="M1842 1564.8L1858 1575L1880 1570.9M1858 1575L1858 1639"/><path d="M1842 1580.8L1858 1591L1880 1586.9M1842 1596.8L1858 1607L1880 1602.9M1842 1612.8L1858 1623L1880 1618.9" fill="none"/>
<polygon points="3313.5,1514.4 3337.5,1510 3353.5,1520.1 3353.5,1580.1 3329.5,1584.6 3313.5,1574.4"/><path d="M3313.5 1514.4L3329.5 1524.6L3353.5 1520.1M3329.5 1524.6L3329.5 1584.6"/><path d="M3313.5 1529.4L3329.5 1539.6L3353.5 1535.1M3313.5 1544.4L3329.5 1554.6L3353.5 1550.1M3313.5 1559.4L3329.5 1569.6L3353.5 1565.1" fill="none"/>
<polygon points="512,1618 562,1604 615,1640 612,1650 552,1655 512,1628"/><path d="M512 1618L552 1645L612 1640" fill="none" stroke-width="2.6"/><ellipse cx="564" cy="1626" rx="4" ry="4"/><path d="M575 1628v6M583 1627v6M590 1626v6" fill="none" stroke-width="2"/><path d="M590 1644h.1M600 1650h.1M606 1643h.1M598 1638h.1M612 1652h.1M620 1646h.1" fill="none" stroke-width="2.6"/>
<polygon points="973.4,1551 993.4,1547.3 1015.4,1561.3 1015.4,1613.3 995.4,1617 973.4,1603"/><path d="M973.4 1551L995.4 1565L1015.4 1561.3M995.4 1565L995.4 1617"/>
<polygon points="1819,1581.8 1841,1577.7 1857,1587.9 1857,1635.9 1835,1640 1819,1629.8"/><path d="M1819 1581.8L1835 1592L1857 1587.9M1835 1592L1835 1640"/><path d="M1819 1597.8L1835 1608L1857 1603.9M1819 1613.8L1835 1624L1857 1619.9" fill="none"/>
<polygon points="2497,1560 2527.3,1549.9 2546,1493.6 2611,1483.5 2651.4,1511 2657.2,1549.9 2681.7,1557.2 2681.7,1596.1 2665.8,1606.2 2549,1626.4 2499.2,1604.7"/><polygon points="2497,1560 2527.3,1552.8 2576.3,1577.3 2546,1585.9"/><polygon points="2497,1560 2546,1585.9 2549,1626.4 2499.2,1604.7"/><polygon points="2499.8,1571.4 2508.4,1575.2 2509.3,1594.2 2500.8,1590.4" stroke-width="2.2"/><path d="M2500.8 1578L2508.4 1581.8M2500.8 1584.7L2508.4 1588.5" fill="none" stroke-width="2"/><polygon points="2536.9,1588.5 2544.5,1592.3 2545.4,1615.1 2537.8,1611.3" stroke-width="2.2"/><path d="M2536.9 1596.1L2544.5 1599.9M2537.8 1603.7L2545.4 1607.5" fill="none" stroke-width="2"/><polygon points="2513.2,1584.7 2523.6,1589.5 2524.6,1612.2 2514.1,1607.5" stroke-width="2.2"/><path d="M2518.8 1588.5L2519.8 1609.4" stroke-width="2"/><polygon points="2499.2,1604.7 2549,1626.4 2549,1631.2 2499.8,1609.4" fill="#000" stroke-width="1.5"/><polygon points="2546,1493.6 2590.8,1522.5 2576.3,1577.3 2527.3,1549.9"/><polygon points="2550.2,1504.9 2584.4,1526.8 2573,1568.5 2536.9,1547.7" stroke-width="2.4"/><polygon points="2538.8,1547 2572.1,1535.5 2583.5,1526.8 2574.9,1568.6" fill="#000" stroke-width="1.5"/><polygon points="2546,1493.6 2611,1483.5 2651.4,1511 2590.8,1522.5"/><path d="M2590.8 1522.5L2576.3 1577.3"/><polygon points="2595.1,1531.1 2619.6,1528.3 2618.2,1561.4 2590.8,1568.6" fill="#000" stroke-width="2"/><polygon points="2631.1,1525.4 2647.1,1522.5 2648.5,1555.6 2632.6,1558.6" fill="#000" stroke-width="2"/><polygon points="2590.1,1569.5 2625.4,1561.9 2625.4,1599 2589.3,1606.2" stroke-width="2.6"/><polygon points="2611,1578 2623.3,1575.7 2623.3,1580.9 2611,1583.3" stroke-width="2"/><polyline points="2657.2,1549.9 2681.7,1557.2 2681.7,1596.1 2665.8,1606.2"/><path d="M2665.8 1564.8L2665.8 1606.2"/><path d="M2657.2 1549.9L2665.8 1564.8"/><path d="M2665.8 1564.8L2681.7 1557.2"/><polygon points="2669.9,1569.5 2677.5,1565.7 2677.5,1590.4 2669.9,1595.2" stroke-width="2"/><path d="M2669.9 1578L2677.5 1574.2M2669.9 1586.6L2677.5 1582.8" fill="none" stroke-width="2"/><ellipse cx="2571.6" cy="1619.4" rx="14.2" ry="17.1" transform="rotate(18 2571.6 1619.4)"/><ellipse cx="2576.3" cy="1621.3" rx="13.3" ry="16.6" stroke-width="3.2" transform="rotate(18 2576.3 1621.3)"/><ellipse cx="2577.3" cy="1621.3" rx="7.6" ry="10.4" transform="rotate(18 2577.3 1621.3)"/><ellipse cx="2577.3" cy="1621.3" rx="2.8" ry="5.7" fill="#000" stroke-width="1" transform="rotate(18 2577.3 1621.3)"/><ellipse cx="2642.3" cy="1604.3" rx="14.2" ry="17.1" transform="rotate(18 2642.3 1604.3)"/><ellipse cx="2647.1" cy="1606.2" rx="13.3" ry="16.6" stroke-width="3.2" transform="rotate(18 2647.1 1606.2)"/><ellipse cx="2648.1" cy="1606.2" rx="7.6" ry="10.4" transform="rotate(18 2648.1 1606.2)"/><ellipse cx="2648.1" cy="1606.2" rx="2.8" ry="5.7" fill="#000" stroke-width="1" transform="rotate(18 2648.1 1606.2)"/><rect x="2563.5" y="1472" width="7.6" height="24.7" rx="2"/><ellipse cx="2619.6" cy="1493.6" rx="10.1" ry="10.1"/>
<polygon points="3340.8,1525.2 3364.8,1520.7 3380.8,1530.9 3380.8,1575.9 3356.8,1580.3 3340.8,1570.2"/><path d="M3340.8 1525.2L3356.8 1535.3L3380.8 1530.9M3356.8 1535.3L3356.8 1580.3"/><path d="M3340.8 1540.2L3356.8 1550.3L3380.8 1545.9M3340.8 1555.2L3356.8 1565.3L3380.8 1560.9" fill="none"/>
<polygon points="3365.7,1534.6 3389.7,1530.1 3405.7,1540.3 3405.7,1570.3 3381.7,1574.8 3365.7,1564.6"/><path d="M3365.7 1534.6L3381.7 1544.8L3405.7 1540.3M3381.7 1544.8L3381.7 1574.8"/><path d="M3365.7 1549.6L3381.7 1559.8L3405.7 1555.3" fill="none"/>
<polygon points="3386.4,1516.3 3410.4,1511.9 3426.4,1522 3426.4,1567 3402.4,1571.5 3386.4,1561.3"/><path d="M3386.4 1516.3L3402.4 1526.5L3426.4 1522M3402.4 1526.5L3402.4 1571.5"/><path d="M3386.4 1531.3L3402.4 1541.5L3426.4 1537M3386.4 1546.3L3402.4 1556.5L3426.4 1552" fill="none"/>
<polygon points="3415.2,1526 3439.2,1521.5 3455.2,1531.7 3455.2,1561.7 3431.2,1566.2 3415.2,1556"/><path d="M3415.2 1526L3431.2 1536.2L3455.2 1531.7M3431.2 1536.2L3431.2 1566.2"/><path d="M3415.2 1541L3431.2 1551.2L3455.2 1546.7" fill="none"/>
<polygon points="3331.7,1539.8 3355.7,1535.3 3371.7,1545.5 3371.7,1590.5 3347.7,1595 3331.7,1584.8"/><path d="M3331.7 1539.8L3347.7 1550L3371.7 1545.5M3347.7 1550L3347.7 1595"/><path d="M3331.7 1554.8L3347.7 1565L3371.7 1560.5M3331.7 1569.8L3347.7 1580L3371.7 1575.5" fill="none"/>
<polygon points="3357.2,1536.2 3381.2,1531.7 3397.2,1541.9 3397.2,1586.9 3373.2,1591.4 3357.2,1581.2"/><path d="M3357.2 1536.2L3373.2 1546.4L3397.2 1541.9M3373.2 1546.4L3373.2 1591.4"/><path d="M3357.2 1551.2L3373.2 1561.4L3397.2 1556.9M3357.2 1566.2L3373.2 1576.4L3397.2 1571.9" fill="none"/>
<polygon points="3378.9,1546.9 3402.9,1542.4 3418.9,1552.5 3418.9,1582.5 3394.9,1587 3378.9,1576.9"/><path d="M3378.9 1546.9L3394.9 1557L3418.9 1552.5M3394.9 1557L3394.9 1587"/><path d="M3378.9 1561.9L3394.9 1572L3418.9 1567.5" fill="none"/>
<polygon points="3405.7,1541.7 3429.7,1537.2 3445.7,1547.4 3445.7,1577.4 3421.7,1581.9 3405.7,1571.7"/><path d="M3405.7 1541.7L3421.7 1551.9L3445.7 1547.4M3421.7 1551.9L3421.7 1581.9"/><path d="M3405.7 1556.7L3421.7 1566.9L3445.7 1562.4" fill="none"/>
<polygon points="3428.9,1522.2 3452.9,1517.7 3468.9,1527.9 3468.9,1572.9 3444.9,1577.4 3428.9,1567.2"/><path d="M3428.9 1522.2L3444.9 1532.4L3468.9 1527.9M3444.9 1532.4L3444.9 1577.4"/><path d="M3428.9 1537.2L3444.9 1547.4L3468.9 1542.9M3428.9 1552.2L3444.9 1562.4L3468.9 1557.9" fill="none"/>
<polygon points="3345.4,1565.9 3369.4,1561.4 3385.4,1571.6 3385.4,1601.6 3361.4,1606 3345.4,1595.9"/><path d="M3345.4 1565.9L3361.4 1576L3385.4 1571.6M3361.4 1576L3361.4 1606"/><path d="M3345.4 1580.9L3361.4 1591L3385.4 1586.6" fill="none"/>
<polygon points="3374.5,1532.2 3398.5,1527.7 3414.5,1537.9 3414.5,1597.9 3390.5,1602.4 3374.5,1592.2"/><path d="M3374.5 1532.2L3390.5 1542.4L3414.5 1537.9M3390.5 1542.4L3390.5 1602.4"/><path d="M3374.5 1547.2L3390.5 1557.4L3414.5 1552.9M3374.5 1562.2L3390.5 1572.4L3414.5 1567.9M3374.5 1577.2L3390.5 1587.4L3414.5 1582.9" fill="none"/>
<polygon points="3395.4,1527.2 3419.4,1522.7 3435.4,1532.9 3435.4,1592.9 3411.4,1597.3 3395.4,1587.2"/><path d="M3395.4 1527.2L3411.4 1537.3L3435.4 1532.9M3411.4 1537.3L3411.4 1597.3"/><path d="M3395.4 1542.2L3411.4 1552.3L3435.4 1547.9M3395.4 1557.2L3411.4 1567.3L3435.4 1562.9M3395.4 1572.2L3411.4 1582.3L3435.4 1577.9" fill="none"/>
<polygon points="3421.2,1538.2 3445.2,1533.7 3461.2,1543.8 3461.2,1588.8 3437.2,1593.3 3421.2,1583.2"/><path d="M3421.2 1538.2L3437.2 1548.3L3461.2 1543.8M3437.2 1548.3L3437.2 1593.3"/><path d="M3421.2 1553.2L3437.2 1563.3L3461.2 1558.8M3421.2 1568.2L3437.2 1578.3L3461.2 1573.8" fill="none"/>
<polygon points="3446.8,1533.5 3470.8,1529.1 3486.8,1539.2 3486.8,1584.2 3462.8,1588.7 3446.8,1578.5"/><path d="M3446.8 1533.5L3462.8 1543.7L3486.8 1539.2M3462.8 1543.7L3462.8 1588.7"/><path d="M3446.8 1548.5L3462.8 1558.7L3486.8 1554.2M3446.8 1563.5L3462.8 1573.7L3486.8 1569.2" fill="none"/>
<polygon points="1011,1557.7 1064,1547.8 1107,1575.1 1107,1633.1 1054,1643 1011,1615.7"/><path d="M1011 1557.7L1054 1585L1107 1575.1M1054 1585L1054 1643"/><ellipse cx="1090" cy="1590" rx="3" ry="6"/>
<polygon points="913.3,1593.7 968.3,1583.4 1011.3,1610.7 1011.3,1636.7 956.3,1647 913.3,1619.7"/><path d="M913.3 1593.7L956.3 1621L1011.3 1610.7M956.3 1621L956.3 1647"/>
<polygon points="575,1551.7 638,1539.9 681,1567.2 681,1631.2 618,1643 575,1615.7"/><path d="M575 1551.7L618 1579L681 1567.2M618 1579L618 1643"/><polygon points="612,1585.2 582,1566.1 582,1618.1 612,1637.2" fill="#000" stroke-width="2"/><path d="M640 1545q-9 2 -9 15l12 -3q-2 -8 3 -12z" stroke-width="2.5"/>
<polygon points="1856,1601.8 1878,1597.7 1894,1607.9 1894,1655.9 1872,1660 1856,1649.8"/><path d="M1856 1601.8L1872 1612L1894 1607.9M1872 1612L1872 1660"/><path d="M1856 1617.8L1872 1628L1894 1623.9M1856 1633.8L1872 1644L1894 1639.9" fill="none"/>
<polygon points="681,1527.9 695,1525.3 714,1537.4 714,1597.4 700,1600 681,1587.9"/><path d="M681 1527.9L700 1540L714 1537.4M700 1540L700 1600"/><path d="M681 1542.9L700 1555L714 1552.4M681 1557.9L700 1570L714 1567.4M681 1572.9L700 1585L714 1582.4" fill="none"/>
<polygon points="689,1593.9 703,1591.3 722,1603.4 722,1665.4 708,1668 689,1655.9"/><path d="M689 1593.9L708 1606L722 1603.4M708 1606L708 1668"/><path d="M689 1609.4L708 1621.5L722 1618.9M689 1624.9L708 1637L722 1634.4M689 1640.4L708 1652.5L722 1649.9" fill="none"/>
<polygon points="629,1600.3 651,1596.2 671,1608.9 671,1664.9 649,1669 629,1656.3"/><path d="M629 1600.3L649 1613L671 1608.9M649 1613L649 1669"/>
<polygon points="1830,1614.8 1852,1610.7 1868,1620.9 1868,1668.9 1846,1673 1830,1662.8"/><path d="M1830 1614.8L1846 1625L1868 1620.9M1846 1625L1846 1673"/><path d="M1830 1630.8L1846 1641L1868 1636.9M1830 1646.8L1846 1657L1868 1652.9" fill="none"/>
<polygon points="719.6,1576.5 782.6,1564.7 830.6,1595.2 830.6,1662.2 767.6,1674 719.6,1643.5"/><path d="M719.6 1576.5L767.6 1607L830.6 1595.2M767.6 1607L767.6 1674"/>
<rect x="2598.5" y="1653" width="6.5" height="22"/><rect x="2611.5" y="1653" width="6.5" height="22"/><path d="M2595.5 1629Q2579.5 1629 2565.5 1619M2620.5 1629Q2635.5 1633 2650.5 1638" fill="none" stroke-width="12"/><path d="M2595.5 1629Q2579.5 1629 2565.5 1619M2620.5 1629Q2635.5 1633 2650.5 1638" fill="none" stroke="#fff" stroke-width="6.5"/><ellipse cx="2563.5" cy="1618" rx="5.5" ry="5.5"/><ellipse cx="2652.5" cy="1639" rx="5.5" ry="5.5"/><path d="M2594.5 1623L2588.5 1653L2626.5 1653L2622.5 1623C2617.5 1617 2599.5 1617 2594.5 1623Z"/><path d="M2609.5 1621L2609.5 1653" stroke-width="2.2"/><path d="M2602.5 1629v.1M2602.5 1637v.1M2602.5 1645v.1" stroke-width="3.2" stroke-linecap="round"/><ellipse cx="2606.5" cy="1610" rx="11.5" ry="14"/><path d="M2603.5 1597C2613.5 1593 2619.5 1601 2618.5 1619L2610.5 1622C2611.5 1613 2609.5 1603 2603.5 1597Z" fill="#000" stroke-width="1.5"/>
<polygon points="718.5,1630.2 739.5,1626.3 756.5,1637.1 756.5,1679.1 735.5,1683 718.5,1672.2"/><path d="M718.5 1630.2L735.5 1641L756.5 1637.1M735.5 1641L735.5 1683"/><path d="M746 1652L746 1668" stroke-width="2.4"/>
<path d="M2713 1636L2713 1682A17 6.5 0 0 0 2747 1682L2747 1636Z" fill="#fff"/><ellipse cx="2730" cy="1636" rx="17" ry="6.5"/><path d="M2713 1651.2A17 6.5 0 0 0 2747 1651.2" fill="none"/><path d="M2713 1666.4A17 6.5 0 0 0 2747 1666.4" fill="none"/>
<polygon points="795,1613.2 809,1610.6 826,1621.4 826,1685.4 812,1688 795,1677.2"/><path d="M795 1613.2L812 1624L826 1621.4M812 1624L812 1688"/><path d="M795 1626L812 1636.8L826 1634.2M795 1638.8L812 1649.6L826 1647M795 1651.6L812 1662.4L826 1659.8M795 1664.4L812 1675.2L826 1672.6" fill="none"/>
<polygon points="929,1653 941,1650.8 952,1657.8 952,1683.8 940,1686 929,1679"/><path d="M929 1653L940 1660L952 1657.8M940 1660L940 1686"/>
<polygon points="2012,1652 2060,1640 2480,1590 2495,1640 2495,1660 2030,1700 2012,1672"/><path d="M2012 1652L2032 1680L2495 1640M2032 1680V1700" fill="none" stroke-width="2.6"/><path d="M2140 1684L2350 1664" stroke-width="6"/><ellipse cx="2472" cy="1670" rx="12" ry="13"/><ellipse cx="2474" cy="1671" rx="7" ry="8"/><ellipse cx="2474" cy="1671" rx="2.5" ry="3" fill="#000"/><ellipse cx="2446" cy="1676" rx="10" ry="11"/>
<polygon points="2185.1,1384.4 2255.1,1371.3 2319.7,1412.3 2319.7,1664.3 2249.7,1677.4 2185.1,1636.4"/><path d="M2185.1 1384.4L2249.7 1425.4L2319.7 1412.3M2249.7 1425.4L2249.7 1677.4"/><polygon points="2267.2,1440.4 2298.7,1434.5 2298.7,1465.9 2267.2,1471.8"/><path d="M2281.2 1456L2305.7 1473.3" stroke-width="7"/><path d="M2283.2 1457.6L2305.7 1473.3" stroke="#fff" stroke-width="2.5"/><path d="M2185.1 1452.4L2249.7 1493.4L2319.7 1480.3" fill="none"/><path d="M2185.1 1458.4L2249.7 1499.4L2319.7 1486.3" fill="none" stroke-width="5"/><path d="M2270.7 1520.9h7v14h5v-10h6v28h-7v-10h-5v-4h-6z"/><path d="M2185.1 1540.4L2249.7 1581.4L2319.7 1568.3" fill="none"/><path d="M2185.1 1546.4L2249.7 1587.4L2319.7 1574.3" fill="none" stroke-width="5"/><polygon points="2265.1,1599.9 2304.3,1592.6 2304.3,1641.7 2265.1,1649"/><text transform="matrix(1 -0.187 0 1 2274.9 1639.9)" font-family="'Liberation Sans',sans-serif" font-weight="bold" font-size="41.9" fill="#000" stroke="none">?</text>
<polygon points="2322.3,1451 2390.3,1438.3 2424.3,1459.9 2424.3,1642.9 2356.3,1655.6 2322.3,1634"/><path d="M2322.3 1451L2356.3 1472.6L2424.3 1459.9M2356.3 1472.6L2356.3 1655.6"/><polygon points="2384.9,1489.9 2401.2,1486.9 2401.2,1528.1 2384.9,1531.1"/><path d="M2322.3 1549L2356.3 1570.6L2424.3 1557.9" fill="none"/><path d="M2322.3 1555L2356.3 1576.6L2424.3 1563.9" fill="none" stroke-width="5"/><polygon points="2398.5,1587.7 2405.3,1586.4 2405.3,1622.4 2398.5,1623.7"/><path d="M2398.5 1607.7L2405.3 1606.4"/>
<polygon points="652,1622.9 672,1619.2 691,1631.3 691,1687.3 671,1691 652,1678.9"/><path d="M652 1622.9L671 1635L691 1631.3M671 1635L671 1691"/>
<polygon points="2071.4,1568 2144.4,1554.4 2200.4,1589.9 2200.4,1659.9 2127.4,1673.6 2071.4,1638"/><path d="M2071.4 1568L2127.4 1603.6L2200.4 1589.9M2127.4 1603.6L2127.4 1673.6"/><polygon points="2137.4,1611.7 2189.4,1602 2189.4,1650 2137.4,1659.7" stroke-width="2.6"/><polygon points="2145.4,1618.2 2179.4,1611.9 2179.4,1621.9 2167.4,1624.1 2167.4,1644.1 2155.4,1646.4 2155.4,1626.4 2145.4,1628.2" stroke-width="2.4"/><polygon points="2177.4,1636.2 2185.4,1634.8 2185.4,1646.8 2177.4,1648.2" fill="#000" stroke-width="1"/>
<path d="M2633 1642L2633 1688A17 6.5 0 0 0 2667 1688L2667 1642Z" fill="#fff"/><ellipse cx="2650" cy="1642" rx="17" ry="6.5"/><path d="M2633 1657.2A17 6.5 0 0 0 2667 1657.2" fill="none"/><path d="M2633 1672.4A17 6.5 0 0 0 2667 1672.4" fill="none"/>
<polygon points="764,1658.8 786,1654.7 802,1664.9 802,1694.9 780,1699 764,1688.8"/><path d="M764 1658.8L780 1669L802 1664.9M780 1669L780 1699"/>
<polygon points="963,1620 981,1616.7 1003,1630.6 1003,1692.6 985,1696 963,1682"/><path d="M963 1620L985 1634L1003 1630.6M985 1634L985 1696"/><path d="M963 1632.4L985 1646.4L1003 1643M963 1644.8L985 1658.8L1003 1655.4M963 1657.2L985 1671.2L1003 1667.8M963 1669.6L985 1683.6L1003 1680.2" fill="none"/>
<path d="M1240 1567L1240 1667A78 28 0 0 0 1396 1667L1396 1567Z" fill="#fff"/><ellipse cx="1318" cy="1567" rx="78" ry="28"/><ellipse cx="1318" cy="1569" rx="68.6" ry="24.6"/><path d="M1252.4 1579A68.6 24.6 0 0 0 1383.6 1579" fill="none"/>
<polygon points="671,1673.2 690,1669.7 707,1680.4 707,1700.4 688,1704 671,1693.2"/><path d="M671 1673.2L688 1684L707 1680.4M688 1684L688 1704"/>
<polygon points="1100,1635.3 1114,1632.7 1134,1645.4 1134,1705.4 1120,1708 1100,1695.3"/><path d="M1100 1635.3L1120 1648L1134 1645.4M1120 1648L1120 1708"/><path d="M1100 1650.3L1120 1663L1134 1660.4M1100 1665.3L1120 1678L1134 1675.4M1100 1680.3L1120 1693L1134 1690.4" fill="none"/>
<path d="M2683 1664L2683 1710A17 6.5 0 0 0 2717 1710L2717 1664Z" fill="#fff"/><ellipse cx="2700" cy="1664" rx="17" ry="6.5"/><path d="M2683 1679.2A17 6.5 0 0 0 2717 1679.2" fill="none"/><path d="M2683 1694.4A17 6.5 0 0 0 2717 1694.4" fill="none"/>
<rect x="1243.5" y="1695.5" width="6.5" height="22"/><rect x="1256.5" y="1695.5" width="6.5" height="22"/><path d="M1240.5 1671.5Q1226.5 1663.5 1225.5 1641.5M1265.5 1671.5Q1278.5 1663.5 1279.5 1641.5" fill="none" stroke-width="12"/><path d="M1240.5 1671.5Q1226.5 1663.5 1225.5 1641.5M1265.5 1671.5Q1278.5 1663.5 1279.5 1641.5" fill="none" stroke="#fff" stroke-width="6.5"/><ellipse cx="1225.5" cy="1638.5" rx="5.5" ry="5.5"/><ellipse cx="1279.5" cy="1638.5" rx="5.5" ry="5.5"/><path d="M1239.5 1665.5L1233.5 1695.5L1271.5 1695.5L1267.5 1665.5C1262.5 1659.5 1244.5 1659.5 1239.5 1665.5Z"/><path d="M1254.5 1663.5L1254.5 1695.5" stroke-width="2.2"/><path d="M1247.5 1671.5v.1M1247.5 1679.5v.1M1247.5 1687.5v.1" stroke-width="3.2" stroke-linecap="round"/><ellipse cx="1251.5" cy="1652.5" rx="11.5" ry="14"/><path d="M1248.5 1639.5C1258.5 1635.5 1264.5 1643.5 1263.5 1661.5L1255.5 1664.5C1256.5 1655.5 1254.5 1645.5 1248.5 1639.5Z" fill="#000" stroke-width="1.5"/>
<polygon points="1012.3,1630.8 1050.3,1623.7 1096.3,1652.9 1096.3,1716.9 1058.3,1724 1012.3,1694.8"/><path d="M1012.3 1630.8L1058.3 1660L1096.3 1652.9M1058.3 1660L1058.3 1724"/><path d="M1075 1626q-9 2 -9 15l12 -3q-2 -8 3 -12z" stroke-width="2.5"/>
<polygon points="957,1668.6 973,1665.6 991,1677 991,1723 975,1726 957,1714.6"/><path d="M957 1668.6L975 1680L991 1677M975 1680L975 1726"/><path d="M957 1680.1L975 1691.5L991 1688.5M957 1691.6L975 1703L991 1700M957 1703.1L975 1714.5L991 1711.5" fill="none"/>
<path d="M2745 1676L2745 1722A17 6.5 0 0 0 2779 1722L2779 1676Z" fill="#fff"/><ellipse cx="2762" cy="1676" rx="17" ry="6.5"/><path d="M2745 1691.2A17 6.5 0 0 0 2779 1691.2" fill="none"/><path d="M2745 1706.4A17 6.5 0 0 0 2779 1706.4" fill="none"/>
<path d="M998 1722q6 12 14 4" fill="none" stroke-width="2.4"/><path d="M1010 1700l-6 10m10 -8l-5 8" fill="none" stroke-width="1.6"/><polygon points="997,1650 1004,1653 1002,1716 996,1716" fill="#000" stroke-width="1"/>
<polygon points="2735,1446.8 2837.5,1427.7 2927.5,1484.8 2927.5,1710.8 2825,1730 2735,1672.8" stroke-width="2.6"/><path d="M2735 1446.8L2825 1504L2927.5 1484.8M2825 1504L2825 1730" stroke-width="2.6"/><ellipse cx="2847.5" cy="1521.5" rx="7" ry="8"/><ellipse cx="2846.5" cy="1522" rx="4.5" ry="5.5" fill="#000"/><ellipse cx="2877.5" cy="1514" rx="7" ry="8"/><ellipse cx="2876.5" cy="1514.5" rx="4.5" ry="5.5" fill="#000"/><ellipse cx="2905" cy="1506.5" rx="7" ry="8"/><ellipse cx="2904" cy="1507" rx="4.5" ry="5.5" fill="#000"/>
<polygon points="1076,1671.3 1094,1667.9 1114,1680.6 1114,1726.6 1096,1730 1076,1717.3"/><path d="M1076 1671.3L1096 1684L1114 1680.6M1096 1684L1096 1730"/><path d="M1076 1686.6L1096 1699.3L1114 1696M1076 1702L1096 1714.7L1114 1711.3" fill="none"/>
<polygon points="1495,1499.6 1667,1467.4 1822,1565.8 1822,1697.8 1650,1730 1495,1631.6" stroke-width="2.8"/><path d="M1495 1499.6L1650 1598L1822 1565.8M1650 1598L1650 1730" stroke-width="2.8"/><polygon points="1658,1604.5 1814,1575.3 1814,1691.3 1658,1720.5"/><path d="M1658 1612.8L1814 1583.6M1658 1621.3L1814 1592.2M1658 1629.9L1814 1600.7M1658 1638.4L1814 1609.2M1658 1647L1814 1617.8M1658 1655.5L1814 1626.3M1658 1664L1814 1634.9M1658 1672.6L1814 1643.4M1658 1681.1L1814 1652M1658 1689.7L1814 1660.5M1658 1698.2L1814 1669.1" fill="none"/><rect x="1744.6" y="1694.3" width="30" height="7" rx="3" transform="rotate(-10 1744.6 1694.3)"/><path d="M1658 1704.5L1814 1675.3"/>
<polygon points="1393,1551.7 1498,1532 1530,1552.4 1530,1677.4 1425,1697 1393,1676.7"/><path d="M1393 1551.7L1425 1572L1530 1552.4M1425 1572L1425 1697"/><polygon points="1432,1577.7 1524,1560.5 1524,1672.5 1432,1689.7" stroke-width="2.6"/><path d="M1439 1604.7L1524 1588.8" stroke-width="2.2"/><path d="M1439 1581.4L1439 1604.7" stroke-width="2.2"/><path d="M1445 1585.4L1445 1598.7A10 3.5 0 0 0 1465 1598.7L1465 1585.4Z" fill="#fff" stroke-width="2.4"/><ellipse cx="1455" cy="1585.4" rx="10" ry="3.5" stroke-width="2.4"/><path d="M1445 1590.4A10 3.5 0 0 0 1465 1590.4" fill="none" stroke-width="2.2"/><path d="M1468 1581.1L1468 1594.4A10 3.5 0 0 0 1488 1594.4L1488 1581.1Z" fill="#fff" stroke-width="2.4"/><ellipse cx="1478" cy="1581.1" rx="10" ry="3.5" stroke-width="2.4"/><path d="M1468 1586.1A10 3.5 0 0 0 1488 1586.1" fill="none" stroke-width="2.2"/><path d="M1491 1576.8L1491 1590.1A10 3.5 0 0 0 1511 1590.1L1511 1576.8Z" fill="#fff" stroke-width="2.4"/><ellipse cx="1501" cy="1576.8" rx="10" ry="3.5" stroke-width="2.4"/><path d="M1491 1581.8A10 3.5 0 0 0 1511 1581.8" fill="none" stroke-width="2.2"/><path d="M1432 1615L1524 1597.8"/><path d="M1432 1620L1524 1602.8"/><path d="M1439 1642L1524 1626.2" stroke-width="2.2"/><path d="M1439 1618.7L1439 1642" stroke-width="2.2"/><path d="M1468 1618.4L1468 1631.8A10 3.5 0 0 0 1488 1631.8L1488 1618.4Z" fill="#fff" stroke-width="2.4"/><ellipse cx="1478" cy="1618.4" rx="10" ry="3.5" stroke-width="2.4"/><path d="M1468 1623.4A10 3.5 0 0 0 1488 1623.4" fill="none" stroke-width="2.2"/><path d="M1491 1614.1L1491 1627.5A10 3.5 0 0 0 1511 1627.5L1511 1614.1Z" fill="#fff" stroke-width="2.4"/><ellipse cx="1501" cy="1614.1" rx="10" ry="3.5" stroke-width="2.4"/><path d="M1491 1619.1A10 3.5 0 0 0 1511 1619.1" fill="none" stroke-width="2.2"/><path d="M1432 1652.4L1524 1635.2"/><path d="M1432 1657.4L1524 1640.2"/><path d="M1439 1679.4L1524 1663.5" stroke-width="2.2"/><path d="M1439 1656L1439 1679.4" stroke-width="2.2"/><path d="M1445 1660.1L1445 1673.4A10 3.5 0 0 0 1465 1673.4L1465 1660.1Z" fill="#fff" stroke-width="2.4"/><ellipse cx="1455" cy="1660.1" rx="10" ry="3.5" stroke-width="2.4"/><path d="M1445 1665.1A10 3.5 0 0 0 1465 1665.1" fill="none" stroke-width="2.2"/><path d="M1491 1651.5L1491 1664.8A10 3.5 0 0 0 1511 1664.8L1511 1651.5Z" fill="#fff" stroke-width="2.4"/><ellipse cx="1501" cy="1651.5" rx="10" ry="3.5" stroke-width="2.4"/><path d="M1491 1656.5A10 3.5 0 0 0 1511 1656.5" fill="none" stroke-width="2.2"/>
<polygon points="2912.5,1647.3 2967.5,1637.1 3015,1667.2 3015,1729.2 2960,1739.5 2912.5,1709.3"/><path d="M2912.5 1647.3L2960 1677.5L3015 1667.2M2960 1677.5L2960 1739.5"/><path d="M2912.5 1668L2960 1698.2L3015 1687.9M2978.3 1736.1L2978.3 1674.1L2930.8 1643.9M2944.2 1729.4L2944.2 1667.4L2999.2 1657.2M2912.5 1688.7L2960 1718.8L3015 1708.5M2996.7 1732.6L2996.7 1670.6L2949.2 1640.5M2928.3 1719.4L2928.3 1657.4L2983.3 1647.1" fill="none"/>
<polygon points="1124,1701.8 1140,1698.8 1156,1709 1156,1737 1140,1740 1124,1729.8"/><path d="M1124 1701.8L1140 1712L1156 1709M1140 1712L1140 1740"/><path d="M1124 1708.8L1140 1719L1156 1716M1124 1715.8L1140 1726L1156 1723M1124 1722.8L1140 1733L1156 1730" fill="none"/>
<path d="M2623 1690L2623 1736A17 6.5 0 0 0 2657 1736L2657 1690Z" fill="#fff"/><ellipse cx="2640" cy="1690" rx="17" ry="6.5"/><path d="M2623 1705.2A17 6.5 0 0 0 2657 1705.2" fill="none"/><path d="M2623 1720.4A17 6.5 0 0 0 2657 1720.4" fill="none"/>
<polygon points="1148,1738 1166,1728 1172,1742 1154,1752" stroke-width="2.4"/>
<polygon points="1532.5,1668 1592.5,1656.8 1635,1683.8 1635,1735.8 1575,1747 1532.5,1720"/><path d="M1532.5 1668L1575 1695L1635 1683.8M1575 1695L1575 1747"/><polygon points="1609,1704.6 1615,1703.5 1615,1717.5 1609,1718.6" stroke-width="2.4"/>
<rect x="2506" y="1733" width="6.5" height="22"/><rect x="2519" y="1733" width="6.5" height="22"/><path d="M2503 1709Q2487 1709 2473 1699M2528 1709Q2543 1713 2558 1718" fill="none" stroke-width="12"/><path d="M2503 1709Q2487 1709 2473 1699M2528 1709Q2543 1713 2558 1718" fill="none" stroke="#fff" stroke-width="6.5"/><ellipse cx="2471" cy="1698" rx="5.5" ry="5.5"/><ellipse cx="2560" cy="1719" rx="5.5" ry="5.5"/><path d="M2502 1703L2496 1733L2534 1733L2530 1703C2525 1697 2507 1697 2502 1703Z"/><path d="M2517 1701L2517 1733" stroke-width="2.2"/><path d="M2510 1709v.1M2510 1717v.1M2510 1725v.1" stroke-width="3.2" stroke-linecap="round"/><ellipse cx="2514" cy="1690" rx="11.5" ry="14"/><path d="M2511 1677C2521 1673 2527 1681 2526 1699L2518 1702C2519 1693 2517 1683 2511 1677Z" fill="#000" stroke-width="1.5"/><rect x="2504" y="1667" width="21" height="10"/>
<path d="M2671 1710L2671 1756A17 6.5 0 0 0 2705 1756L2705 1710Z" fill="#fff"/><ellipse cx="2688" cy="1710" rx="17" ry="6.5"/><path d="M2671 1725.2A17 6.5 0 0 0 2705 1725.2" fill="none"/><path d="M2671 1740.4A17 6.5 0 0 0 2705 1740.4" fill="none"/>
<rect x="1511" y="1740" width="6.5" height="22"/><rect x="1524" y="1740" width="6.5" height="22"/><path d="M1505 1712L1499 1734M1536 1712L1542 1734" fill="none" stroke-width="7"/><path d="M1505 1712L1499 1734M1536 1712L1542 1734" stroke="#fff" stroke-width="2.2"/><path d="M1507 1710L1501 1740L1539 1740L1535 1710C1530 1704 1512 1704 1507 1710Z"/><path d="M1522 1708L1522 1740" stroke-width="2.2"/><path d="M1515 1716v.1M1515 1724v.1M1515 1732v.1" stroke-width="3.2" stroke-linecap="round"/><ellipse cx="1519" cy="1697" rx="11.5" ry="14"/><path d="M1516 1684C1526 1680 1532 1688 1531 1706L1523 1709C1524 1700 1522 1690 1516 1684Z" fill="#000" stroke-width="1.5"/>
<path d="M2728 1722L2728 1768A17 6.5 0 0 0 2762 1768L2762 1722Z" fill="#fff"/><ellipse cx="2745" cy="1722" rx="17" ry="6.5"/><path d="M2728 1737.2A17 6.5 0 0 0 2762 1737.2" fill="none"/><path d="M2728 1752.4A17 6.5 0 0 0 2762 1752.4" fill="none"/>
<rect x="3550" y="1712" width="20" height="9"/>
<path d="M3538 1773C3536 1747 3544 1733 3554 1731L3568 1731C3580 1737 3586 1757 3584 1775Z"/><path d="M3562 1733L3563 1773" stroke-width="2.2"/><ellipse cx="3560" cy="1723" rx="11" ry="14"/><path d="M3557 1710C3567 1706 3573 1714 3572 1732L3564 1735C3565 1726 3563 1716 3557 1710Z" fill="#000" stroke-width="1.5"/><polygon points="3568,1775 3590,1781 3594,1775 3572,1769"/>
<path d="M2350.5 1685.5L2350.5 1790A37 11.1 0 0 0 2424.5 1790L2424.5 1685.5Z" fill="#fff"/><ellipse cx="2387.5" cy="1685.5" rx="37" ry="11.1"/><path d="M2352.5 1677.5L2352.5 1685.5A35 11.1 0 0 0 2422.5 1685.5L2422.5 1677.5Z" fill="#fff"/><ellipse cx="2387.5" cy="1677.5" rx="35" ry="11.1"/><path d="M2350.5 1693.5A37 11.1 0 0 0 2424.5 1693.5" fill="none"/><path d="M2350.5 1780A37 11.1 0 0 0 2424.5 1780" fill="none"/>
<path d="M2432 1675L2432 1795" stroke-width="8"/><path d="M2432 1675V1795" stroke="#fff" stroke-width="2.5"/>
<polygon points="612,1748 686,1733 688,1786 614,1802"/><polygon points="618,1752 682,1739 684,1782 620,1796" stroke-width="2.4"/><polygon points="626,1758 676,1747 678,1778 628,1790" stroke-width="2.4"/><path d="M632 1802L672 1794" stroke-width="4"/>
<polygon points="824.8,1616.4 891.8,1603.9 947.8,1639.5 947.8,1814.5 880.8,1827 824.8,1791.4"/><path d="M824.8 1616.4L880.8 1652L947.8 1639.5M880.8 1652L880.8 1827"/><polygon points="908.9,1668.3 925,1665.3 925,1704.5 908.9,1707.5"/><path d="M824.8 1709.4L880.8 1745L947.8 1732.5" fill="none"/><path d="M824.8 1715.4L880.8 1751L947.8 1738.5" fill="none" stroke-width="5"/><polygon points="922.3,1761.5 929,1760.2 929,1794.9 922.3,1796.1"/><path d="M922.3 1780.7L929 1779.5"/>
<path d="M3656 1765L3656 1820A21 8 0 0 0 3698 1820L3698 1765Z" fill="#fff"/><ellipse cx="3677" cy="1765" rx="21" ry="8"/><path d="M3656 1783.2A21 8 0 0 0 3698 1783.2" fill="none"/><path d="M3656 1801.3A21 8 0 0 0 3698 1801.3" fill="none"/>
<path d="M2763 1778C2755 1798 2755 1818 2763 1834A26 10 0 0 0 2811 1834C2819 1818 2819 1798 2811 1778Z"/><ellipse cx="2787" cy="1778" rx="24" ry="10"/><ellipse cx="2787" cy="1779" rx="15" ry="5.5" fill="#000"/><path d="M2771 1790v44M2782 1792v48M2793 1792v48M2804 1790v44" fill="none" stroke-width="2.6"/><path d="M2758 1796A29 10 0 0 0 2816 1796" fill="none"/><path d="M2758 1822A29 10 0 0 0 2816 1822" fill="none"/>
<polygon points="2573.4,1757 2593.4,1753.3 2615.4,1767.3 2615.4,1819.3 2595.4,1823 2573.4,1809"/><path d="M2573.4 1757L2595.4 1771L2615.4 1767.3M2595.4 1771L2595.4 1823"/>
<polygon points="3110,1560.3 3182.5,1546.8 3245,1586.4 3245,1833.4 3172.5,1847 3110,1807.3"/><path d="M3110 1560.3L3172.5 1600L3245 1586.4M3172.5 1600L3172.5 1847"/><polygon points="3190.6,1615.9 3223.2,1609.8 3223.2,1642.9 3190.6,1649"/><path d="M3205.1 1632.4L3230.5 1650.8" stroke-width="7"/><path d="M3207.1 1634L3230.5 1650.8" stroke="#fff" stroke-width="2.5"/><path d="M3110 1632.3L3172.5 1672L3245 1658.4" fill="none"/><path d="M3110 1638.3L3172.5 1678L3245 1664.4" fill="none" stroke-width="5"/><path d="M3194.2 1698.4h7v14h5v-10h6v28h-7v-10h-5v-4h-6z"/><path d="M3110 1717.3L3172.5 1757L3245 1743.4" fill="none"/><path d="M3110 1723.3L3172.5 1763L3245 1749.4" fill="none" stroke-width="5"/><polygon points="3138.1,1765.7 3122.5,1755.8 3122.5,1794 3138.1,1803.9"/>
<polygon points="2611,1763.7 2664,1753.8 2707,1781.1 2707,1839.1 2654,1849 2611,1821.7"/><path d="M2611 1763.7L2654 1791L2707 1781.1M2654 1791L2654 1849"/><ellipse cx="2690" cy="1796" rx="3" ry="6"/>
<polygon points="2513.3,1799.7 2568.3,1789.4 2611.3,1816.7 2611.3,1842.7 2556.3,1853 2513.3,1825.7"/><path d="M2513.3 1799.7L2556.3 1827L2611.3 1816.7M2556.3 1827L2556.3 1853"/>
<rect x="1858.5" y="1853" width="6.5" height="22"/><rect x="1871.5" y="1853" width="6.5" height="22"/><path d="M1855.5 1829Q1839.5 1829 1825.5 1819M1880.5 1829Q1895.5 1833 1910.5 1838" fill="none" stroke-width="12"/><path d="M1855.5 1829Q1839.5 1829 1825.5 1819M1880.5 1829Q1895.5 1833 1910.5 1838" fill="none" stroke="#fff" stroke-width="6.5"/><ellipse cx="1823.5" cy="1818" rx="5.5" ry="5.5"/><ellipse cx="1912.5" cy="1839" rx="5.5" ry="5.5"/><path d="M1854.5 1823L1848.5 1853L1886.5 1853L1882.5 1823C1877.5 1817 1859.5 1817 1854.5 1823Z"/><path d="M1869.5 1821L1869.5 1853" stroke-width="2.2"/><path d="M1862.5 1829v.1M1862.5 1837v.1M1862.5 1845v.1" stroke-width="3.2" stroke-linecap="round"/><ellipse cx="1866.5" cy="1810" rx="11.5" ry="14"/><path d="M1863.5 1797C1873.5 1793 1879.5 1801 1878.5 1819L1870.5 1822C1871.5 1813 1869.5 1803 1863.5 1797Z" fill="#000" stroke-width="1.5"/><rect x="1856.5" y="1787" width="21" height="10"/>
<rect x="446" y="1858" width="6.5" height="22"/><rect x="459" y="1858" width="6.5" height="22"/><path d="M443 1834Q427 1834 413 1824M468 1834Q483 1838 498 1843" fill="none" stroke-width="12"/><path d="M443 1834Q427 1834 413 1824M468 1834Q483 1838 498 1843" fill="none" stroke="#fff" stroke-width="6.5"/><ellipse cx="411" cy="1823" rx="5.5" ry="5.5"/><ellipse cx="500" cy="1844" rx="5.5" ry="5.5"/><path d="M442 1828L436 1858L474 1858L470 1828C465 1822 447 1822 442 1828Z"/><path d="M457 1826L457 1858" stroke-width="2.2"/><path d="M450 1834v.1M450 1842v.1M450 1850v.1" stroke-width="3.2" stroke-linecap="round"/><ellipse cx="454" cy="1815" rx="11.5" ry="14"/><path d="M451 1802C461 1798 467 1806 466 1824L458 1827C459 1818 457 1808 451 1802Z" fill="#000" stroke-width="1.5"/><rect x="444" y="1792" width="21" height="10"/>
<polygon points="2529,1859 2541,1856.8 2552,1863.8 2552,1889.8 2540,1892 2529,1885"/><path d="M2529 1859L2540 1866L2552 1863.8M2540 1866L2540 1892"/>
<polygon points="1718.4,1811 1738.4,1807.3 1760.4,1821.3 1760.4,1873.3 1740.4,1877 1718.4,1863"/><path d="M1718.4 1811L1740.4 1825L1760.4 1821.3M1740.4 1825L1740.4 1877"/>
<polygon points="1756,1817.7 1809,1807.8 1852,1835.1 1852,1893.1 1799,1903 1756,1875.7"/><path d="M1756 1817.7L1799 1845L1852 1835.1M1799 1845L1799 1903"/><ellipse cx="1835" cy="1850" rx="3" ry="6"/>
<polygon points="2563,1826 2581,1822.7 2603,1836.6 2603,1898.6 2585,1902 2563,1888"/><path d="M2563 1826L2585 1840L2603 1836.6M2585 1840L2585 1902"/><path d="M2563 1838.4L2585 1852.4L2603 1849M2563 1850.8L2585 1864.8L2603 1861.4M2563 1863.2L2585 1877.2L2603 1873.8M2563 1875.6L2585 1889.6L2603 1886.2" fill="none"/>
<polygon points="1658.3,1853.7 1713.3,1843.4 1756.3,1870.7 1756.3,1896.7 1701.3,1907 1658.3,1879.7"/><path d="M1658.3 1853.7L1701.3 1881L1756.3 1870.7M1701.3 1881L1701.3 1907"/>
<polygon points="2700,1841.3 2714,1838.7 2734,1851.4 2734,1911.4 2720,1914 2700,1901.3"/><path d="M2700 1841.3L2720 1854L2734 1851.4M2720 1854L2720 1914"/><path d="M2700 1856.3L2720 1869L2734 1866.4M2700 1871.3L2720 1884L2734 1881.4M2700 1886.3L2720 1899L2734 1896.4" fill="none"/>
<polygon points="1915,1715.1 1972.5,1704.3 2027.5,1739.2 2027.5,1909.2 1970,1920 1915,1885.1"/><path d="M1915 1715.1L1970 1750L2027.5 1739.2M1970 1750L1970 1920"/><polygon points="1994.2,1763.1 2008,1760.5 2008,1792.5 1994.2,1795.1"/><path d="M1915 1790.1L1970 1825L2027.5 1814.2" fill="none"/><path d="M1915 1796.1L1970 1831L2027.5 1820.2" fill="none" stroke-width="5"/><polygon points="2005.7,1845.8 2011.4,1844.8 2011.4,1885.3 2005.7,1886.3"/><path d="M2005.7 1868.3L2011.4 1867.3"/>
<polygon points="2612.3,1836.8 2650.3,1829.7 2696.3,1858.9 2696.3,1922.9 2658.3,1930 2612.3,1900.8"/><path d="M2612.3 1836.8L2658.3 1866L2696.3 1858.9M2658.3 1866L2658.3 1930"/><path d="M2675 1832q-9 2 -9 15l12 -3q-2 -8 3 -12z" stroke-width="2.5"/>
<polygon points="2557,1874.6 2573,1871.6 2591,1883 2591,1929 2575,1932 2557,1920.6"/><path d="M2557 1874.6L2575 1886L2591 1883M2575 1886L2575 1932"/><path d="M2557 1886.1L2575 1897.5L2591 1894.5M2557 1897.6L2575 1909L2591 1906M2557 1909.1L2575 1920.5L2591 1917.5" fill="none"/>
<path d="M2598 1928q6 12 14 4" fill="none" stroke-width="2.4"/><path d="M2610 1906l-6 10m10 -8l-5 8" fill="none" stroke-width="1.6"/><polygon points="2597,1856 2604,1859 2602,1922 2596,1922" fill="#000" stroke-width="1"/>
<polygon points="2676,1877.3 2694,1873.9 2714,1886.6 2714,1932.6 2696,1936 2676,1923.3"/><path d="M2676 1877.3L2696 1890L2714 1886.6M2696 1890L2696 1936"/><path d="M2676 1892.6L2696 1905.3L2714 1902M2676 1908L2696 1920.7L2714 1917.3" fill="none"/>
<polygon points="2107,1734.6 2282,1701.9 2385,1767.3 2385,1912.3 2210,1945 2107,1879.6" stroke-width="2.8"/><path d="M2107 1734.6L2210 1800L2385 1767.3M2210 1800L2210 1945" stroke-width="2.8"/><polygon points="2218,1806.5 2377,1776.8 2377,1905.8 2218,1935.5"/><path d="M2218 1815.4L2377 1785.6M2218 1825.1L2377 1795.4M2218 1834.8L2377 1805.1M2218 1844.5L2377 1814.8M2218 1854.3L2377 1824.5M2218 1864L2377 1834.3M2218 1873.7L2377 1844M2218 1883.5L2377 1853.7M2218 1893.2L2377 1863.5M2218 1902.9L2377 1873.2M2218 1912.6L2377 1882.9" fill="none"/><rect x="2306.2" y="1909" width="30" height="7" rx="3" transform="rotate(-10 2306.2 1909)"/><path d="M2218 1919.5L2377 1889.8"/>
<polygon points="2415.5,1794.7 2520.5,1775 2552.5,1795.4 2552.5,1917.4 2447.5,1937 2415.5,1916.7"/><path d="M2415.5 1794.7L2447.5 1815L2552.5 1795.4M2447.5 1815L2447.5 1937"/><polygon points="2454.5,1820.7 2546.5,1803.5 2546.5,1912.5 2454.5,1929.7" stroke-width="2.6"/><path d="M2461.5 1846.7L2546.5 1830.8" stroke-width="2.2"/><path d="M2461.5 1824.4L2461.5 1846.7" stroke-width="2.2"/><path d="M2467.5 1828.4L2467.5 1840.7A10 3.5 0 0 0 2487.5 1840.7L2487.5 1828.4Z" fill="#fff" stroke-width="2.4"/><ellipse cx="2477.5" cy="1828.4" rx="10" ry="3.5" stroke-width="2.4"/><path d="M2467.5 1833.4A10 3.5 0 0 0 2487.5 1833.4" fill="none" stroke-width="2.2"/><path d="M2490.5 1824.1L2490.5 1836.4A10 3.5 0 0 0 2510.5 1836.4L2510.5 1824.1Z" fill="#fff" stroke-width="2.4"/><ellipse cx="2500.5" cy="1824.1" rx="10" ry="3.5" stroke-width="2.4"/><path d="M2490.5 1829.1A10 3.5 0 0 0 2510.5 1829.1" fill="none" stroke-width="2.2"/><path d="M2513.5 1819.8L2513.5 1832.1A10 3.5 0 0 0 2533.5 1832.1L2533.5 1819.8Z" fill="#fff" stroke-width="2.4"/><ellipse cx="2523.5" cy="1819.8" rx="10" ry="3.5" stroke-width="2.4"/><path d="M2513.5 1824.8A10 3.5 0 0 0 2533.5 1824.8" fill="none" stroke-width="2.2"/><path d="M2454.5 1857L2546.5 1839.8"/><path d="M2454.5 1862L2546.5 1844.8"/><path d="M2461.5 1883L2546.5 1867.2" stroke-width="2.2"/><path d="M2461.5 1860.7L2461.5 1883" stroke-width="2.2"/><path d="M2490.5 1860.4L2490.5 1872.8A10 3.5 0 0 0 2510.5 1872.8L2510.5 1860.4Z" fill="#fff" stroke-width="2.4"/><ellipse cx="2500.5" cy="1860.4" rx="10" ry="3.5" stroke-width="2.4"/><path d="M2490.5 1865.4A10 3.5 0 0 0 2510.5 1865.4" fill="none" stroke-width="2.2"/><path d="M2513.5 1856.1L2513.5 1868.5A10 3.5 0 0 0 2533.5 1868.5L2533.5 1856.1Z" fill="#fff" stroke-width="2.4"/><ellipse cx="2523.5" cy="1856.1" rx="10" ry="3.5" stroke-width="2.4"/><path d="M2513.5 1861.1A10 3.5 0 0 0 2533.5 1861.1" fill="none" stroke-width="2.2"/><path d="M2454.5 1893.4L2546.5 1876.2"/><path d="M2454.5 1898.4L2546.5 1881.2"/><path d="M2461.5 1919.4L2546.5 1903.5" stroke-width="2.2"/><path d="M2461.5 1897L2461.5 1919.4" stroke-width="2.2"/><path d="M2467.5 1901.1L2467.5 1913.4A10 3.5 0 0 0 2487.5 1913.4L2487.5 1901.1Z" fill="#fff" stroke-width="2.4"/><ellipse cx="2477.5" cy="1901.1" rx="10" ry="3.5" stroke-width="2.4"/><path d="M2467.5 1906.1A10 3.5 0 0 0 2487.5 1906.1" fill="none" stroke-width="2.2"/><path d="M2513.5 1892.5L2513.5 1904.8A10 3.5 0 0 0 2533.5 1904.8L2533.5 1892.5Z" fill="#fff" stroke-width="2.4"/><ellipse cx="2523.5" cy="1892.5" rx="10" ry="3.5" stroke-width="2.4"/><path d="M2513.5 1897.5A10 3.5 0 0 0 2533.5 1897.5" fill="none" stroke-width="2.2"/>
<polygon points="2724,1907.8 2740,1904.8 2756,1915 2756,1943 2740,1946 2724,1935.8"/><path d="M2724 1907.8L2740 1918L2756 1915M2740 1918L2740 1946"/><path d="M2724 1914.8L2740 1925L2756 1922M2724 1921.8L2740 1932L2756 1929M2724 1928.8L2740 1939L2756 1936" fill="none"/>
<polygon points="1674,1913 1686,1910.8 1697,1917.8 1697,1943.8 1685,1946 1674,1939"/><path d="M1674 1913L1685 1920L1697 1917.8M1685 1920L1685 1946"/>
<polygon points="2027.5,1665.3 2102.5,1651.3 2165,1691 2165,1933 2090,1947 2027.5,1907.3"/><path d="M2027.5 1665.3L2090 1705L2165 1691M2090 1705L2090 1947"/><polygon points="2108.8,1719 2142.5,1712.7 2142.5,1742.8 2108.8,1749.1"/><path d="M2123.8 1733.7L2150 1749.8" stroke-width="7"/><path d="M2125.8 1735.3L2150 1749.8" stroke="#fff" stroke-width="2.5"/><path d="M2027.5 1730.3L2090 1770L2165 1756" fill="none"/><path d="M2027.5 1736.3L2090 1776L2165 1762" fill="none" stroke-width="5"/><path d="M2112.5 1795.4h7v14h5v-10h6v28h-7v-10h-5v-4h-6z"/><path d="M2027.5 1812.3L2090 1852L2165 1838" fill="none"/><path d="M2027.5 1818.3L2090 1858L2165 1844" fill="none" stroke-width="5"/><polygon points="2055.6,1862.2 2040,1852.2 2040,1892.8 2055.6,1902.7"/>
<polygon points="2748,1944 2766,1934 2772,1948 2754,1958" stroke-width="2.4"/>
<rect x="2221" y="1740.5" width="6.5" height="22"/><rect x="2234" y="1740.5" width="6.5" height="22"/><path d="M2218 1716.5Q2202 1716.5 2188 1706.5M2243 1716.5Q2258 1720.5 2273 1725.5" fill="none" stroke-width="12"/><path d="M2218 1716.5Q2202 1716.5 2188 1706.5M2243 1716.5Q2258 1720.5 2273 1725.5" fill="none" stroke="#fff" stroke-width="6.5"/><ellipse cx="2186" cy="1705.5" rx="5.5" ry="5.5"/><ellipse cx="2275" cy="1726.5" rx="5.5" ry="5.5"/><path d="M2217 1710.5L2211 1740.5L2249 1740.5L2245 1710.5C2240 1704.5 2222 1704.5 2217 1710.5Z"/><path d="M2232 1708.5L2232 1740.5" stroke-width="2.2"/><path d="M2225 1716.5v.1M2225 1724.5v.1M2225 1732.5v.1" stroke-width="3.2" stroke-linecap="round"/><ellipse cx="2229" cy="1697.5" rx="11.5" ry="14"/><path d="M2226 1684.5C2236 1680.5 2242 1688.5 2241 1706.5L2233 1709.5C2234 1700.5 2232 1690.5 2226 1684.5Z" fill="#000" stroke-width="1.5"/>
<path d="M2172 1778L2150 1940" stroke-width="6"/><path d="M2198 1783L2176 1945" stroke-width="6"/><path d="M2172 1778L2150 1940M2198 1783L2176 1945" stroke="#fff" stroke-width="1.8"/><path d="M2170.8 1787L2196.8 1792M2168.3 1805L2194.3 1810M2165.9 1823L2191.9 1828M2163.4 1841L2189.4 1846M2161 1859L2187 1864M2158.6 1877L2184.6 1882M2156.1 1895L2182.1 1900M2153.7 1913L2179.7 1918M2151.2 1931L2177.2 1936" fill="none" stroke-width="3.2"/>
<polygon points="1708,1880 1726,1876.7 1748,1890.6 1748,1952.6 1730,1956 1708,1942"/><path d="M1708 1880L1730 1894L1748 1890.6M1730 1894L1730 1956"/><path d="M1708 1892.4L1730 1906.4L1748 1903M1708 1904.8L1730 1918.8L1748 1915.4M1708 1917.2L1730 1931.2L1748 1927.8M1708 1929.6L1730 1943.6L1748 1940.2" fill="none"/>
<rect x="2023.5" y="1945.5" width="6.5" height="22"/><rect x="2036.5" y="1945.5" width="6.5" height="22"/><path d="M2017.5 1917.5L2011.5 1939.5M2048.5 1917.5L2054.5 1939.5" fill="none" stroke-width="7"/><path d="M2017.5 1917.5L2011.5 1939.5M2048.5 1917.5L2054.5 1939.5" stroke="#fff" stroke-width="2.2"/><path d="M2019.5 1915.5L2013.5 1945.5L2051.5 1945.5L2047.5 1915.5C2042.5 1909.5 2024.5 1909.5 2019.5 1915.5Z"/><path d="M2034.5 1913.5L2034.5 1945.5" stroke-width="2.2"/><path d="M2027.5 1921.5v.1M2027.5 1929.5v.1M2027.5 1937.5v.1" stroke-width="3.2" stroke-linecap="round"/><ellipse cx="2031.5" cy="1902.5" rx="11.5" ry="14"/><path d="M2028.5 1889.5C2038.5 1885.5 2044.5 1893.5 2043.5 1911.5L2035.5 1914.5C2036.5 1905.5 2034.5 1895.5 2028.5 1889.5Z" fill="#000" stroke-width="1.5"/>
<polygon points="1845,1895.3 1859,1892.7 1879,1905.4 1879,1965.4 1865,1968 1845,1955.3"/><path d="M1845 1895.3L1865 1908L1879 1905.4M1865 1908L1865 1968"/><path d="M1845 1910.3L1865 1923L1879 1920.4M1845 1925.3L1865 1938L1879 1935.4M1845 1940.3L1865 1953L1879 1950.4" fill="none"/>
<path d="M2104 1945h16l-2 22h-12z" stroke-width="2.4"/><path d="M2112 1945l-6 -16M2112 1945l2 -20M2112 1945l8 -14" fill="none" stroke-width="2.2"/>
<polygon points="3309.4,1888.5 3329.4,1884.8 3351.4,1898.8 3351.4,1950.8 3331.4,1954.5 3309.4,1940.5"/><path d="M3309.4 1888.5L3331.4 1902.5L3351.4 1898.8M3331.4 1902.5L3331.4 1954.5"/>
<polygon points="3347,1895.2 3400,1885.3 3443,1912.6 3443,1970.6 3390,1980.5 3347,1953.2"/><path d="M3347 1895.2L3390 1922.5L3443 1912.6M3390 1922.5L3390 1980.5"/><ellipse cx="3426" cy="1927.5" rx="3" ry="6"/>
<path d="M2415.5 1978C2413.5 1952 2421.5 1938 2431.5 1936L2445.5 1936C2457.5 1942 2463.5 1962 2461.5 1980Z"/><path d="M2439.5 1938L2440.5 1978" stroke-width="2.2"/><ellipse cx="2437.5" cy="1928" rx="11" ry="14"/><path d="M2434.5 1915C2444.5 1911 2450.5 1919 2449.5 1937L2441.5 1940C2442.5 1931 2440.5 1921 2434.5 1915Z" fill="#000" stroke-width="1.5"/><polygon points="2445.5,1980 2467.5,1986 2471.5,1980 2449.5,1974"/>
<polygon points="1757.3,1890.8 1795.3,1883.7 1841.3,1912.9 1841.3,1976.9 1803.3,1984 1757.3,1954.8"/><path d="M1757.3 1890.8L1803.3 1920L1841.3 1912.9M1803.3 1920L1803.3 1984"/><path d="M1820 1886q-9 2 -9 15l12 -3q-2 -8 3 -12z" stroke-width="2.5"/>
<polygon points="3249.3,1931.2 3304.3,1920.9 3347.3,1948.2 3347.3,1974.2 3292.3,1984.5 3249.3,1957.2"/><path d="M3249.3 1931.2L3292.3 1958.5L3347.3 1948.2M3292.3 1958.5L3292.3 1984.5"/>
<polygon points="1702,1928.6 1718,1925.6 1736,1937 1736,1983 1720,1986 1702,1974.6"/><path d="M1702 1928.6L1720 1940L1736 1937M1720 1940L1720 1986"/><path d="M1702 1940.1L1720 1951.5L1736 1948.5M1702 1951.6L1720 1963L1736 1960M1702 1963.1L1720 1974.5L1736 1971.5" fill="none"/>
<path d="M1743 1982q6 12 14 4" fill="none" stroke-width="2.4"/><path d="M1755 1960l-6 10m10 -8l-5 8" fill="none" stroke-width="1.6"/><polygon points="1742,1910 1749,1913 1747,1976 1741,1976" fill="#000" stroke-width="1"/>
<polygon points="1821,1931.3 1839,1927.9 1859,1940.6 1859,1986.6 1841,1990 1821,1977.3"/><path d="M1821 1931.3L1841 1944L1859 1940.6M1841 1944L1841 1990"/><path d="M1821 1946.6L1841 1959.3L1859 1956M1821 1962L1841 1974.7L1859 1971.3" fill="none"/>
<path d="M1377.5 1862L1377.5 2162A90 30 0 0 0 1557.5 2162L1557.5 1862Z" fill="#fff" stroke-width="2.5"/><ellipse cx="1467.5" cy="1862" rx="90" ry="30" stroke-width="2.5"/><path d="M1377.5 1870A90 30 0 0 0 1557.5 1870" fill="none" stroke-width="2.5"/><path d="M1393.5 1820L1393.5 1834A74 26 0 0 0 1541.5 1834L1541.5 1820Z" fill="#fff" stroke-width="2.5"/><ellipse cx="1467.5" cy="1820" rx="74" ry="26" stroke-width="2.5"/>
<polygon points="1412,1966 1452,1978 1452,2012 1412,2000"/><polygon points="1418,1971 1446,1979.4 1446,2002.4 1418,1994" stroke-width="2.4"/><polygon points="1412,1966 1420,1958 1458,1972 1452,1978"/><polygon points="1458,1900 1504,1905.5 1504,1945.5 1458,1940"/><polygon points="1464,1905 1498,1909.1 1498,1938.1 1464,1934" stroke-width="2.4"/><polygon points="1458,1900 1466,1892 1510,1899.5 1504,1905.5"/><polygon points="1480,1942 1522,1933.6 1522,1967.6 1480,1976"/><polygon points="1486,1947 1516,1941 1516,1964 1486,1970" stroke-width="2.4"/><polygon points="1480,1942 1488,1934 1528,1927.6 1522,1933.6"/><polygon points="1456,1984 1498,1975.6 1498,2009.6 1456,2018"/><polygon points="1462,1989 1492,1983 1492,2006 1462,2012" stroke-width="2.4"/><polygon points="1456,1984 1464,1976 1504,1969.6 1498,1975.6"/>
<path d="M1444 1960q-6 -16 6 -22q-8 -10 4 -20" fill="none" stroke-width="5"/><path d="M1444 1960q-6 -16 6 -22q-8 -10 4 -20" stroke="#fff" stroke-width="1.6" fill="none"/>
<polygon points="1869,1961.8 1885,1958.8 1901,1969 1901,1997 1885,2000 1869,1989.8"/><path d="M1869 1961.8L1885 1972L1901 1969M1885 1972L1885 2000"/><path d="M1869 1968.8L1885 1979L1901 1976M1869 1975.8L1885 1986L1901 1983M1869 1982.8L1885 1993L1901 1990" fill="none"/>
<path d="M705 1968v14l-10 16q10 8 28 0l-10 -16v-14z" stroke-width="2.4"/><ellipse cx="709" cy="1968" rx="5" ry="2" stroke-width="2"/>
<polygon points="1893,1998 1911,1988 1917,2002 1899,2012" stroke-width="2.4"/>
<polygon points="3265,1990.5 3277,1988.3 3288,1995.3 3288,2021.3 3276,2023.5 3265,2016.5"/><path d="M3265 1990.5L3276 1997.5L3288 1995.3M3276 1997.5L3276 2023.5"/>
<path d="M1030 2078Q1050 2070 1060 2066Q1070 2062 1080 2061L1090 2060" fill="none" stroke-width="6"/>
<path d="M1030 2078Q1050 2070 1060 2066T1090 2060" stroke="#fff" stroke-width="2" fill="none"/>
<rect x="2240" y="2013" width="6.5" height="22"/><rect x="2253" y="2013" width="6.5" height="22"/><path d="M2237 1989Q2221 1989 2207 1979M2262 1989Q2277 1993 2292 1998" fill="none" stroke-width="12"/><path d="M2237 1989Q2221 1989 2207 1979M2262 1989Q2277 1993 2292 1998" fill="none" stroke="#fff" stroke-width="6.5"/><ellipse cx="2205" cy="1978" rx="5.5" ry="5.5"/><ellipse cx="2294" cy="1999" rx="5.5" ry="5.5"/><path d="M2236 1983L2230 2013L2268 2013L2264 1983C2259 1977 2241 1977 2236 1983Z"/><path d="M2251 1981L2251 2013" stroke-width="2.2"/><path d="M2244 1989v.1M2244 1997v.1M2244 2005v.1" stroke-width="3.2" stroke-linecap="round"/><ellipse cx="2248" cy="1970" rx="11.5" ry="14"/><path d="M2245 1957C2255 1953 2261 1961 2260 1979L2252 1982C2253 1973 2251 1963 2245 1957Z" fill="#000" stroke-width="1.5"/>
<polygon points="3299,1957.5 3317,1954.2 3339,1968.1 3339,2030.1 3321,2033.5 3299,2019.5"/><path d="M3299 1957.5L3321 1971.5L3339 1968.1M3321 1971.5L3321 2033.5"/><path d="M3299 1969.9L3321 1983.9L3339 1980.5M3299 1982.3L3321 1996.3L3339 1992.9M3299 1994.7L3321 2008.7L3339 2005.3M3299 2007.1L3321 2021.1L3339 2017.7" fill="none"/>
<path d="M1080 1893L1080 2030A35 10.5 0 0 0 1150 2030L1150 1893Z" fill="#fff"/><ellipse cx="1115" cy="1893" rx="35" ry="10.5"/><path d="M1082 1885L1082 1893A33 10.5 0 0 0 1148 1893L1148 1885Z" fill="#fff"/><ellipse cx="1115" cy="1885" rx="33" ry="10.5"/><path d="M1080 1901A35 10.5 0 0 0 1150 1901" fill="none"/><path d="M1080 2020A35 10.5 0 0 0 1150 2020" fill="none"/>
<path d="M2608.5 1935L2608.5 2035A60 22 0 0 0 2728.5 2035L2728.5 1935Z" fill="#fff"/><ellipse cx="2668.5" cy="1935" rx="60" ry="22"/><path d="M2611.5 1905L2611.5 1927A57 20 0 0 0 2725.5 1927L2725.5 1905Z" fill="#fff"/><ellipse cx="2668.5" cy="1905" rx="57" ry="20"/><path d="M2608.5 1945A60 22 0 0 0 2728.5 1945" fill="none"/><path d="M2622 1960h6M2622 1975h6M2622 1990h6M2622 2005h6" fill="none" stroke-width="2"/>
<path d="M1715.5 2037.5L1715.5 2127.5A78 30 0 0 0 1871.5 2127.5L1871.5 2037.5Z" fill="#fff"/><ellipse cx="1793.5" cy="2037.5" rx="78" ry="30"/><ellipse cx="1793.5" cy="2039.5" rx="68.6" ry="26.4"/><path d="M1727.9 2049.5A68.6 26.4 0 0 0 1859.1 2049.5" fill="none"/>
<path d="M1180 1893L1180 2015A30 9 0 0 0 1240 2015L1240 1893Z" fill="#fff"/><ellipse cx="1210" cy="1893" rx="30" ry="9"/><path d="M1182 1885L1182 1893A28 9 0 0 0 1238 1893L1238 1885Z" fill="#fff"/><ellipse cx="1210" cy="1885" rx="28" ry="9"/><path d="M1180 1901A30 9 0 0 0 1240 1901" fill="none"/><path d="M1180 2005A30 9 0 0 0 1240 2005" fill="none"/>
<path d="M1192 2028l6 18h24l6 -18"/><path d="M1222 2046q4 16 20 16l60 6" fill="none" stroke-width="9"/><path d="M1222 2046q4 16 20 16l60 6" stroke="#fff" stroke-width="4" fill="none"/><rect x="1210" y="2056" width="36" height="12" rx="4"/>
<polygon points="3436,1972.8 3450,1970.2 3470,1982.9 3470,2042.9 3456,2045.5 3436,2032.8"/><path d="M3436 1972.8L3456 1985.5L3470 1982.9M3456 1985.5L3456 2045.5"/><path d="M3436 1987.8L3456 2000.5L3470 1997.9M3436 2002.8L3456 2015.5L3470 2012.9M3436 2017.8L3456 2030.5L3470 2027.9" fill="none"/>
<polygon points="3348.3,1968.3 3386.3,1961.2 3432.3,1990.4 3432.3,2054.4 3394.3,2061.5 3348.3,2032.3"/><path d="M3348.3 1968.3L3394.3 1997.5L3432.3 1990.4M3394.3 1997.5L3394.3 2061.5"/><path d="M3411 1963.5q-9 2 -9 15l12 -3q-2 -8 3 -12z" stroke-width="2.5"/>
<polygon points="3293,2006.1 3309,2003.1 3327,2014.5 3327,2060.5 3311,2063.5 3293,2052.1"/><path d="M3293 2006.1L3311 2017.5L3327 2014.5M3311 2017.5L3311 2063.5"/><path d="M3293 2017.6L3311 2029L3327 2026M3293 2029.1L3311 2040.5L3327 2037.5M3293 2040.6L3311 2052L3327 2049" fill="none"/>
<path d="M3334 2059.5q6 12 14 4" fill="none" stroke-width="2.4"/><path d="M3346 2037.5l-6 10m10 -8l-5 8" fill="none" stroke-width="1.6"/><polygon points="3333,1987.5 3340,1990.5 3338,2053.5 3332,2053.5" fill="#000" stroke-width="1"/>
<polygon points="3412,2008.8 3430,2005.4 3450,2018.1 3450,2064.1 3432,2067.5 3412,2054.8"/><path d="M3412 2008.8L3432 2021.5L3450 2018.1M3432 2021.5L3432 2067.5"/><path d="M3412 2024.1L3432 2036.8L3450 2033.5M3412 2039.5L3432 2052.2L3450 2048.8" fill="none"/>
<path d="M1260.5 1920.5L1260.5 2055A32 9.6 0 0 0 1324.5 2055L1324.5 1920.5Z" fill="#fff"/><ellipse cx="1292.5" cy="1920.5" rx="32" ry="9.6"/><path d="M1262.5 1912.5L1262.5 1920.5A30 9.6 0 0 0 1322.5 1920.5L1322.5 1912.5Z" fill="#fff"/><ellipse cx="1292.5" cy="1912.5" rx="30" ry="9.6"/><path d="M1260.5 1928.5A32 9.6 0 0 0 1324.5 1928.5" fill="none"/><path d="M1260.5 2045A32 9.6 0 0 0 1324.5 2045" fill="none"/>
<polygon points="3460,2039.3 3476,2036.3 3492,2046.5 3492,2074.5 3476,2077.5 3460,2067.3"/><path d="M3460 2039.3L3476 2049.5L3492 2046.5M3476 2049.5L3476 2077.5"/><path d="M3460 2046.3L3476 2056.5L3492 2053.5M3460 2053.3L3476 2063.5L3492 2060.5M3460 2060.3L3476 2070.5L3492 2067.5" fill="none"/>
<polygon points="3484,2075.5 3502,2065.5 3508,2079.5 3490,2089.5" stroke-width="2.4"/>
<rect x="2806" y="2075.5" width="6.5" height="22"/><rect x="2819" y="2075.5" width="6.5" height="22"/><path d="M2803 2051.5Q2787 2051.5 2773 2041.5M2828 2051.5Q2843 2055.5 2858 2060.5" fill="none" stroke-width="12"/><path d="M2803 2051.5Q2787 2051.5 2773 2041.5M2828 2051.5Q2843 2055.5 2858 2060.5" fill="none" stroke="#fff" stroke-width="6.5"/><ellipse cx="2771" cy="2040.5" rx="5.5" ry="5.5"/><ellipse cx="2860" cy="2061.5" rx="5.5" ry="5.5"/><path d="M2802 2045.5L2796 2075.5L2834 2075.5L2830 2045.5C2825 2039.5 2807 2039.5 2802 2045.5Z"/><path d="M2817 2043.5L2817 2075.5" stroke-width="2.2"/><path d="M2810 2051.5v.1M2810 2059.5v.1M2810 2067.5v.1" stroke-width="3.2" stroke-linecap="round"/><ellipse cx="2814" cy="2032.5" rx="11.5" ry="14"/><path d="M2811 2019.5C2821 2015.5 2827 2023.5 2826 2041.5L2818 2044.5C2819 2035.5 2817 2025.5 2811 2019.5Z" fill="#000" stroke-width="1.5"/><rect x="2804" y="2009.5" width="21" height="10"/>
<polygon points="2880,1781.4 3075,1744.9 3277.5,1873.5 3277.5,2070.5 3082.5,2107 2880,1978.4" stroke-width="2.6"/><path d="M2880 1781.4L3082.5 1910L3277.5 1873.5M3082.5 1910L3082.5 2107" stroke-width="2.6"/>
<path d="M3037 1700L3028 1805A32 11.5 0 0 0 3092 1805L3083 1700Z"/><ellipse cx="3060" cy="1700" rx="23" ry="8.3"/><ellipse cx="3060" cy="1701" rx="13.8" ry="4.6" stroke-width="3.5"/><path d="M3033.2 1744.1A26.8 9.6 0 0 0 3086.8 1744.1" fill="none"/><path d="M3029.8 1784A30.2 10.9 0 0 0 3090.2 1784" fill="none"/><path d="M3040.8 1807h.1M3060 1811h.1M3079.2 1807h.1" fill="none"/>
<polygon points="2830.5,1950.2 2890.5,1938.9 2937.5,1968.8 2937.5,2038.8 2877.5,2050 2830.5,2020.2"/><path d="M2830.5 1950.2L2877.5 1980L2937.5 1968.8M2877.5 1980L2877.5 2050"/>
<polygon points="2840,1898 2897.5,1887.3 2940,1914.2 2940,1970.2 2882.5,1981 2840,1954"/><path d="M2840 1898L2882.5 1925L2940 1914.2M2882.5 1925L2882.5 1981"/>
<polygon points="2932,1960.6 2954,1956.5 2972,1967.9 2972,2045.9 2950,2050 2932,2038.6"/><path d="M2932 1960.6L2950 1972L2972 1967.9M2950 1972L2950 2050"/><path d="M2932 1980.1L2950 1991.5L2972 1987.4M2932 1999.6L2950 2011L2972 2006.9M2932 2019.1L2950 2030.5L2972 2026.4" fill="none"/>
<polygon points="2896,1997.8 2918,1993.7 2934,2003.9 2934,2055.9 2912,2060 2896,2049.8"/><path d="M2896 1997.8L2912 2008L2934 2003.9M2912 2008L2912 2060"/><path d="M2896 2015.2L2912 2025.3L2934 2021.2M2896 2032.5L2912 2042.7L2934 2038.6" fill="none"/>
<polygon points="2936,1999.8 2958,1995.7 2974,2005.9 2974,2053.9 2952,2058 2936,2047.8"/><path d="M2936 1999.8L2952 2010L2974 2005.9M2952 2010L2952 2058"/><path d="M2936 2015.8L2952 2026L2974 2021.9M2936 2031.8L2952 2042L2974 2037.9" fill="none"/>
<polygon points="2880,2062 2892,2060 2890,2076 2878,2075" stroke-width="2.4"/>
<polygon points="1930,2031.9 2055,2008.5 2115,2046.6 2115,2052.6 1990,2076 1930,2037.9"/><path d="M1930 2031.9L1990 2070L2115 2046.6M1990 2070L1990 2076"/><polygon points="1990,2076 2115,2052.6 2115,2076.6 1990,2100"/><polygon points="1990,2076 1930,2037.9 1930,2061.9 1990,2100"/><polygon points="2002,2079.8 2030,2074.5 2030,2086.5 2002,2091.8" stroke-width="2.4"/><polygon points="2040,2072.7 2068,2067.4 2068,2079.4 2040,2084.7" stroke-width="2.4"/><polygon points="2078,2065.5 2107,2060.1 2107,2072.1 2078,2077.5" stroke-width="2.4"/><rect x="1933" y="2060.9" width="6" height="16"/><rect x="1992" y="2099" width="6" height="16"/><rect x="2107" y="2075.6" width="6" height="16"/>
<path d="M1988 2022L1988 2066A20 8 0 0 0 2028 2066L2028 2022Z" fill="#fff"/><ellipse cx="2008" cy="2022" rx="20" ry="8"/><path d="M1990 2016L1990 2022A18 7 0 0 0 2026 2022L2026 2016Z" fill="#fff"/><ellipse cx="2008" cy="2016" rx="18" ry="7"/><path d="M1956 2046v18M1966 2042v18M1976 2046v18" fill="none" stroke-width="7"/><path d="M1952 2058l34 -6" fill="none"/>
<rect x="2031" y="2036" width="6.5" height="22"/><rect x="2044" y="2036" width="6.5" height="22"/><path d="M2025 2008L2019 2030M2056 2008L2062 2030" fill="none" stroke-width="7"/><path d="M2025 2008L2019 2030M2056 2008L2062 2030" stroke="#fff" stroke-width="2.2"/><path d="M2027 2006L2021 2036L2059 2036L2055 2006C2050 2000 2032 2000 2027 2006Z"/><path d="M2042 2004L2042 2036" stroke-width="2.2"/><path d="M2035 2012v.1M2035 2020v.1M2035 2028v.1" stroke-width="3.2" stroke-linecap="round"/><ellipse cx="2039" cy="1993" rx="11.5" ry="14"/><path d="M2036 1980C2046 1976 2052 1984 2051 2002L2043 2005C2044 1996 2042 1986 2036 1980Z" fill="#000" stroke-width="1.5"/>
<rect x="2069" y="2093" width="6.5" height="22"/><rect x="2082" y="2093" width="6.5" height="22"/><path d="M2063 2065L2057 2087M2094 2065L2100 2087" fill="none" stroke-width="7"/><path d="M2063 2065L2057 2087M2094 2065L2100 2087" stroke="#fff" stroke-width="2.2"/><path d="M2065 2063L2059 2093L2097 2093L2093 2063C2088 2057 2070 2057 2065 2063Z"/><path d="M2080 2061L2080 2093" stroke-width="2.2"/><path d="M2073 2069v.1M2073 2077v.1M2073 2085v.1" stroke-width="3.2" stroke-linecap="round"/><ellipse cx="2077" cy="2050" rx="11.5" ry="14"/><path d="M2074 2037C2084 2033 2090 2041 2089 2059L2081 2062C2082 2053 2080 2043 2074 2037Z" fill="#000" stroke-width="1.5"/>
<ellipse cx="2015" cy="2122" rx="14" ry="5"/><path d="M2008 2126v10M2022 2126v10" fill="none"/>
<rect x="2136" y="2116" width="6.5" height="22"/><rect x="2149" y="2116" width="6.5" height="22"/><path d="M2133 2092Q2119 2084 2118 2062M2158 2092Q2171 2084 2172 2062" fill="none" stroke-width="12"/><path d="M2133 2092Q2119 2084 2118 2062M2158 2092Q2171 2084 2172 2062" fill="none" stroke="#fff" stroke-width="6.5"/><ellipse cx="2118" cy="2059" rx="5.5" ry="5.5"/><ellipse cx="2172" cy="2059" rx="5.5" ry="5.5"/><path d="M2132 2086L2126 2116L2164 2116L2160 2086C2155 2080 2137 2080 2132 2086Z"/><path d="M2147 2084L2147 2116" stroke-width="2.2"/><path d="M2140 2092v.1M2140 2100v.1M2140 2108v.1" stroke-width="3.2" stroke-linecap="round"/><ellipse cx="2144" cy="2073" rx="11.5" ry="14"/><path d="M2141 2060C2151 2056 2157 2064 2156 2082L2148 2085C2149 2076 2147 2066 2141 2060Z" fill="#000" stroke-width="1.5"/>
<polygon points="1771.4,2109.9 1785.3,2107.3 1799.1,2116.1 1799.1,2153.2 1785.2,2155.8 1771.4,2147.1"/><path d="M1771.4 2109.9L1785.2 2118.7L1799.1 2116.1M1785.2 2118.7L1785.2 2155.8"/>
<polygon points="1298,2093 1351,2083.1 1403,2116.1 1403,2211.1 1350,2221 1298,2188"/><path d="M1298 2093L1350 2126L1403 2116.1M1350 2126L1350 2221"/>
<polygon points="1338.3,1983 1405.3,1970.5 1459.3,2004.8 1459.3,2074.8 1392.3,2087.3 1338.3,2053"/><path d="M1338.3 1983L1392.3 2017.3L1459.3 2004.8M1392.3 2017.3L1392.3 2087.3"/>
<polygon points="1444.5,2015.1 1511.5,2002.6 1567.5,2038.2 1567.5,2098.2 1500.5,2110.7 1444.5,2075.1"/><path d="M1444.5 2015.1L1500.5 2050.7L1567.5 2038.2M1500.5 2050.7L1500.5 2110.7"/>
<polygon points="1744,2067.6 1804.5,2056.3 1855.5,2088.7 1855.5,2163.7 1795,2175 1744,2142.6"/><path d="M1744 2067.6L1795 2100L1855.5 2088.7M1795 2100L1795 2175"/>
<polygon points="1359,2031.8 1421,2020.2 1478,2056.4 1478,2146.4 1416,2158 1359,2121.8"/><path d="M1359 2031.8L1416 2068L1478 2056.4M1416 2068L1416 2158"/>
<polygon points="1688.3,2105.9 1745.3,2095.3 1796.3,2127.6 1796.3,2217.6 1739.3,2228.3 1688.3,2195.9"/><path d="M1688.3 2105.9L1739.3 2138.3L1796.3 2127.6M1739.3 2138.3L1739.3 2228.3"/><polygon points="1706.3,2127.3 1695.3,2120.4 1695.3,2146.4 1706.3,2153.3"/>
<polygon points="1787,2116.4 1803.4,2113.3 1816.4,2121.6 1816.4,2160.3 1800,2163.4 1787,2155.1"/><path d="M1787 2116.4L1800 2124.6L1816.4 2121.6M1800 2124.6L1800 2163.4"/>
<polygon points="1521.3,2059 1586.3,2046.9 1630.8,2075.1 1630.8,2155.1 1565.8,2167.3 1521.3,2139"/><path d="M1521.3 2059L1565.8 2087.3L1630.8 2075.1M1565.8 2087.3L1565.8 2167.3"/><polygon points="1572.8,2098 1584.8,2095.7 1584.8,2121.7 1572.8,2124"/><path d="M1590 2100v-8l16 -3v7l-16 3" fill="none" stroke-width="2.5"/>
<polygon points="1428.8,2100.8 1490.8,2089.2 1549.8,2126.7 1549.8,2206.7 1487.8,2218.3 1428.8,2180.8"/><path d="M1428.8 2100.8L1487.8 2138.3L1549.8 2126.7M1487.8 2138.3L1487.8 2218.3"/>
<polygon points="1616,2054.1 1668,2044.3 1712,2072.3 1712,2122.3 1660,2132 1616,2104.1"/><path d="M1616 2054.1L1660 2082L1712 2072.3M1660 2082L1660 2132"/><path d="M1616 2070.7L1660 2098.7L1712 2088.9M1677.3 2128.8L1677.3 2078.8L1633.3 2050.8M1645.3 2122.7L1645.3 2072.7L1697.3 2063M1616 2087.4L1660 2115.3L1712 2105.6M1694.7 2125.5L1694.7 2075.5L1650.7 2047.6M1630.7 2113.4L1630.7 2063.4L1682.7 2053.6" fill="none"/>
<polygon points="1572,2136.4 1631,2125.4 1674,2152.7 1674,2257.7 1615,2268.7 1572,2241.4"/><path d="M1572 2136.4L1615 2163.7L1674 2152.7M1615 2163.7L1615 2268.7"/><polygon points="1628,2201.3 1647,2197.7 1647,2227.7 1628,2231.3"/><path d="M1624 2182v-12h10M1665 2162v-9h-12" fill="none" stroke-width="2.5"/>
<polygon points="1490,2239.6 1550,2228.4 1590,2253.8 1590,2267.8 1530,2279 1490,2253.6"/><path d="M1490 2239.6L1530 2265L1590 2253.8M1530 2265L1530 2279"/>
<polygon points="1507,2180 1561,2169.9 1605.5,2198.2 1605.5,2260.2 1551.5,2270.3 1507,2242"/><path d="M1507 2180L1551.5 2208.3L1605.5 2198.2M1551.5 2208.3L1551.5 2270.3"/><polygon points="1584.5,2220.1 1591.5,2218.8 1591.5,2236.8 1584.5,2238.1"/>
<path d="M1533 2196C1531 2170 1539 2156 1549 2154L1563 2154C1575 2160 1581 2180 1579 2198Z"/><path d="M1557 2156L1558 2196" stroke-width="2.2"/><ellipse cx="1555" cy="2146" rx="11" ry="14"/><path d="M1552 2133C1562 2129 1568 2137 1567 2155L1559 2158C1560 2149 1558 2139 1552 2133Z" fill="#000" stroke-width="1.5"/><polygon points="1563,2198 1585,2204 1589,2198 1567,2192"/>
<polygon points="1772.4,2123.6 1786.7,2120.9 1797.9,2128 1797.9,2167.6 1783.6,2170.3 1772.4,2163.2"/><path d="M1772.4 2123.6L1783.6 2130.7L1797.9 2128M1783.6 2130.7L1783.6 2170.3"/>
<polygon points="1920.8,2123 1935,2120.3 1947.6,2128.3 1947.6,2186.1 1933.3,2188.8 1920.8,2180.8"/><path d="M1920.8 2123L1933.3 2130.9L1947.6 2128.3M1933.3 2130.9L1933.3 2188.8"/><path d="M1920.8 2137.5L1933.3 2145.4L1947.6 2142.7M1920.8 2151.9L1933.3 2159.9L1947.6 2157.2M1920.8 2166.4L1933.3 2174.3L1947.6 2171.7" fill="none"/>
<polygon points="2320,2099.6 2370,2090.2 2410,2115.7 2410,2180.7 2360,2190 2320,2164.6"/><path d="M2320 2099.6L2360 2125L2410 2115.7M2360 2125L2360 2190"/><polygon points="2382,2140.9 2388,2139.8 2388,2153.8 2382,2154.9" stroke-width="2.4"/>
<polygon points="1058,2047.2 1163,2027.5 1195,2047.9 1195,2172.9 1090,2192.5 1058,2172.2"/><path d="M1058 2047.2L1090 2067.5L1195 2047.9M1090 2067.5L1090 2192.5"/><polygon points="1097,2073.2 1189,2056 1189,2168 1097,2185.2" stroke-width="2.6"/><path d="M1104 2100.2L1189 2084.3" stroke-width="2.2"/><path d="M1104 2076.9L1104 2100.2" stroke-width="2.2"/><path d="M1110 2080.9L1110 2094.2A10 3.5 0 0 0 1130 2094.2L1130 2080.9Z" fill="#fff" stroke-width="2.4"/><ellipse cx="1120" cy="2080.9" rx="10" ry="3.5" stroke-width="2.4"/><path d="M1110 2085.9A10 3.5 0 0 0 1130 2085.9" fill="none" stroke-width="2.2"/><path d="M1133 2076.6L1133 2089.9A10 3.5 0 0 0 1153 2089.9L1153 2076.6Z" fill="#fff" stroke-width="2.4"/><ellipse cx="1143" cy="2076.6" rx="10" ry="3.5" stroke-width="2.4"/><path d="M1133 2081.6A10 3.5 0 0 0 1153 2081.6" fill="none" stroke-width="2.2"/><path d="M1156 2072.3L1156 2085.6A10 3.5 0 0 0 1176 2085.6L1176 2072.3Z" fill="#fff" stroke-width="2.4"/><ellipse cx="1166" cy="2072.3" rx="10" ry="3.5" stroke-width="2.4"/><path d="M1156 2077.3A10 3.5 0 0 0 1176 2077.3" fill="none" stroke-width="2.2"/><path d="M1097 2110.5L1189 2093.3"/><path d="M1097 2115.5L1189 2098.3"/><path d="M1104 2137.5L1189 2121.7" stroke-width="2.2"/><path d="M1104 2114.2L1104 2137.5" stroke-width="2.2"/><path d="M1133 2113.9L1133 2127.3A10 3.5 0 0 0 1153 2127.3L1153 2113.9Z" fill="#fff" stroke-width="2.4"/><ellipse cx="1143" cy="2113.9" rx="10" ry="3.5" stroke-width="2.4"/><path d="M1133 2118.9A10 3.5 0 0 0 1153 2118.9" fill="none" stroke-width="2.2"/><path d="M1156 2109.6L1156 2123A10 3.5 0 0 0 1176 2123L1176 2109.6Z" fill="#fff" stroke-width="2.4"/><ellipse cx="1166" cy="2109.6" rx="10" ry="3.5" stroke-width="2.4"/><path d="M1156 2114.6A10 3.5 0 0 0 1176 2114.6" fill="none" stroke-width="2.2"/><path d="M1097 2147.9L1189 2130.7"/><path d="M1097 2152.9L1189 2135.7"/><path d="M1104 2174.9L1189 2159" stroke-width="2.2"/><path d="M1104 2151.5L1104 2174.9" stroke-width="2.2"/><path d="M1110 2155.6L1110 2168.9A10 3.5 0 0 0 1130 2168.9L1130 2155.6Z" fill="#fff" stroke-width="2.4"/><ellipse cx="1120" cy="2155.6" rx="10" ry="3.5" stroke-width="2.4"/><path d="M1110 2160.6A10 3.5 0 0 0 1130 2160.6" fill="none" stroke-width="2.2"/><path d="M1156 2147L1156 2160.3A10 3.5 0 0 0 1176 2160.3L1176 2147Z" fill="#fff" stroke-width="2.4"/><ellipse cx="1166" cy="2147" rx="10" ry="3.5" stroke-width="2.4"/><path d="M1156 2152A10 3.5 0 0 0 1176 2152" fill="none" stroke-width="2.2"/>
<polygon points="1952.4,2146.6 1969.1,2143.5 1982.7,2152.1 1982.7,2192.7 1966,2195.8 1952.4,2187.2"/><path d="M1952.4 2146.6L1966 2155.2L1982.7 2152.1M1966 2155.2L1966 2195.8"/>
<path d="M2984.5 2072.5L2984.5 2169.5A79 28 0 0 0 3142.5 2169.5L3142.5 2072.5Z" fill="#fff"/><ellipse cx="3063.5" cy="2072.5" rx="79" ry="28"/><ellipse cx="3063.5" cy="2074.5" rx="69.5" ry="24.6"/><path d="M2997 2084.5A69.5 24.6 0 0 0 3130 2084.5" fill="none"/>
<path d="M1215.5 2150L1215.5 2198A22 8 0 0 0 1259.5 2198L1259.5 2150Z" fill="#fff"/><ellipse cx="1237.5" cy="2150" rx="22" ry="8"/><path d="M1217.5 2144L1217.5 2150A20 7 0 0 0 1257.5 2150L1257.5 2144Z" fill="#fff"/><ellipse cx="1237.5" cy="2144" rx="20" ry="7"/>
<rect x="2020" y="2128.2" width="5" height="22"/><rect x="2129" y="2152.8" width="5" height="22"/><rect x="2076" y="2165" width="5" height="22"/><polygon points="2017,2123.2 2077,2112 2135,2148.8 2135,2153.8 2075,2165 2017,2128.2"/><path d="M2017 2123.2L2075 2160L2135 2148.8M2075 2160L2075 2165"/>
<path d="M2030 2190h26l-4 22h-18z" stroke-width="2.4"/><ellipse cx="2043" cy="2190" rx="13" ry="4"/>
<polygon points="1898.4,2144.7 1912.9,2142 1927.9,2151.6 1927.9,2206.4 1913.5,2209.1 1898.4,2199.6"/><path d="M1898.4 2144.7L1913.5 2154.3L1927.9 2151.6M1913.5 2154.3L1913.5 2209.1"/><path d="M1898.4 2158.4L1913.5 2168L1927.9 2165.3M1898.4 2172.1L1913.5 2181.7L1927.9 2179M1898.4 2185.8L1913.5 2195.4L1927.9 2192.7" fill="none"/>
<polygon points="1940.6,2168.9 1959.1,2165.5 1970.5,2172.7 1970.5,2215.7 1952,2219.2 1940.6,2212"/><path d="M1940.6 2168.9L1952 2176.2L1970.5 2172.7M1952 2176.2L1952 2219.2"/>
<polygon points="1730.7,2176.2 1748.5,2172.9 1759.2,2179.7 1759.2,2216.1 1741.4,2219.4 1730.7,2212.6"/><path d="M1730.7 2176.2L1741.4 2183L1759.2 2179.7M1741.4 2183L1741.4 2219.4"/><path d="M1730.7 2194.4L1741.4 2201.2L1759.2 2197.9" fill="none"/>
<polygon points="1905.1,2148.5 1919.8,2145.8 1934.4,2155 1934.4,2218.2 1919.7,2221 1905.1,2211.7"/><path d="M1905.1 2148.5L1919.7 2157.8L1934.4 2155M1919.7 2157.8L1919.7 2221"/><path d="M1905.1 2164.3L1919.7 2173.6L1934.4 2170.8M1905.1 2180.1L1919.7 2189.4L1934.4 2186.6M1905.1 2195.9L1919.7 2205.2L1934.4 2202.4" fill="none"/>
<polygon points="2210,2118.2 2270,2107 2320,2138.8 2320,2208.8 2260,2220 2210,2188.2"/><path d="M2210 2118.2L2260 2150L2320 2138.8M2260 2150L2260 2220"/>
<polygon points="2220,2067.1 2280,2055.9 2320,2081.3 2320,2135.3 2260,2146.5 2220,2121.1"/><path d="M2220 2067.1L2260 2092.5L2320 2081.3M2260 2092.5L2260 2146.5"/>
<polygon points="2302,2129.8 2322,2126.1 2338,2136.3 2338,2188.3 2318,2192 2302,2181.8"/><path d="M2302 2129.8L2318 2140L2338 2136.3M2318 2140L2318 2192"/><path d="M2302 2147.2L2318 2157.3L2338 2153.6M2302 2164.5L2318 2174.7L2338 2170.9" fill="none"/>
<polygon points="1737.1,2187.9 1750.7,2185.4 1766.6,2195.5 1766.6,2225.5 1753,2228 1737.1,2217.9"/><path d="M1737.1 2187.9L1753 2198.1L1766.6 2195.5M1753 2198.1L1753 2228"/><path d="M1737.1 2202.9L1753 2213L1766.6 2210.5" fill="none"/>
<polygon points="1721.1,2185.2 1738.5,2182 1754.1,2191.9 1754.1,2225.7 1736.7,2228.9 1721.1,2219"/><path d="M1721.1 2185.2L1736.7 2195.1L1754.1 2191.9M1736.7 2195.1L1736.7 2228.9"/><path d="M1721.1 2202.1L1736.7 2212L1754.1 2208.8" fill="none"/>
<path d="M862 2125v22q0 14 14 20l44 26M1000 2130v40q0 14 -16 18l-52 18M927 2150v70" fill="none" stroke-width="16"/><path d="M862 2125v22q0 14 14 20l44 26M1000 2130v40q0 14 -16 18l-52 18M927 2150v70" stroke="#fff" stroke-width="10.5" fill="none"/><ellipse cx="927" cy="2226" rx="24" ry="9"/><ellipse cx="927" cy="2220" rx="12" ry="5"/><rect x="848" y="2140" width="6" height="46"/><rect x="1004" y="2160" width="6" height="46"/>
<polygon points="2407.5,1988.2 2582.5,1955.4 2735,2052.3 2735,2192.3 2560,2225 2407.5,2128.2" stroke-width="2.8"/><path d="M2407.5 1988.2L2560 2085L2735 2052.3M2560 2085L2560 2225" stroke-width="2.8"/><polygon points="2552,2087.9 2417.5,2002.5 2417.5,2126.5 2552,2211.9"/><path d="M2552 2096.8L2417.5 2011.4M2552 2106.7L2417.5 2021.3M2552 2116.5L2417.5 2031.1M2552 2126.3L2417.5 2040.9M2552 2136.2L2417.5 2050.8M2552 2146L2417.5 2060.6M2552 2155.8L2417.5 2070.4M2552 2165.7L2417.5 2080.3M2552 2175.5L2417.5 2090.1M2552 2185.3L2417.5 2099.9M2552 2195.2L2417.5 2109.8M2552 2205L2417.5 2119.6" fill="none"/>
<polygon points="1908.2,2167 1926.8,2163.6 1938.8,2171.1 1938.8,2227.3 1920.1,2230.8 1908.2,2223.2"/><path d="M1908.2 2167L1920.1 2174.6L1938.8 2171.1M1920.1 2174.6L1920.1 2230.8"/><path d="M1908.2 2181.1L1920.1 2188.7L1938.8 2185.2M1908.2 2195.1L1920.1 2202.7L1938.8 2199.2M1908.2 2209.1L1920.1 2216.7L1938.8 2213.2" fill="none"/>
<path d="M834.5 1980.5L834.5 2120A28 8.4 0 0 0 890.5 2120L890.5 1980.5Z" fill="#fff"/><ellipse cx="862.5" cy="1980.5" rx="28" ry="8.4"/><path d="M836.5 1972.5L836.5 1980.5A26 8.4 0 0 0 888.5 1980.5L888.5 1972.5Z" fill="#fff"/><ellipse cx="862.5" cy="1972.5" rx="26" ry="8.4"/><path d="M834.5 1988.5A28 8.4 0 0 0 890.5 1988.5" fill="none"/><path d="M834.5 2110A28 8.4 0 0 0 890.5 2110" fill="none"/>
<polygon points="2593,2108 2611,2104.7 2633,2118.6 2633,2170.6 2615,2174 2593,2160"/><path d="M2593 2108L2615 2122L2633 2118.6M2615 2122L2615 2174"/><path d="M2593 2113.8L2615 2127.8L2633 2124.4M2593 2119.6L2615 2133.6L2633 2130.2M2593 2125.4L2615 2139.3L2633 2136M2593 2131.1L2615 2145.1L2633 2141.7M2593 2136.9L2615 2150.9L2633 2147.5M2593 2142.7L2615 2156.7L2633 2153.3M2593 2148.5L2615 2162.4L2633 2159.1M2593 2154.3L2615 2168.2L2633 2164.9" fill="none"/>
<polygon points="2618,2104 2636,2100.7 2658,2114.6 2658,2166.6 2640,2170 2618,2156"/><path d="M2618 2104L2640 2118L2658 2114.6M2640 2118L2640 2170"/><path d="M2618 2109.8L2640 2123.8L2658 2120.4M2618 2115.6L2640 2129.6L2658 2126.2M2618 2121.4L2640 2135.3L2658 2132M2618 2127.1L2640 2141.1L2658 2137.7M2618 2132.9L2640 2146.9L2658 2143.5M2618 2138.7L2640 2152.7L2658 2149.3M2618 2144.5L2640 2158.4L2658 2155.1M2618 2150.3L2640 2164.2L2658 2160.9" fill="none"/>
<polygon points="1433,2181.2 1448.5,2178.3 1462.9,2187.4 1462.9,2229 1447.4,2231.9 1433,2222.8"/><path d="M1433 2181.2L1447.4 2190.3L1462.9 2187.4M1447.4 2190.3L1447.4 2231.9"/>
<path d="M972 1978L972 2125A28 8.4 0 0 0 1028 2125L1028 1978Z" fill="#fff"/><ellipse cx="1000" cy="1978" rx="28" ry="8.4"/><path d="M974 1970L974 1978A26 8.4 0 0 0 1026 1978L1026 1970Z" fill="#fff"/><ellipse cx="1000" cy="1970" rx="26" ry="8.4"/><path d="M972 1986A28 8.4 0 0 0 1028 1986" fill="none"/><path d="M972 2115A28 8.4 0 0 0 1028 2115" fill="none"/>
<path d="M2433 2201C2431 2175 2439 2161 2449 2159L2463 2159C2475 2165 2481 2185 2479 2203Z"/><path d="M2457 2161L2458 2201" stroke-width="2.2"/><ellipse cx="2455" cy="2151" rx="11" ry="14"/><path d="M2452 2138C2462 2134 2468 2142 2467 2160L2459 2163C2460 2154 2458 2144 2452 2138Z" fill="#000" stroke-width="1.5"/><polygon points="2463,2203 2485,2209 2489,2203 2467,2197"/>
<path d="M897.5 2000.5L897.5 2145A30 9 0 0 0 957.5 2145L957.5 2000.5Z" fill="#fff"/><ellipse cx="927.5" cy="2000.5" rx="30" ry="9"/><path d="M899.5 1992.5L899.5 2000.5A28 9 0 0 0 955.5 2000.5L955.5 1992.5Z" fill="#fff"/><ellipse cx="927.5" cy="1992.5" rx="28" ry="9"/><path d="M897.5 2008.5A30 9 0 0 0 957.5 2008.5" fill="none"/><path d="M897.5 2135A30 9 0 0 0 957.5 2135" fill="none"/>
<polygon points="1306.7,2158.3 1323,2155.2 1334.6,2162.6 1334.6,2230.4 1318.3,2233.4 1306.7,2226.1"/><path d="M1306.7 2158.3L1318.3 2165.6L1334.6 2162.6M1318.3 2165.6L1318.3 2233.4"/><path d="M1306.7 2171.8L1318.3 2179.2L1334.6 2176.2M1306.7 2185.4L1318.3 2192.8L1334.6 2189.7M1306.7 2198.9L1318.3 2206.3L1334.6 2203.3M1306.7 2212.5L1318.3 2219.9L1334.6 2216.8" fill="none"/>
<polygon points="949,2193.5 979,2187.9 1005,2204.4 1005,2224.4 975,2230 949,2213.5"/><path d="M949 2193.5L975 2210L1005 2204.4M975 2210L975 2230"/>
<rect x="1143.5" y="2215.5" width="6.5" height="22"/><rect x="1156.5" y="2215.5" width="6.5" height="22"/><path d="M1140.5 2191.5Q1124.5 2191.5 1110.5 2181.5M1165.5 2191.5Q1180.5 2195.5 1195.5 2200.5" fill="none" stroke-width="12"/><path d="M1140.5 2191.5Q1124.5 2191.5 1110.5 2181.5M1165.5 2191.5Q1180.5 2195.5 1195.5 2200.5" fill="none" stroke="#fff" stroke-width="6.5"/><ellipse cx="1108.5" cy="2180.5" rx="5.5" ry="5.5"/><ellipse cx="1197.5" cy="2201.5" rx="5.5" ry="5.5"/><path d="M1139.5 2185.5L1133.5 2215.5L1171.5 2215.5L1167.5 2185.5C1162.5 2179.5 1144.5 2179.5 1139.5 2185.5Z"/><path d="M1154.5 2183.5L1154.5 2215.5" stroke-width="2.2"/><path d="M1147.5 2191.5v.1M1147.5 2199.5v.1M1147.5 2207.5v.1" stroke-width="3.2" stroke-linecap="round"/><ellipse cx="1151.5" cy="2172.5" rx="11.5" ry="14"/><path d="M1148.5 2159.5C1158.5 2155.5 1164.5 2163.5 1163.5 2181.5L1155.5 2184.5C1156.5 2175.5 1154.5 2165.5 1148.5 2159.5Z" fill="#000" stroke-width="1.5"/>
<polygon points="1742.1,2195.8 1760.2,2192.5 1771.9,2199.9 1771.9,2237.2 1753.9,2240.6 1742.1,2233.2"/><path d="M1742.1 2195.8L1753.9 2203.3L1771.9 2199.9M1753.9 2203.3L1753.9 2240.6"/>
<polygon points="1661.5,2197.1 1675,2194.5 1690.7,2204.5 1690.7,2239.6 1677.2,2242.1 1661.5,2232.2"/><path d="M1661.5 2197.1L1677.2 2207L1690.7 2204.5M1677.2 2207L1677.2 2242.1"/>
<polygon points="1440.7,2192 1453.6,2189.6 1467.4,2198.4 1467.4,2240.8 1454.5,2243.2 1440.7,2234.5"/><path d="M1440.7 2192L1454.5 2200.8L1467.4 2198.4M1454.5 2200.8L1454.5 2243.2"/>
<polygon points="1772.3,2184.6 1788.8,2181.5 1804,2191.2 1804,2240.4 1787.5,2243.5 1772.3,2233.8"/><path d="M1772.3 2184.6L1787.5 2194.3L1804 2191.2M1787.5 2194.3L1787.5 2243.5"/>
<polygon points="2278,2148.6 2300,2144.5 2318,2155.9 2318,2203.9 2296,2208 2278,2196.6"/><path d="M2278 2148.6L2296 2160L2318 2155.9M2296 2160L2296 2208"/><path d="M2278 2164.6L2296 2176L2318 2171.9M2278 2180.6L2296 2192L2318 2187.9" fill="none"/>
<polygon points="1468.7,2189.8 1483.6,2187 1498.4,2196.4 1498.4,2244.8 1483.5,2247.6 1468.7,2238.2"/><path d="M1468.7 2189.8L1483.5 2199.1L1498.4 2196.4M1483.5 2199.1L1483.5 2247.6"/>
<polygon points="1300.1,2200.3 1314.3,2197.6 1325.7,2204.9 1325.7,2246.9 1311.5,2249.5 1300.1,2242.3"/><path d="M1300.1 2200.3L1311.5 2207.5L1325.7 2204.9M1311.5 2207.5L1311.5 2249.5"/>
<polygon points="1920.6,2178.2 1934.2,2175.6 1949.8,2185.6 1949.8,2247.2 1936.2,2249.8 1920.6,2239.9"/><path d="M1920.6 2178.2L1936.2 2188.1L1949.8 2185.6M1936.2 2188.1L1936.2 2249.8"/>
<polygon points="1976.6,2181.2 1991.7,2178.3 2006.5,2187.7 2006.5,2248.1 1991.3,2251 1976.6,2241.6"/><path d="M1976.6 2181.2L1991.3 2190.5L2006.5 2187.7M1991.3 2190.5L1991.3 2251"/>
<polygon points="2128,2140 2196,2130 2196,2182 2128,2194"/><polygon points="2136,2148 2188,2140 2188,2176 2136,2186" stroke-width="2.4"/><polygon points="2108,2196 2210,2178 2262,2205 2160,2228"/><path d="M2108 2196v6l52 32v-6M2160 2234l102 -24v-5" fill="none" stroke-width="2.6"/><rect x="2166" y="2232" width="5" height="22"/><rect x="2254" y="2210" width="5" height="20"/><polygon points="2166,2204 2206,2196 2222,2206 2182,2215" stroke-width="2.4"/>
<polygon points="1802.4,2185.2 1819.7,2182 1835,2191.7 1835,2253.7 1817.7,2257 1802.4,2247.3"/><path d="M1802.4 2185.2L1817.7 2195L1835 2191.7M1817.7 2195L1817.7 2257"/>
<polygon points="2266,2232 2278,2228 2274,2244 2262,2246" stroke-width="2.2"/>
<rect x="2331" y="2235.5" width="6.5" height="22"/><rect x="2344" y="2235.5" width="6.5" height="22"/><path d="M2328 2211.5Q2312 2211.5 2298 2201.5M2353 2211.5Q2368 2215.5 2383 2220.5" fill="none" stroke-width="12"/><path d="M2328 2211.5Q2312 2211.5 2298 2201.5M2353 2211.5Q2368 2215.5 2383 2220.5" fill="none" stroke="#fff" stroke-width="6.5"/><ellipse cx="2296" cy="2200.5" rx="5.5" ry="5.5"/><ellipse cx="2385" cy="2221.5" rx="5.5" ry="5.5"/><path d="M2327 2205.5L2321 2235.5L2359 2235.5L2355 2205.5C2350 2199.5 2332 2199.5 2327 2205.5Z"/><path d="M2342 2203.5L2342 2235.5" stroke-width="2.2"/><path d="M2335 2211.5v.1M2335 2219.5v.1M2335 2227.5v.1" stroke-width="3.2" stroke-linecap="round"/><ellipse cx="2339" cy="2192.5" rx="11.5" ry="14"/><path d="M2336 2179.5C2346 2175.5 2352 2183.5 2351 2201.5L2343 2204.5C2344 2195.5 2342 2185.5 2336 2179.5Z" fill="#000" stroke-width="1.5"/>
<polygon points="1711,2218.7 1728.5,2215.4 1741.2,2223.4 1741.2,2256.3 1723.7,2259.6 1711,2251.6"/><path d="M1711 2218.7L1723.7 2226.7L1741.2 2223.4M1723.7 2226.7L1723.7 2259.6"/>
<polygon points="1654,2187 1668.4,2184.3 1682.4,2193.1 1682.4,2257.1 1668,2259.8 1654,2250.9"/><path d="M1654 2187L1668 2195.8L1682.4 2193.1M1668 2195.8L1668 2259.8"/><path d="M1654 2203L1668 2211.8L1682.4 2209.1M1654 2218.9L1668 2227.8L1682.4 2225.1M1654 2234.9L1668 2243.8L1682.4 2241.1" fill="none"/>
<polygon points="2216,2222 2252,2214 2254,2240 2218,2248"/><path d="M2234 2246v14M2222 2266l12 -6l14 6M2234 2260v10" fill="none"/>
<polygon points="2575,2160.1 2630,2149.8 2685,2184.7 2685,2250.7 2630,2261 2575,2226.1"/><path d="M2575 2160.1L2630 2195L2685 2184.7M2630 2195L2630 2261"/><polygon points="2656,2216.1 2661,2215.2 2661,2229.2 2656,2230.1" stroke-width="2.4"/>
<polygon points="1964.6,2193.5 1982.2,2190.3 1995.1,2198.5 1995.1,2259.4 1977.6,2262.6 1964.6,2254.4"/><path d="M1964.6 2193.5L1977.6 2201.8L1995.1 2198.5M1977.6 2201.8L1977.6 2262.6"/><path d="M1964.6 2208.8L1977.6 2217L1995.1 2213.7M1964.6 2224L1977.6 2232.2L1995.1 2228.9M1964.6 2239.2L1977.6 2247.4L1995.1 2244.1" fill="none"/>
<polygon points="1341.3,2216.7 1356.9,2213.8 1371.4,2223 1371.4,2260.7 1355.8,2263.6 1341.3,2254.4"/><path d="M1341.3 2216.7L1355.8 2225.9L1371.4 2223M1355.8 2225.9L1355.8 2263.6"/>
<polygon points="1768.8,2224.7 1783,2222.1 1795.4,2229.9 1795.4,2262.7 1781.2,2265.3 1768.8,2257.5"/><path d="M1768.8 2224.7L1781.2 2232.6L1795.4 2229.9M1781.2 2232.6L1781.2 2265.3"/>
<polygon points="1299.8,2195.2 1318.7,2191.7 1333.4,2201 1333.4,2262.1 1314.5,2265.6 1299.8,2256.3"/><path d="M1299.8 2195.2L1314.5 2204.6L1333.4 2201M1314.5 2204.6L1314.5 2265.6"/>
<polygon points="1905.8,2206.1 1921,2203.3 1936.7,2213.2 1936.7,2263.6 1921.5,2266.5 1905.8,2256.5"/><path d="M1905.8 2206.1L1921.5 2216.1L1936.7 2213.2M1921.5 2216.1L1921.5 2266.5"/>
<polygon points="1730.7,2202 1743.9,2199.6 1758.3,2208.7 1758.3,2264.4 1745.2,2266.9 1730.7,2257.7"/><path d="M1730.7 2202L1745.2 2211.2L1758.3 2208.7M1745.2 2211.2L1745.2 2266.9"/>
<path d="M2106 2262C2104 2236 2112 2222 2122 2220L2136 2220C2148 2226 2154 2246 2152 2264Z"/><path d="M2130 2222L2131 2262" stroke-width="2.2"/><ellipse cx="2128" cy="2212" rx="11" ry="14"/><path d="M2125 2199C2135 2195 2141 2203 2140 2221L2132 2224C2133 2215 2131 2205 2125 2199Z" fill="#000" stroke-width="1.5"/><polygon points="2136,2264 2158,2270 2162,2264 2140,2258"/>
<polygon points="1501.5,2203.2 1519.2,2199.8 1529.9,2206.6 1529.9,2266.6 1512.1,2269.9 1501.5,2263.2"/><path d="M1501.5 2203.2L1512.1 2209.9L1529.9 2206.6M1512.1 2209.9L1512.1 2269.9"/>
<polygon points="1753.8,2216.5 1767.2,2214 1777.5,2220.5 1777.5,2269.5 1764.1,2272 1753.8,2265.4"/><path d="M1753.8 2216.5L1764.1 2223L1777.5 2220.5M1764.1 2223L1764.1 2272"/>
<polygon points="1712.7,2220.7 1730.5,2217.4 1746.5,2227.5 1746.5,2269.9 1728.7,2273.2 1712.7,2263"/><path d="M1712.7 2220.7L1728.7 2230.9L1746.5 2227.5M1728.7 2230.9L1728.7 2273.2"/><path d="M1712.7 2234.8L1728.7 2245L1746.5 2241.6M1712.7 2248.9L1728.7 2259.1L1746.5 2255.8" fill="none"/>
<path d="M2683 2222L2683 2268A17 6.5 0 0 0 2717 2268L2717 2222Z" fill="#fff"/><ellipse cx="2700" cy="2222" rx="17" ry="6.5"/><path d="M2683 2237.2A17 6.5 0 0 0 2717 2237.2" fill="none"/><path d="M2683 2252.4A17 6.5 0 0 0 2717 2252.4" fill="none"/>
<polygon points="1637.2,2204.8 1650.6,2202.3 1661.7,2209.4 1661.7,2274.7 1648.3,2277.2 1637.2,2270.2"/><path d="M1637.2 2204.8L1648.3 2211.9L1661.7 2209.4M1648.3 2211.9L1648.3 2277.2"/>
<polygon points="1478.2,2239.3 1494.8,2236.2 1507.1,2244 1507.1,2275.7 1490.5,2278.8 1478.2,2270.9"/><path d="M1478.2 2239.3L1490.5 2247.1L1507.1 2244M1490.5 2247.1L1490.5 2278.8"/><path d="M1478.2 2255.1L1490.5 2263L1507.1 2259.9" fill="none"/>
<polygon points="1353,2185.2 1415,2173.6 1454,2198.4 1454,2268.4 1392,2280 1353,2255.2"/><path d="M1353 2185.2L1392 2210L1454 2198.4M1392 2210L1392 2280"/>
<polygon points="1309.2,2222.4 1322.7,2219.9 1337.6,2229.3 1337.6,2283 1324,2285.5 1309.2,2276.1"/><path d="M1309.2 2222.4L1324 2231.9L1337.6 2229.3M1324 2231.9L1324 2285.5"/>
<polygon points="1964.7,2232 1982.8,2228.6 1997.8,2238.1 1997.8,2282.6 1979.7,2286 1964.7,2276.5"/><path d="M1964.7 2232L1979.7 2241.5L1997.8 2238.1M1979.7 2241.5L1979.7 2286"/>
<polygon points="1744.4,2223.9 1760.4,2220.9 1772.4,2228.5 1772.4,2283.2 1756.3,2286.2 1744.4,2278.7"/><path d="M1744.4 2223.9L1756.3 2231.5L1772.4 2228.5M1756.3 2231.5L1756.3 2286.2"/>
<polygon points="1798.6,2225.5 1814.1,2222.6 1827.4,2231 1827.4,2283.6 1811.9,2286.5 1798.6,2278"/><path d="M1798.6 2225.5L1811.9 2233.9L1827.4 2231M1811.9 2233.9L1811.9 2286.5"/><path d="M1798.6 2238.6L1811.9 2247.1L1827.4 2244.2M1798.6 2251.7L1811.9 2260.2L1827.4 2257.3M1798.6 2264.9L1811.9 2273.3L1827.4 2270.4" fill="none"/>
<polygon points="1336.8,2242.3 1350.3,2239.8 1363.6,2248.2 1363.6,2286 1350.1,2288.5 1336.8,2280.1"/><path d="M1336.8 2242.3L1350.1 2250.7L1363.6 2248.2M1350.1 2250.7L1350.1 2288.5"/>
<polygon points="1666.6,2233 1682.8,2230 1695.6,2238.1 1695.6,2286.4 1679.3,2289.4 1666.6,2281.3"/><path d="M1666.6 2233L1679.3 2241.1L1695.6 2238.1M1679.3 2241.1L1679.3 2289.4"/><path d="M1666.6 2249.1L1679.3 2257.2L1695.6 2254.2M1666.6 2265.2L1679.3 2273.3L1695.6 2270.3" fill="none"/>
<rect x="2488.5" y="2268" width="6.5" height="22"/><rect x="2501.5" y="2268" width="6.5" height="22"/><path d="M2485.5 2244Q2469.5 2244 2455.5 2234M2510.5 2244Q2525.5 2248 2540.5 2253" fill="none" stroke-width="12"/><path d="M2485.5 2244Q2469.5 2244 2455.5 2234M2510.5 2244Q2525.5 2248 2540.5 2253" fill="none" stroke="#fff" stroke-width="6.5"/><ellipse cx="2453.5" cy="2233" rx="5.5" ry="5.5"/><ellipse cx="2542.5" cy="2254" rx="5.5" ry="5.5"/><path d="M2484.5 2238L2478.5 2268L2516.5 2268L2512.5 2238C2507.5 2232 2489.5 2232 2484.5 2238Z"/><path d="M2499.5 2236L2499.5 2268" stroke-width="2.2"/><path d="M2492.5 2244v.1M2492.5 2252v.1M2492.5 2260v.1" stroke-width="3.2" stroke-linecap="round"/><ellipse cx="2496.5" cy="2225" rx="11.5" ry="14"/><path d="M2493.5 2212C2503.5 2208 2509.5 2216 2508.5 2234L2500.5 2237C2501.5 2228 2499.5 2218 2493.5 2212Z" fill="#000" stroke-width="1.5"/>
<polygon points="1469.7,2235 1483.9,2232.3 1494.9,2239.3 1494.9,2291.4 1480.7,2294.1 1469.7,2287.1"/><path d="M1469.7 2235L1480.7 2242L1494.9 2239.3M1480.7 2242L1480.7 2294.1"/>
<polygon points="1423.8,2241.1 1439.3,2238.1 1453.1,2246.9 1453.1,2292.3 1437.6,2295.2 1423.8,2286.5"/><path d="M1423.8 2241.1L1437.6 2249.8L1453.1 2246.9M1437.6 2249.8L1437.6 2295.2"/>
<polygon points="1683,2256.9 1698.9,2253.9 1710.8,2261.5 1710.8,2292.6 1694.9,2295.6 1683,2288.1"/><path d="M1683 2256.9L1694.9 2264.5L1710.8 2261.5M1694.9 2264.5L1694.9 2295.6"/>
<polygon points="1713.3,2234.9 1731.4,2231.5 1746.9,2241.4 1746.9,2294.9 1728.8,2298.3 1713.3,2288.4"/><path d="M1713.3 2234.9L1728.8 2244.8L1746.9 2241.4M1728.8 2244.8L1728.8 2298.3"/><path d="M1713.3 2248.3L1728.8 2258.1L1746.9 2254.8M1713.3 2261.6L1728.8 2271.5L1746.9 2268.1M1713.3 2275L1728.8 2284.9L1746.9 2281.5" fill="none"/>
<polygon points="1759.6,2260.6 1778.2,2257.1 1789.2,2264.1 1789.2,2295 1770.7,2298.5 1759.6,2291.4"/><path d="M1759.6 2260.6L1770.7 2267.6L1789.2 2264.1M1770.7 2267.6L1770.7 2298.5"/>
<polygon points="1291.3,2241.7 1307.5,2238.6 1319.1,2245.9 1319.1,2296.5 1302.8,2299.5 1291.3,2292.2"/><path d="M1291.3 2241.7L1302.8 2249L1319.1 2245.9M1302.8 2249L1302.8 2299.5"/>
<path d="M2645 2250L2645 2298A17 6.5 0 0 0 2679 2298L2679 2250Z" fill="#fff"/><ellipse cx="2662" cy="2250" rx="17" ry="6.5"/><path d="M2645 2265.8A17 6.5 0 0 0 2679 2265.8" fill="none"/><path d="M2645 2281.7A17 6.5 0 0 0 2679 2281.7" fill="none"/>
<polygon points="1940.5,2226.1 1958.9,2222.7 1974.5,2232.6 1974.5,2299.4 1956.1,2302.8 1940.5,2292.9"/><path d="M1940.5 2226.1L1956.1 2236L1974.5 2232.6M1956.1 2236L1956.1 2302.8"/>
<polygon points="1741.9,2230.7 1760.1,2227.3 1774.1,2236.2 1774.1,2299.5 1755.9,2302.9 1741.9,2294.1"/><path d="M1741.9 2230.7L1755.9 2239.6L1774.1 2236.2M1755.9 2239.6L1755.9 2302.9"/>
<polygon points="1447.5,2259.1 1460.4,2256.7 1473.3,2264.8 1473.3,2303.5 1460.4,2305.9 1447.5,2297.8"/><path d="M1447.5 2259.1L1460.4 2267.2L1473.3 2264.8M1460.4 2267.2L1460.4 2305.9"/><path d="M1447.5 2278.4L1460.4 2286.6L1473.3 2284.2" fill="none"/>
<polygon points="1500,2265.1 1512.7,2262.8 1527.4,2272.1 1527.4,2306.4 1514.7,2308.7 1500,2299.4"/><path d="M1500 2265.1L1514.7 2274.5L1527.4 2272.1M1514.7 2274.5L1514.7 2308.7"/>
<path d="M2689 2262L2689 2310A17 6.5 0 0 0 2723 2310L2723 2262Z" fill="#fff"/><ellipse cx="2706" cy="2262" rx="17" ry="6.5"/><path d="M2689 2277.8A17 6.5 0 0 0 2723 2277.8" fill="none"/><path d="M2689 2293.7A17 6.5 0 0 0 2723 2293.7" fill="none"/>
<polygon points="1795.6,2255.7 1812.7,2252.5 1828.1,2262.3 1828.1,2307 1810.9,2310.3 1795.6,2300.5"/><path d="M1795.6 2255.7L1810.9 2265.5L1828.1 2262.3M1810.9 2265.5L1810.9 2310.3"/>
<polygon points="1786.8,2212.8 1845.8,2201.8 1893.8,2232.3 1893.8,2299.3 1834.8,2310.3 1786.8,2279.8"/><path d="M1786.8 2212.8L1834.8 2243.3L1893.8 2232.3M1834.8 2243.3L1834.8 2310.3"/>
<polygon points="1523.3,2245.9 1535.7,2243.6 1547.5,2251.1 1547.5,2309 1535.2,2311.4 1523.3,2303.9"/><path d="M1523.3 2245.9L1535.2 2253.4L1547.5 2251.1M1535.2 2253.4L1535.2 2311.4"/><path d="M1523.3 2260.4L1535.2 2267.9L1547.5 2265.6M1523.3 2274.9L1535.2 2282.4L1547.5 2280.1M1523.3 2289.4L1535.2 2296.9L1547.5 2294.6" fill="none"/>
<polygon points="1810.9,2136.7 1861.9,2127.1 1914.4,2160.5 1914.4,2230.5 1863.4,2240 1810.9,2206.7"/><path d="M1810.9 2136.7L1863.4 2170L1914.4 2160.5M1863.4 2170L1863.4 2240"/><ellipse cx="1822" cy="2161" rx="3.5" ry="5" fill="#000"/><ellipse cx="1835" cy="2168" rx="3.5" ry="5" fill="#000"/><ellipse cx="1848" cy="2175" rx="3.5" ry="5" fill="#000"/><polygon points="1871.4,2186.5 1878.4,2185.2 1878.4,2203.2 1871.4,2204.5"/>
<polygon points="1732,2253.1 1745.1,2250.7 1760.3,2260.3 1760.3,2309.9 1747.2,2312.4 1732,2302.7"/><path d="M1732 2253.1L1747.2 2262.8L1760.3 2260.3M1747.2 2262.8L1747.2 2312.4"/>
<polygon points="1808.1,2283.3 1823.3,2280.5 1833.7,2287.1 1833.7,2317.7 1818.5,2320.6 1808.1,2314"/><path d="M1808.1 2283.3L1818.5 2289.9L1833.7 2287.1M1818.5 2289.9L1818.5 2320.6"/><path d="M1808.1 2298.7L1818.5 2305.2L1833.7 2302.4" fill="none"/>
<polygon points="1532.9,2285.7 1547.3,2283 1558.4,2290 1558.4,2323.9 1544,2326.6 1532.9,2319.6"/><path d="M1532.9 2285.7L1544 2292.7L1558.4 2290M1544 2292.7L1544 2326.6"/><path d="M1532.9 2302.6L1544 2309.7L1558.4 2307" fill="none"/>
<polygon points="1733.9,2264.3 1750.8,2261.1 1764.2,2269.6 1764.2,2324.5 1747.2,2327.6 1733.9,2319.2"/><path d="M1733.9 2264.3L1747.2 2272.8L1764.2 2269.6M1747.2 2272.8L1747.2 2327.6"/><path d="M1733.9 2278L1747.2 2286.5L1764.2 2283.3M1733.9 2291.7L1747.2 2300.2L1764.2 2297.1M1733.9 2305.4L1747.2 2313.9L1764.2 2310.8" fill="none"/>
<polygon points="1752,2285 1769.3,2281.7 1781.8,2289.6 1781.8,2333.6 1764.5,2336.9 1752,2328.9"/><path d="M1752 2285L1764.5 2292.9L1781.8 2289.6M1764.5 2292.9L1764.5 2336.9"/>
<polygon points="1490.1,2274.2 1507.7,2270.9 1519.8,2278.6 1519.8,2333.6 1502.2,2336.9 1490.1,2329.2"/><path d="M1490.1 2274.2L1502.2 2281.9L1519.8 2278.6M1502.2 2281.9L1502.2 2336.9"/><path d="M1490.1 2288L1502.2 2295.6L1519.8 2292.3M1490.1 2301.7L1502.2 2309.4L1519.8 2306.1M1490.1 2315.5L1502.2 2323.1L1519.8 2319.8" fill="none"/>
</svg>
</body></html>
